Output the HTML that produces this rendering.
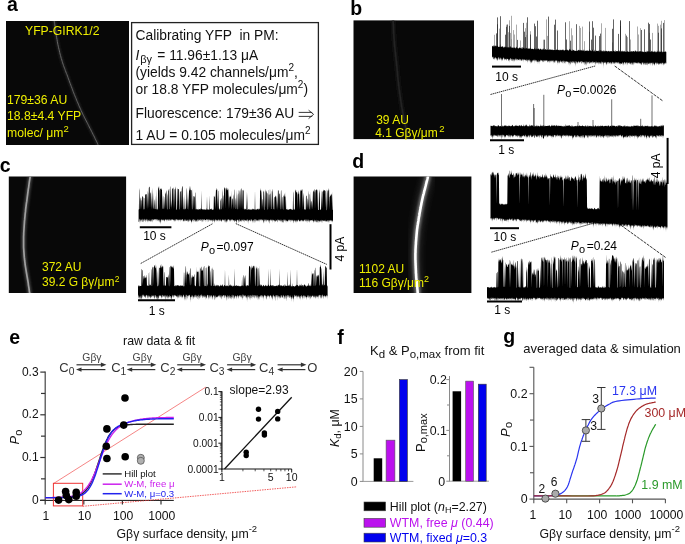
<!DOCTYPE html>
<html><head><meta charset="utf-8"><style>
html,body{margin:0;padding:0;background:#fff;}
svg{display:block;}
text{font-family:"Liberation Sans",sans-serif;}
</style></head><body>
<svg width="685" height="544" viewBox="0 0 685 544">
<rect width="685" height="544" fill="#fff"/>
<g opacity="0.999">
<text x="7.0" y="10.6" font-size="19.5" fill="#000" text-anchor="start" font-weight="bold">a</text>
<text x="350.3" y="14.8" font-size="19.5" fill="#000" text-anchor="start" font-weight="bold">b</text>
<text x="-0.2" y="171.9" font-size="19.5" fill="#000" text-anchor="start" font-weight="bold">c</text>
<text x="352.2" y="167.7" font-size="19.5" fill="#000" text-anchor="start" font-weight="bold">d</text>
<text x="9.3" y="343.6" font-size="19.5" fill="#000" text-anchor="start" font-weight="bold">e</text>
<text x="337.2" y="343.7" font-size="19.5" fill="#000" text-anchor="start" font-weight="bold">f</text>
<text x="503.3" y="343.4" font-size="19.5" fill="#000" text-anchor="start" font-weight="bold">g</text>
<defs><filter id="blur1" x="-50%" y="-50%" width="200%" height="200%"><feGaussianBlur stdDeviation="1.2"/></filter><filter id="blur3" x="-50%" y="-50%" width="200%" height="200%"><feGaussianBlur stdDeviation="3"/></filter></defs>
<rect x="6" y="21" width="123" height="124" fill="#080808" />
<g clip-path="url(#clip6_21)">
<clipPath id="clip6_21"><rect x="6" y="21" width="123" height="124"/></clipPath>
<path d="M53.8,19.0 L53.8,19.1 L53.8,19.2 L53.8,19.2 L53.9,19.2 L53.9,19.3 L53.9,19.4 L53.9,19.5 L54.0,19.8 L54.1,20.2 L54.1,20.7 L54.3,21.4 L54.4,22.3 L54.6,23.4 L54.8,24.8 L55.0,26.3 L55.2,28.0 L55.5,29.8 L55.8,31.7 L56.0,33.7 L56.3,35.6 L56.6,37.6 L57.0,39.5 L57.3,41.3 L57.6,43.0 L57.9,44.6 L58.3,46.2 L58.6,47.8 L59.0,49.4 L59.4,50.9 L59.7,52.5 L60.1,54.0 L60.5,55.5 L60.9,57.0 L61.3,58.5 L61.8,60.0 L62.2,61.4 L62.6,62.8 L63.1,64.2 L63.5,65.5 L64.0,66.9 L64.5,68.2 L65.0,69.5 L65.4,70.7 L65.9,72.0 L66.4,73.4 L67.0,74.7 L67.5,76.1 L68.0,77.5 L68.5,79.0 L69.1,80.5 L69.6,82.0 L70.2,83.5 L70.8,85.1 L71.4,86.7 L72.0,88.3 L72.6,89.9 L73.1,91.4 L73.7,92.9 L74.3,94.4 L74.9,95.9 L75.5,97.3 L76.1,98.7 L76.6,100.1 L77.2,101.5 L77.8,102.9 L78.4,104.2 L78.9,105.6 L79.5,106.9 L80.1,108.2 L80.7,109.5 L81.2,110.7 L81.8,112.0 L82.4,113.2 L82.9,114.4 L83.5,115.5 L84.1,116.7 L84.6,117.8 L85.2,118.9 L85.7,119.9 L86.3,121.0 L86.9,122.2 L87.5,123.3 L88.1,124.5 L88.7,125.7 L89.3,127.0 L90.0,128.4 L90.8,129.8 L91.5,131.3 L92.3,132.8 L93.0,134.3 L93.8,135.8 L94.5,137.2 L95.1,138.6 L95.7,139.8 L96.3,140.9 L96.7,141.8 L97.1,142.6 L97.4,143.2 L97.6,143.8 L97.8,144.2 L97.9,144.6 L98.0,144.9 L98.1,145.2 L98.2,145.4 L98.2,145.5 L98.3,145.7 L98.3,145.8 L98.4,146.0" fill="none" stroke="#444" stroke-width="3" stroke-opacity="0.45" filter="url(#blur1)"/>
<path d="M53.8,19.0 L53.8,19.1 L53.8,19.2 L53.8,19.2 L53.9,19.2 L53.9,19.3 L53.9,19.4 L53.9,19.5 L54.0,19.8 L54.1,20.2 L54.1,20.7 L54.3,21.4 L54.4,22.3 L54.6,23.4 L54.8,24.8 L55.0,26.3 L55.2,28.0 L55.5,29.8 L55.8,31.7 L56.0,33.7 L56.3,35.6 L56.6,37.6 L57.0,39.5 L57.3,41.3 L57.6,43.0 L57.9,44.6 L58.3,46.2 L58.6,47.8 L59.0,49.4 L59.4,50.9 L59.7,52.5 L60.1,54.0 L60.5,55.5 L60.9,57.0 L61.3,58.5 L61.8,60.0 L62.2,61.4 L62.6,62.8 L63.1,64.2 L63.5,65.5 L64.0,66.9 L64.5,68.2 L65.0,69.5 L65.4,70.7 L65.9,72.0 L66.4,73.4 L67.0,74.7 L67.5,76.1 L68.0,77.5 L68.5,79.0 L69.1,80.5 L69.6,82.0 L70.2,83.5 L70.8,85.1 L71.4,86.7 L72.0,88.3 L72.6,89.9 L73.1,91.4 L73.7,92.9 L74.3,94.4 L74.9,95.9 L75.5,97.3 L76.1,98.7 L76.6,100.1 L77.2,101.5 L77.8,102.9 L78.4,104.2 L78.9,105.6 L79.5,106.9 L80.1,108.2 L80.7,109.5 L81.2,110.7 L81.8,112.0 L82.4,113.2 L82.9,114.4 L83.5,115.5 L84.1,116.7 L84.6,117.8 L85.2,118.9 L85.7,119.9 L86.3,121.0 L86.9,122.2 L87.5,123.3 L88.1,124.5 L88.7,125.7 L89.3,127.0 L90.0,128.4 L90.8,129.8 L91.5,131.3 L92.3,132.8 L93.0,134.3 L93.8,135.8 L94.5,137.2 L95.1,138.6 L95.7,139.8 L96.3,140.9 L96.7,141.8 L97.1,142.6 L97.4,143.2 L97.6,143.8 L97.8,144.2 L97.9,144.6 L98.0,144.9 L98.1,145.2 L98.2,145.4 L98.2,145.5 L98.3,145.7 L98.3,145.8 L98.4,146.0" fill="none" stroke="#6a6a6a" stroke-width="0.9"/>
</g>
<text x="25" y="35.2" font-size="12.2" fill="#eeee00" text-anchor="start" >YFP-GIRK1/2</text>
<text x="7" y="103.7" font-size="12.2" fill="#eeee00" text-anchor="start" >179±36 AU</text>
<text x="7" y="120.4" font-size="12.2" fill="#eeee00" text-anchor="start" >18.8±4.4 YFP</text>
<text x="7" y="136.5" font-size="12.2" fill="#eeee00" text-anchor="start" >molec/ μm<tspan font-size="9.5" dy="-4.5">2</tspan></text>
<rect x="131.6" y="22.6" width="186.8" height="121.8" fill="#fff" stroke="#222" stroke-width="1.3"/>
<text x="135.5" y="40.1" font-size="13.8" fill="#111" text-anchor="start" >Calibrating YFP&#160; in PM:</text>
<text x="135.5" y="60.3" font-size="13.8" fill="#111" text-anchor="start" ><tspan font-style="italic">I</tspan><tspan font-size="11" dy="3" dx="0.8">βγ</tspan><tspan dy="-3" dx="1.5"> = 11.96±1.13 μA</tspan></text>
<text x="135.5" y="77.3" font-size="13.8" fill="#111" text-anchor="start" >(yields 9.42 channels/μm<tspan font-size="10" dy="-6">2</tspan><tspan dy="6">,</tspan></text>
<text x="135.5" y="94.2" font-size="13.8" fill="#111" text-anchor="start" >or 18.8 YFP molecules/μm<tspan font-size="10" dy="-6">2</tspan><tspan dy="6">)</tspan></text>
<text x="135.5" y="117.7" font-size="13.8" fill="#111" text-anchor="start" >Fluorescence: 179±36 AU</text>
<path d="M298.7,112.4H312.2M298.7,116.4H312.2M308.6,110.2L313.6,114.4L308.6,118.6" fill="none" stroke="#222" stroke-width="0.9"/>
<text x="135.5" y="139.9" font-size="13.8" fill="#111" text-anchor="start" >1 AU = 0.105 molecules/μm<tspan font-size="10" dy="-6">2</tspan></text>
<rect x="353.5" y="20.4" width="120.5" height="118.7" fill="#080808" />
<g clip-path="url(#clip353_20)">
<clipPath id="clip353_20"><rect x="353.5" y="20.4" width="120.5" height="118.7"/></clipPath>
<path d="M393.0,19.0 L393.0,19.1 L393.0,19.2 L393.0,19.2 L393.0,19.2 L393.0,19.3 L393.0,19.4 L393.0,19.5 L393.1,19.8 L393.1,20.2 L393.1,20.7 L393.2,21.3 L393.2,22.2 L393.3,23.3 L393.3,24.5 L393.4,25.9 L393.5,27.5 L393.5,29.2 L393.6,30.9 L393.7,32.7 L393.8,34.6 L393.9,36.5 L394.0,38.4 L394.2,40.2 L394.3,42.0 L394.4,43.8 L394.6,45.6 L394.8,47.4 L395.0,49.2 L395.2,51.1 L395.4,53.0 L395.6,54.8 L395.8,56.7 L396.0,58.6 L396.2,60.5 L396.4,62.3 L396.6,64.2 L396.8,66.0 L397.0,67.9 L397.1,69.7 L397.3,71.5 L397.5,73.4 L397.6,75.2 L397.8,77.0 L398.0,78.9 L398.2,80.7 L398.4,82.5 L398.6,84.4 L398.8,86.2 L399.0,88.1 L399.3,89.9 L399.5,91.8 L399.8,93.7 L400.1,95.6 L400.3,97.5 L400.6,99.4 L400.9,101.3 L401.2,103.1 L401.4,104.9 L401.7,106.6 L402.0,108.3 L402.3,109.9 L402.6,111.6 L402.9,113.1 L403.2,114.7 L403.5,116.2 L403.8,117.7 L404.1,119.2 L404.3,120.6 L404.6,122.0 L404.9,123.4 L405.2,124.7 L405.4,126.0 L405.6,127.3 L405.9,128.6 L406.1,129.9 L406.3,131.2 L406.5,132.4 L406.7,133.6 L406.9,134.7 L407.1,135.8 L407.2,136.8 L407.4,137.7 L407.5,138.5 L407.6,139.2 L407.7,139.8 L407.8,140.2 L407.8,140.5 L407.9,140.7 L407.9,140.8 L407.9,140.9 L407.9,141.0 L407.9,141.0 L407.9,140.9 L407.9,140.9 L407.9,140.9 L407.9,141.0" fill="none" stroke="#1c1c1c" stroke-width="4" stroke-opacity="0.7" filter="url(#blur1)"/>
<path d="M393.0,19.0 L393.0,19.1 L393.0,19.2 L393.0,19.2 L393.0,19.2 L393.0,19.3 L393.0,19.4 L393.0,19.5 L393.1,19.8 L393.1,20.2 L393.1,20.7 L393.2,21.3 L393.2,22.2 L393.3,23.3 L393.3,24.5 L393.4,25.9 L393.5,27.5 L393.5,29.2 L393.6,30.9 L393.7,32.7 L393.8,34.6 L393.9,36.5 L394.0,38.4 L394.2,40.2 L394.3,42.0 L394.4,43.8 L394.6,45.6 L394.8,47.4 L395.0,49.2 L395.2,51.1 L395.4,53.0 L395.6,54.8 L395.8,56.7 L396.0,58.6 L396.2,60.5 L396.4,62.3 L396.6,64.2 L396.8,66.0 L397.0,67.9 L397.1,69.7 L397.3,71.5 L397.5,73.4 L397.6,75.2 L397.8,77.0 L398.0,78.9 L398.2,80.7 L398.4,82.5 L398.6,84.4 L398.8,86.2 L399.0,88.1 L399.3,89.9 L399.5,91.8 L399.8,93.7 L400.1,95.6 L400.3,97.5 L400.6,99.4 L400.9,101.3 L401.2,103.1 L401.4,104.9 L401.7,106.6 L402.0,108.3 L402.3,109.9 L402.6,111.6 L402.9,113.1 L403.2,114.7 L403.5,116.2 L403.8,117.7 L404.1,119.2 L404.3,120.6 L404.6,122.0 L404.9,123.4 L405.2,124.7 L405.4,126.0 L405.6,127.3 L405.9,128.6 L406.1,129.9 L406.3,131.2 L406.5,132.4 L406.7,133.6 L406.9,134.7 L407.1,135.8 L407.2,136.8 L407.4,137.7 L407.5,138.5 L407.6,139.2 L407.7,139.8 L407.8,140.2 L407.8,140.5 L407.9,140.7 L407.9,140.8 L407.9,140.9 L407.9,141.0 L407.9,141.0 L407.9,140.9 L407.9,140.9 L407.9,140.9 L407.9,141.0" fill="none" stroke="#242424" stroke-width="1.4"/>
</g>
<text x="376.2" y="123.5" font-size="12" fill="#eeee00" text-anchor="start" >39 AU</text>
<text x="375.2" y="137" font-size="12" fill="#eeee00" text-anchor="start" >4.1 Gβγ/μm<tspan font-size="9.5" dy="-5.5" dx="1.5">2</tspan></text>
<rect x="8.8" y="176.5" width="117.3" height="116.5" fill="#080808" />
<g clip-path="url(#clip8_176)">
<clipPath id="clip8_176"><rect x="8.8" y="176.5" width="117.3" height="116.5"/></clipPath>
<path d="M30.5,175.0 L30.5,175.1 L30.5,175.1 L30.5,175.1 L30.5,175.0 L30.5,175.0 L30.4,175.1 L30.4,175.1 L30.4,175.3 L30.4,175.6 L30.3,176.0 L30.2,176.5 L30.1,177.2 L30.0,178.1 L29.8,179.1 L29.6,180.3 L29.4,181.6 L29.2,183.0 L29.0,184.5 L28.8,186.0 L28.6,187.6 L28.3,189.2 L28.1,190.8 L27.9,192.4 L27.7,193.9 L27.5,195.4 L27.3,196.9 L27.1,198.5 L26.9,200.1 L26.7,201.7 L26.4,203.3 L26.2,204.9 L26.0,206.6 L25.8,208.2 L25.6,209.8 L25.5,211.4 L25.3,213.0 L25.1,214.6 L25.0,216.2 L24.8,217.8 L24.7,219.4 L24.5,221.0 L24.4,222.6 L24.3,224.2 L24.2,225.8 L24.1,227.4 L24.0,229.0 L23.9,230.5 L23.8,232.0 L23.7,233.5 L23.7,234.9 L23.6,236.4 L23.6,237.8 L23.6,239.2 L23.6,240.6 L23.6,242.0 L23.6,243.4 L23.6,244.7 L23.6,246.1 L23.6,247.5 L23.7,248.9 L23.8,250.3 L23.9,251.7 L24.0,253.1 L24.1,254.6 L24.2,256.0 L24.3,257.4 L24.5,258.8 L24.6,260.2 L24.8,261.6 L25.0,263.0 L25.1,264.3 L25.3,265.6 L25.5,266.9 L25.7,268.1 L25.9,269.4 L26.1,270.6 L26.3,271.8 L26.5,273.0 L26.7,274.2 L26.9,275.4 L27.1,276.6 L27.3,277.7 L27.5,278.9 L27.7,280.0 L27.9,281.2 L28.1,282.4 L28.3,283.6 L28.4,284.8 L28.6,286.1 L28.8,287.3 L29.0,288.4 L29.1,289.5 L29.3,290.6 L29.4,291.5 L29.5,292.3 L29.6,293.0 L29.7,293.6 L29.7,294.0 L29.8,294.3 L29.8,294.6 L29.8,294.7 L29.8,294.8 L29.8,294.9 L29.8,294.9 L29.8,294.9 L29.8,294.9 L29.8,294.9 L29.8,295.0" fill="none" stroke="#777" stroke-width="4.5" stroke-opacity="0.5" filter="url(#blur1)"/>
<path d="M30.5,175.0 L30.5,175.1 L30.5,175.1 L30.5,175.1 L30.5,175.0 L30.5,175.0 L30.4,175.1 L30.4,175.1 L30.4,175.3 L30.4,175.6 L30.3,176.0 L30.2,176.5 L30.1,177.2 L30.0,178.1 L29.8,179.1 L29.6,180.3 L29.4,181.6 L29.2,183.0 L29.0,184.5 L28.8,186.0 L28.6,187.6 L28.3,189.2 L28.1,190.8 L27.9,192.4 L27.7,193.9 L27.5,195.4 L27.3,196.9 L27.1,198.5 L26.9,200.1 L26.7,201.7 L26.4,203.3 L26.2,204.9 L26.0,206.6 L25.8,208.2 L25.6,209.8 L25.5,211.4 L25.3,213.0 L25.1,214.6 L25.0,216.2 L24.8,217.8 L24.7,219.4 L24.5,221.0 L24.4,222.6 L24.3,224.2 L24.2,225.8 L24.1,227.4 L24.0,229.0 L23.9,230.5 L23.8,232.0 L23.7,233.5 L23.7,234.9 L23.6,236.4 L23.6,237.8 L23.6,239.2 L23.6,240.6 L23.6,242.0 L23.6,243.4 L23.6,244.7 L23.6,246.1 L23.6,247.5 L23.7,248.9 L23.8,250.3 L23.9,251.7 L24.0,253.1 L24.1,254.6 L24.2,256.0 L24.3,257.4 L24.5,258.8 L24.6,260.2 L24.8,261.6 L25.0,263.0 L25.1,264.3 L25.3,265.6 L25.5,266.9 L25.7,268.1 L25.9,269.4 L26.1,270.6 L26.3,271.8 L26.5,273.0 L26.7,274.2 L26.9,275.4 L27.1,276.6 L27.3,277.7 L27.5,278.9 L27.7,280.0 L27.9,281.2 L28.1,282.4 L28.3,283.6 L28.4,284.8 L28.6,286.1 L28.8,287.3 L29.0,288.4 L29.1,289.5 L29.3,290.6 L29.4,291.5 L29.5,292.3 L29.6,293.0 L29.7,293.6 L29.7,294.0 L29.8,294.3 L29.8,294.6 L29.8,294.7 L29.8,294.8 L29.8,294.9 L29.8,294.9 L29.8,294.9 L29.8,294.9 L29.8,294.9 L29.8,295.0" fill="none" stroke="#a0a0a0" stroke-width="1.7"/>
</g>
<text x="42" y="270.9" font-size="12" fill="#eeee00" text-anchor="start" >372 AU</text>
<text x="42" y="285.6" font-size="12" fill="#eeee00" text-anchor="start" >39.2 G βγ/μm<tspan font-size="8.5" dy="-3.6" dx="0.3">2</tspan></text>
<rect x="353.6" y="176.5" width="117.8" height="116.5" fill="#080808" />
<g clip-path="url(#clip353_176)">
<clipPath id="clip353_176"><rect x="353.6" y="176.5" width="117.8" height="116.5"/></clipPath>
<path d="M428.3,174.0 L428.3,174.2 L428.2,174.4 L428.2,174.6 L428.2,174.9 L428.1,175.2 L428.1,175.6 L428.0,175.9 L428.0,176.3 L427.9,176.7 L427.8,177.2 L427.7,177.7 L427.6,178.2 L427.5,178.8 L427.3,179.4 L427.2,180.0 L427.0,180.7 L426.8,181.4 L426.6,182.2 L426.4,182.9 L426.2,183.7 L426.0,184.5 L425.8,185.4 L425.6,186.2 L425.4,187.0 L425.2,187.8 L425.0,188.7 L424.7,189.6 L424.5,190.5 L424.2,191.4 L424.0,192.4 L423.8,193.3 L423.5,194.3 L423.3,195.2 L423.0,196.1 L422.8,197.1 L422.6,198.0 L422.4,198.9 L422.2,199.8 L422.0,200.7 L421.8,201.7 L421.6,202.6 L421.4,203.5 L421.3,204.4 L421.1,205.3 L420.9,206.2 L420.7,207.2 L420.6,208.1 L420.4,209.0 L420.2,209.9 L420.1,210.8 L419.9,211.8 L419.7,212.7 L419.6,213.6 L419.4,214.6 L419.3,215.5 L419.1,216.4 L418.9,217.3 L418.8,218.3 L418.6,219.2 L418.5,220.1 L418.4,221.0 L418.2,221.9 L418.1,222.8 L417.9,223.7 L417.8,224.5 L417.6,225.4 L417.5,226.3 L417.4,227.2 L417.3,228.1 L417.1,229.1 L417.0,230.1 L416.9,231.1 L416.8,232.2 L416.7,233.3 L416.6,234.4 L416.5,235.6 L416.4,236.8 L416.3,238.0 L416.2,239.3 L416.1,240.5 L416.0,241.7 L415.9,242.8 L415.9,243.9 L415.8,245.0 L415.7,246.0 L415.7,247.0 L415.6,248.0 L415.6,248.9 L415.5,249.8 L415.5,250.7 L415.5,251.6 L415.5,252.4 L415.4,253.3 L415.4,254.2 L415.4,255.1 L415.4,256.0 L415.4,256.9 L415.4,257.8 L415.4,258.7 L415.4,259.7 L415.5,260.6 L415.5,261.5 L415.5,262.4 L415.6,263.3 L415.6,264.2 L415.6,265.2 L415.7,266.1 L415.7,267.0 L415.7,267.9 L415.8,268.8 L415.8,269.8 L415.9,270.7 L415.9,271.6 L415.9,272.6 L416.0,273.5 L416.1,274.4 L416.1,275.3 L416.2,276.3 L416.2,277.2 L416.3,278.1 L416.4,279.0 L416.5,280.0 L416.6,281.0 L416.7,282.0 L416.8,282.9 L416.9,283.9 L417.0,284.9 L417.1,285.8 L417.2,286.7 L417.3,287.6 L417.3,288.4 L417.4,289.1 L417.5,289.8 L417.5,290.4 L417.6,291.1 L417.6,291.7 L417.6,292.2 L417.7,292.7 L417.7,293.2 L417.7,293.7 L417.7,294.1 L417.8,294.4 L417.8,294.7 L417.8,295.0" fill="none" stroke="#666" stroke-width="10" stroke-opacity="0.35" filter="url(#blur3)"/>
<path d="M428.3,174.0 L428.3,174.2 L428.2,174.4 L428.2,174.6 L428.2,174.9 L428.1,175.2 L428.1,175.6 L428.0,175.9 L428.0,176.3 L427.9,176.7 L427.8,177.2 L427.7,177.7 L427.6,178.2 L427.5,178.8 L427.3,179.4 L427.2,180.0 L427.0,180.7 L426.8,181.4 L426.6,182.2 L426.4,182.9 L426.2,183.7 L426.0,184.5 L425.8,185.4 L425.6,186.2 L425.4,187.0 L425.2,187.8 L425.0,188.7 L424.7,189.6 L424.5,190.5 L424.2,191.4 L424.0,192.4 L423.8,193.3 L423.5,194.3 L423.3,195.2 L423.0,196.1 L422.8,197.1 L422.6,198.0 L422.4,198.9 L422.2,199.8 L422.0,200.7 L421.8,201.7 L421.6,202.6 L421.4,203.5 L421.3,204.4 L421.1,205.3 L420.9,206.2 L420.7,207.2 L420.6,208.1 L420.4,209.0 L420.2,209.9 L420.1,210.8 L419.9,211.8 L419.7,212.7 L419.6,213.6 L419.4,214.6 L419.3,215.5 L419.1,216.4 L418.9,217.3 L418.8,218.3 L418.6,219.2 L418.5,220.1 L418.4,221.0 L418.2,221.9 L418.1,222.8 L417.9,223.7 L417.8,224.5 L417.6,225.4 L417.5,226.3 L417.4,227.2 L417.3,228.1 L417.1,229.1 L417.0,230.1 L416.9,231.1 L416.8,232.2 L416.7,233.3 L416.6,234.4 L416.5,235.6 L416.4,236.8 L416.3,238.0 L416.2,239.3 L416.1,240.5 L416.0,241.7 L415.9,242.8 L415.9,243.9 L415.8,245.0 L415.7,246.0 L415.7,247.0 L415.6,248.0 L415.6,248.9 L415.5,249.8 L415.5,250.7 L415.5,251.6 L415.5,252.4 L415.4,253.3 L415.4,254.2 L415.4,255.1 L415.4,256.0 L415.4,256.9 L415.4,257.8 L415.4,258.7 L415.4,259.7 L415.5,260.6 L415.5,261.5 L415.5,262.4 L415.6,263.3 L415.6,264.2 L415.6,265.2 L415.7,266.1 L415.7,267.0 L415.7,267.9 L415.8,268.8 L415.8,269.8 L415.9,270.7 L415.9,271.6 L415.9,272.6 L416.0,273.5 L416.1,274.4 L416.1,275.3 L416.2,276.3 L416.2,277.2 L416.3,278.1 L416.4,279.0 L416.5,280.0 L416.6,281.0 L416.7,282.0 L416.8,282.9 L416.9,283.9 L417.0,284.9 L417.1,285.8 L417.2,286.7 L417.3,287.6 L417.3,288.4 L417.4,289.1 L417.5,289.8 L417.5,290.4 L417.6,291.1 L417.6,291.7 L417.6,292.2 L417.7,292.7 L417.7,293.2 L417.7,293.7 L417.7,294.1 L417.8,294.4 L417.8,294.7 L417.8,295.0" fill="none" stroke="#aaa" stroke-width="6" stroke-opacity="0.55" filter="url(#blur1)"/>
<path d="M428.3,174.0 L428.3,174.2 L428.2,174.4 L428.2,174.6 L428.2,174.9 L428.1,175.2 L428.1,175.6 L428.0,175.9 L428.0,176.3 L427.9,176.7 L427.8,177.2 L427.7,177.7 L427.6,178.2 L427.5,178.8 L427.3,179.4 L427.2,180.0 L427.0,180.7 L426.8,181.4 L426.6,182.2 L426.4,182.9 L426.2,183.7 L426.0,184.5 L425.8,185.4 L425.6,186.2 L425.4,187.0 L425.2,187.8 L425.0,188.7 L424.7,189.6 L424.5,190.5 L424.2,191.4 L424.0,192.4 L423.8,193.3 L423.5,194.3 L423.3,195.2 L423.0,196.1 L422.8,197.1 L422.6,198.0 L422.4,198.9 L422.2,199.8 L422.0,200.7 L421.8,201.7 L421.6,202.6 L421.4,203.5 L421.3,204.4 L421.1,205.3 L420.9,206.2 L420.7,207.2 L420.6,208.1 L420.4,209.0 L420.2,209.9 L420.1,210.8 L419.9,211.8 L419.7,212.7 L419.6,213.6 L419.4,214.6 L419.3,215.5 L419.1,216.4 L418.9,217.3 L418.8,218.3 L418.6,219.2 L418.5,220.1 L418.4,221.0 L418.2,221.9 L418.1,222.8 L417.9,223.7 L417.8,224.5 L417.6,225.4 L417.5,226.3 L417.4,227.2 L417.3,228.1 L417.1,229.1 L417.0,230.1 L416.9,231.1 L416.8,232.2 L416.7,233.3 L416.6,234.4 L416.5,235.6 L416.4,236.8 L416.3,238.0 L416.2,239.3 L416.1,240.5 L416.0,241.7 L415.9,242.8 L415.9,243.9 L415.8,245.0 L415.7,246.0 L415.7,247.0 L415.6,248.0 L415.6,248.9 L415.5,249.8 L415.5,250.7 L415.5,251.6 L415.5,252.4 L415.4,253.3 L415.4,254.2 L415.4,255.1 L415.4,256.0 L415.4,256.9 L415.4,257.8 L415.4,258.7 L415.4,259.7 L415.5,260.6 L415.5,261.5 L415.5,262.4 L415.6,263.3 L415.6,264.2 L415.6,265.2 L415.7,266.1 L415.7,267.0 L415.7,267.9 L415.8,268.8 L415.8,269.8 L415.9,270.7 L415.9,271.6 L415.9,272.6 L416.0,273.5 L416.1,274.4 L416.1,275.3 L416.2,276.3 L416.2,277.2 L416.3,278.1 L416.4,279.0 L416.5,280.0 L416.6,281.0 L416.7,282.0 L416.8,282.9 L416.9,283.9 L417.0,284.9 L417.1,285.8 L417.2,286.7 L417.3,287.6 L417.3,288.4 L417.4,289.1 L417.5,289.8 L417.5,290.4 L417.6,291.1 L417.6,291.7 L417.6,292.2 L417.7,292.7 L417.7,293.2 L417.7,293.7 L417.7,294.1 L417.8,294.4 L417.8,294.7 L417.8,295.0" fill="none" stroke="#ffffff" stroke-width="2.6"/>
</g>
<text x="359" y="272.7" font-size="12" fill="#eeee00" text-anchor="start" >1102 AU</text>
<text x="359" y="287.1" font-size="12" fill="#eeee00" text-anchor="start" >116 Gβγ/μm<tspan font-size="9" dy="-5">2</tspan></text>
<path d="M571.5 28.3V50.3M652.5 32.9V52.6M580.5 27.9V50.5M525.5 28.2V49.0M601.5 23.3V51.1M510.5 32.9V48.5M509.5 20.3V48.5M612.5 42.4V51.5M661.5 20.8V52.9M605.5 27.9V51.3M520.5 40.5V48.8M584.5 41.2V50.6M526.5 34.9V49.0M499.5 28.6V48.2M569.5 21.2V50.2M582.5 26.6V50.6M579.5 25.9V50.5M572.5 35.3V50.3M664.5 20.1V52.9M637.5 26.5V52.2M547.5 35.9V49.6M543.5 39.7V49.5M625.5 33.8V51.8M638.5 34.5V52.2M657.5 23.6V52.8M494.5 34.8V48.1M649.5 32.8V52.5M661.5 34.9V52.9M506.5 24.7V48.4M627.5 37.1V51.9M508.5 32.2V48.5M658.5 25.8V52.8M514.5 34.5V48.6M511.5 39.1V48.6M630.5 39.5V52.0M589.5 31.6V50.8M526.5 22.7V49.0M516.5 24.6V48.7M513.5 30.1V48.6M530.5 34.4V49.1M660.5 24.7V52.8M546.5 19.4V49.5M530.5 31.2V49.1M640.5 28.2V52.2M511.5 15.8V48.5" stroke="#888" stroke-width="0.7" fill="none"/>
<path d="M530.5 34.6V49.1M626.5 35.6V51.8M544.5 39.7V49.5M509.5 25.9V48.5M535.5 26.2V49.2M557.5 30.5V49.9M658.5 32.7V52.8M592.5 21.2V50.9M525.5 37.1V49.0M649.5 24.1V52.5M536.5 36.5V49.3M620.5 20.2V51.7M527.5 17.3V49.0M644.5 29.3V52.4M566.5 39.5V50.1M500.5 16.2V48.2M534.5 23.6V49.2M537.5 20.7V49.3M595.5 35.6V51.0M523.5 22.9V48.9M505.5 34.7V48.4M589.5 21.5V50.8M599.5 36.1V51.1M650.5 39.5V52.6M496.5 33.4V48.1M570.5 40.7V50.2M524.5 31.7V48.9M591.5 39.6V50.9M555.5 19.6V49.8M661.5 28.4V52.9M612.5 28.8V51.4M517.5 39.9V48.7M497.5 17.4V48.1M613.5 19.4V51.5M497.5 24.3V48.2M576.5 24.2V50.4M548.5 16.6V49.6M506.5 26.8V48.4M620.5 21.2V51.7M620.5 26.1V51.7M629.5 21.1V51.9M554.5 24.7V49.8M648.5 22.7V52.5M565.5 22.3V50.1M641.5 30.0V52.3M600.5 33.6V51.1M593.5 27.7V50.9M507.5 24.5V48.5M663.5 22.9V52.9M618.5 33.9V51.6" stroke="#222" stroke-width="0.7" fill="none"/>
<path d="M492.0,55.8 L492.3,55.8 L492.6,56.4 L492.9,55.5 L493.2,55.8 L493.5,57.8 L493.8,57.8 L494.1,57.6 L494.4,56.2 L494.7,58.7 L495.0,56.4 L495.3,56.9 L495.6,56.2 L495.9,56.1 L496.2,57.5 L496.5,57.4 L496.8,57.1 L497.1,59.5 L497.4,58.4 L497.7,57.0 L498.0,58.7 L498.3,56.5 L498.6,56.0 L498.9,56.5 L499.2,59.0 L499.5,56.3 L499.8,58.8 L500.1,56.3 L500.4,57.1 L500.7,57.6 L501.0,56.5 L501.3,59.7 L501.6,57.4 L501.9,57.8 L502.2,58.7 L502.5,57.3 L502.8,60.2 L503.1,56.4 L503.4,56.5 L503.7,56.8 L504.0,56.9 L504.3,58.8 L504.6,57.3 L504.9,58.1 L505.2,57.8 L505.5,58.0 L505.8,58.3 L506.1,57.6 L506.4,59.2 L506.7,58.1 L507.0,57.4 L507.3,58.0 L507.6,57.9 L507.9,57.8 L508.2,58.0 L508.5,59.4 L508.8,59.4 L509.1,58.1 L509.4,59.4 L509.7,58.1 L510.0,58.7 L510.3,57.0 L510.6,57.0 L510.9,57.4 L511.2,58.8 L511.5,58.3 L511.8,57.8 L512.1,57.4 L512.4,60.2 L512.7,58.2 L513.0,58.0 L513.3,58.6 L513.6,57.9 L513.9,60.1 L514.2,58.5 L514.5,57.7 L514.8,60.4 L515.1,57.3 L515.4,57.6 L515.7,59.0 L516.0,57.7 L516.3,57.5 L516.6,59.0 L516.9,58.2 L517.2,58.6 L517.5,58.1 L517.8,58.0 L518.1,58.8 L518.4,58.7 L518.7,58.8 L519.0,58.5 L519.3,57.5 L519.6,59.0 L519.9,58.0 L520.2,58.2 L520.5,58.1 L520.8,58.7 L521.1,59.5 L521.4,59.3 L521.7,59.5 L522.0,57.7 L522.3,58.1 L522.6,59.4 L522.9,58.1 L523.2,59.5 L523.5,58.3 L523.8,58.3 L524.1,58.4 L524.4,58.0 L524.7,58.9 L525.0,58.8 L525.3,59.3 L525.6,58.7 L525.9,58.7 L526.2,59.1 L526.5,60.2 L526.8,58.1 L527.1,58.4 L527.4,61.3 L527.7,58.8 L528.0,58.9 L528.3,59.0 L528.6,58.3 L528.9,59.5 L529.2,59.1 L529.5,58.2 L529.8,59.1 L530.1,61.7 L530.4,59.1 L530.7,59.8 L531.0,61.0 L531.3,61.9 L531.6,59.2 L531.9,61.5 L532.2,59.1 L532.5,60.3 L532.8,58.9 L533.1,59.7 L533.4,58.6 L533.7,59.6 L534.0,58.4 L534.3,58.9 L534.6,60.2 L534.9,58.5 L535.2,58.9 L535.5,58.7 L535.8,60.2 L536.1,60.5 L536.4,59.5 L536.7,58.9 L537.0,59.5 L537.3,60.6 L537.6,60.4 L537.9,61.3 L538.2,60.9 L538.5,60.6 L538.8,59.2 L539.1,59.4 L539.4,61.0 L539.7,59.9 L540.0,60.6 L540.3,58.6 L540.6,59.6 L540.9,59.2 L541.2,59.2 L541.5,59.0 L541.8,59.6 L542.1,59.9 L542.4,60.7 L542.7,59.2 L543.0,59.1 L543.3,59.0 L543.6,61.0 L543.9,59.4 L544.2,59.1 L544.5,60.1 L544.8,58.9 L545.1,60.2 L545.4,59.0 L545.7,59.2 L546.0,59.5 L546.3,59.3 L546.6,59.2 L546.9,59.4 L547.2,59.4 L547.5,59.6 L547.8,60.9 L548.1,60.3 L548.4,60.1 L548.7,60.6 L549.0,59.1 L549.3,60.4 L549.6,59.3 L549.9,60.5 L550.2,59.5 L550.5,60.4 L550.8,59.4 L551.1,59.0 L551.4,60.3 L551.7,59.9 L552.0,59.3 L552.3,60.6 L552.6,59.3 L552.9,59.5 L553.2,59.3 L553.5,59.8 L553.8,60.9 L554.1,59.5 L554.4,61.7 L554.7,59.7 L555.0,61.9 L555.3,59.7 L555.6,59.6 L555.9,59.3 L556.2,59.3 L556.5,59.8 L556.8,59.6 L557.1,59.4 L557.4,61.5 L557.7,62.1 L558.0,60.1 L558.3,59.7 L558.6,62.1 L558.9,59.9 L559.2,61.9 L559.5,60.2 L559.8,60.8 L560.1,59.4 L560.4,59.6 L560.7,60.0 L561.0,61.2 L561.3,60.6 L561.6,60.7 L561.9,60.1 L562.2,60.6 L562.5,60.5 L562.8,59.7 L563.1,59.6 L563.4,59.7 L563.7,60.7 L564.0,61.3 L564.3,60.0 L564.6,59.7 L564.9,62.5 L565.2,59.7 L565.5,60.9 L565.8,60.5 L566.1,59.8 L566.4,61.1 L566.7,60.0 L567.0,60.2 L567.3,60.4 L567.6,60.6 L567.9,60.9 L568.2,61.0 L568.5,60.5 L568.8,62.6 L569.1,61.9 L569.4,61.4 L569.7,60.2 L570.0,62.5 L570.3,63.0 L570.6,61.0 L570.9,59.9 L571.2,60.9 L571.5,61.7 L571.8,60.4 L572.1,60.0 L572.4,62.0 L572.7,60.1 L573.0,60.8 L573.3,60.0 L573.6,60.7 L573.9,61.5 L574.2,62.5 L574.5,61.1 L574.8,60.2 L575.1,61.5 L575.4,63.9 L575.7,60.0 L576.0,60.2 L576.3,60.5 L576.6,61.3 L576.9,60.3 L577.2,62.8 L577.5,60.7 L577.8,61.6 L578.1,60.3 L578.4,60.1 L578.7,60.8 L579.0,61.1 L579.3,60.8 L579.6,62.0 L579.9,60.4 L580.2,60.7 L580.5,60.2 L580.8,60.2 L581.1,63.0 L581.4,60.3 L581.7,60.1 L582.0,60.3 L582.3,61.3 L582.6,60.5 L582.9,60.5 L583.2,61.2 L583.5,61.1 L583.8,60.8 L584.1,64.2 L584.4,61.0 L584.7,60.4 L585.0,62.1 L585.3,63.8 L585.6,61.8 L585.9,60.2 L586.2,60.3 L586.5,64.3 L586.8,60.8 L587.1,61.0 L587.4,62.8 L587.7,60.6 L588.0,61.0 L588.3,60.9 L588.6,61.1 L588.9,60.6 L589.2,60.2 L589.5,63.1 L589.8,61.4 L590.1,62.2 L590.4,60.9 L590.7,60.8 L591.0,62.1 L591.3,61.0 L591.6,61.0 L591.9,60.7 L592.2,61.9 L592.5,60.5 L592.8,60.3 L593.1,60.9 L593.4,60.5 L593.7,61.8 L594.0,61.5 L594.3,60.7 L594.6,61.3 L594.9,61.0 L595.2,61.6 L595.5,64.1 L595.8,60.5 L596.1,60.4 L596.4,60.7 L596.7,62.4 L597.0,61.5 L597.3,61.1 L597.6,61.4 L597.9,61.7 L598.2,60.4 L598.5,62.8 L598.8,61.2 L599.1,60.9 L599.4,61.5 L599.7,61.2 L600.0,63.2 L600.3,61.2 L600.6,62.5 L600.9,60.9 L601.2,63.0 L601.5,60.6 L601.8,60.5 L602.1,61.9 L602.4,61.3 L602.7,60.7 L603.0,61.0 L603.3,65.1 L603.6,60.5 L603.9,62.2 L604.2,61.4 L604.5,61.9 L604.8,60.7 L605.1,60.8 L605.4,62.1 L605.7,60.8 L606.0,62.0 L606.3,63.6 L606.6,60.9 L606.9,63.8 L607.2,61.5 L607.5,61.0 L607.8,61.3 L608.1,60.8 L608.4,61.1 L608.7,60.9 L609.0,62.8 L609.3,61.4 L609.6,61.7 L609.9,61.2 L610.2,61.2 L610.5,61.6 L610.8,61.2 L611.1,61.7 L611.4,61.7 L611.7,63.5 L612.0,61.1 L612.3,61.6 L612.6,60.7 L612.9,60.7 L613.2,62.7 L613.5,61.8 L613.8,60.9 L614.1,61.2 L614.4,61.5 L614.7,62.5 L615.0,62.6 L615.3,60.8 L615.6,60.9 L615.9,62.0 L616.2,61.1 L616.5,61.2 L616.8,61.1 L617.1,62.0 L617.4,61.7 L617.7,61.3 L618.0,60.7 L618.3,61.5 L618.6,60.8 L618.9,62.0 L619.2,63.1 L619.5,61.2 L619.8,62.5 L620.1,61.7 L620.4,63.1 L620.7,62.1 L621.0,62.4 L621.3,63.0 L621.6,61.8 L621.9,62.9 L622.2,60.8 L622.5,61.8 L622.8,61.5 L623.1,62.6 L623.4,62.5 L623.7,62.7 L624.0,61.3 L624.3,61.2 L624.6,61.1 L624.9,61.6 L625.2,62.6 L625.5,62.4 L625.8,60.9 L626.1,62.2 L626.4,60.9 L626.7,60.9 L627.0,61.7 L627.3,61.0 L627.6,62.4 L627.9,62.3 L628.2,61.8 L628.5,62.1 L628.8,61.2 L629.1,61.7 L629.4,61.2 L629.7,61.7 L630.0,63.4 L630.3,62.9 L630.6,61.4 L630.9,62.6 L631.2,61.7 L631.5,61.2 L631.8,62.1 L632.1,62.1 L632.4,64.3 L632.7,61.0 L633.0,63.8 L633.3,61.6 L633.6,61.1 L633.9,62.4 L634.2,61.0 L634.5,61.5 L634.8,61.4 L635.1,61.4 L635.4,61.2 L635.7,61.8 L636.0,62.0 L636.3,62.0 L636.6,61.2 L636.9,62.6 L637.2,62.6 L637.5,61.4 L637.8,61.4 L638.1,62.0 L638.4,61.6 L638.7,61.0 L639.0,61.5 L639.3,61.6 L639.6,62.8 L639.9,62.0 L640.2,62.3 L640.5,62.5 L640.8,62.2 L641.1,62.4 L641.4,64.2 L641.7,62.7 L642.0,61.1 L642.3,61.4 L642.6,61.4 L642.9,61.9 L643.2,63.8 L643.5,62.5 L643.8,61.3 L644.1,62.4 L644.4,61.6 L644.7,62.1 L645.0,64.2 L645.3,62.0 L645.6,61.6 L645.9,63.8 L646.2,63.8 L646.5,62.0 L646.8,61.7 L647.1,61.3 L647.4,62.2 L647.7,64.6 L648.0,61.6 L648.3,63.0 L648.6,62.9 L648.9,61.8 L649.2,61.5 L649.5,62.2 L649.8,62.8 L650.1,62.1 L650.4,62.6 L650.7,61.2 L651.0,62.5 L651.3,61.4 L651.6,62.2 L651.9,61.6 L652.2,61.6 L652.5,65.0 L652.8,61.8 L653.1,61.7 L653.4,63.5 L653.7,61.2 L654.0,62.7 L654.3,63.8 L654.6,63.8 L654.9,62.6 L655.2,62.6 L655.5,61.4 L655.8,61.5 L656.1,61.5 L656.4,63.2 L656.7,61.4 L657.0,62.0 L657.3,61.5 L657.6,61.7 L657.9,63.0 L658.2,62.1 L658.5,63.9 L658.8,62.3 L659.1,62.4 L659.4,62.4 L659.7,62.2 L660.0,63.3 L660.3,61.8 L660.6,62.0 L660.9,62.5 L661.2,62.4 L661.5,61.4 L661.8,63.6 L662.1,61.6 L662.4,62.0 L662.7,62.0 L663.0,61.2 L663.3,64.8 L663.6,61.7 L663.9,63.2 L664.2,61.8 L664.5,62.5 L664.8,62.6 L665.1,62.6 L665.4,61.9 L665.7,61.5 L666.0,61.4 L666.3,62.8 L666.3,64.7 L666.0,62.9 L665.7,63.2 L665.4,64.3 L665.1,63.8 L664.8,64.8 L664.5,64.5 L664.2,63.9 L663.9,65.0 L663.6,62.7 L663.3,66.3 L663.0,62.5 L662.7,64.3 L662.4,65.1 L662.1,63.0 L661.8,65.7 L661.5,62.8 L661.2,64.1 L660.9,64.5 L660.6,63.5 L660.3,63.0 L660.0,65.1 L659.7,65.0 L659.4,63.4 L659.1,64.2 L658.8,64.4 L658.5,65.3 L658.2,64.0 L657.9,64.1 L657.6,63.9 L657.3,63.5 L657.0,63.1 L656.7,64.6 L656.4,65.7 L656.1,63.5 L655.8,63.2 L655.5,62.6 L655.2,63.6 L654.9,63.9 L654.6,66.3 L654.3,65.5 L654.0,64.6 L653.7,63.9 L653.4,64.6 L653.1,63.3 L652.8,63.2 L652.5,66.0 L652.2,63.4 L651.9,63.5 L651.6,63.2 L651.3,62.7 L651.0,65.2 L650.7,63.1 L650.4,66.1 L650.1,63.9 L649.8,64.6 L649.5,63.7 L649.2,63.0 L648.9,63.2 L648.6,63.9 L648.3,64.6 L648.0,63.5 L647.7,66.2 L647.4,63.6 L647.1,62.3 L646.8,63.5 L646.5,64.1 L646.2,64.9 L645.9,65.1 L645.6,62.7 L645.3,64.5 L645.0,65.4 L644.7,64.0 L644.4,63.3 L644.1,64.5 L643.8,63.2 L643.5,64.2 L643.2,65.8 L642.9,63.0 L642.6,63.9 L642.3,62.8 L642.0,62.2 L641.7,64.5 L641.4,65.4 L641.1,64.2 L640.8,65.1 L640.5,63.7 L640.2,63.4 L639.9,63.0 L639.6,64.3 L639.3,62.9 L639.0,63.2 L638.7,63.0 L638.4,64.3 L638.1,63.2 L637.8,62.7 L637.5,63.2 L637.2,64.0 L636.9,63.8 L636.6,62.9 L636.3,63.1 L636.0,64.0 L635.7,63.3 L635.4,62.6 L635.1,63.4 L634.8,62.9 L634.5,64.6 L634.2,62.7 L633.9,65.7 L633.6,62.4 L633.3,64.3 L633.0,65.8 L632.7,62.5 L632.4,65.6 L632.1,63.2 L631.8,64.7 L631.5,63.9 L631.2,65.0 L630.9,64.1 L630.6,63.3 L630.3,64.6 L630.0,64.6 L629.7,62.8 L629.4,63.5 L629.1,63.9 L628.8,62.7 L628.5,63.8 L628.2,63.0 L627.9,65.0 L627.6,64.7 L627.3,63.3 L627.0,66.1 L626.7,63.6 L626.4,62.5 L626.1,63.8 L625.8,62.7 L625.5,63.7 L625.2,64.7 L624.9,65.0 L624.6,62.7 L624.3,62.3 L624.0,62.4 L623.7,64.7 L623.4,65.4 L623.1,65.3 L622.8,63.0 L622.5,65.4 L622.2,63.5 L621.9,64.0 L621.6,63.4 L621.3,64.2 L621.0,63.8 L620.7,64.5 L620.4,65.5 L620.1,63.3 L619.8,63.7 L619.5,64.5 L619.2,64.2 L618.9,63.8 L618.6,62.9 L618.3,64.3 L618.0,62.4 L617.7,62.3 L617.4,63.8 L617.1,63.9 L616.8,63.0 L616.5,63.2 L616.2,63.0 L615.9,65.1 L615.6,62.2 L615.3,62.4 L615.0,63.9 L614.7,64.3 L614.4,63.3 L614.1,62.6 L613.8,62.1 L613.5,63.7 L613.2,64.1 L612.9,63.7 L612.6,62.6 L612.3,64.3 L612.0,63.1 L611.7,65.1 L611.4,63.3 L611.1,63.7 L610.8,62.8 L610.5,63.9 L610.2,64.4 L609.9,62.6 L609.6,64.0 L609.3,63.3 L609.0,63.8 L608.7,63.3 L608.4,63.7 L608.1,62.0 L607.8,62.6 L607.5,63.5 L607.2,63.5 L606.9,65.6 L606.6,62.6 L606.3,65.6 L606.0,65.0 L605.7,62.5 L605.4,63.7 L605.1,61.9 L604.8,61.8 L604.5,63.1 L604.2,62.8 L603.9,64.1 L603.6,63.2 L603.3,69.1 L603.0,62.1 L602.7,61.7 L602.4,62.6 L602.1,64.5 L601.8,62.0 L601.5,61.7 L601.2,65.7 L600.9,63.0 L600.6,64.3 L600.3,63.6 L600.0,64.7 L599.7,63.2 L599.4,63.5 L599.1,62.5 L598.8,64.0 L598.5,65.1 L598.2,62.3 L597.9,63.8 L597.6,63.5 L597.3,62.7 L597.0,62.7 L596.7,63.8 L596.4,62.2 L596.1,61.7 L595.8,62.6 L595.5,65.2 L595.2,62.7 L594.9,62.8 L594.6,64.0 L594.3,62.3 L594.0,63.3 L593.7,63.0 L593.4,62.8 L593.1,62.2 L592.8,61.5 L592.5,62.1 L592.2,64.1 L591.9,63.5 L591.6,62.4 L591.3,63.3 L591.0,63.2 L590.7,62.7 L590.4,62.1 L590.1,64.1 L589.8,63.3 L589.5,64.5 L589.2,61.5 L588.9,63.6 L588.6,62.6 L588.3,63.9 L588.0,62.3 L587.7,61.7 L587.4,64.3 L587.1,62.5 L586.8,62.4 L586.5,66.6 L586.2,63.7 L585.9,63.4 L585.6,62.9 L585.3,66.2 L585.0,63.4 L584.7,62.3 L584.4,62.3 L584.1,65.3 L583.8,63.1 L583.5,62.6 L583.2,63.4 L582.9,62.0 L582.6,62.4 L582.3,63.5 L582.0,62.5 L581.7,63.6 L581.4,62.7 L581.1,64.0 L580.8,61.2 L580.5,62.6 L580.2,62.1 L579.9,61.9 L579.6,63.2 L579.3,62.8 L579.0,63.7 L578.7,62.2 L578.4,62.6 L578.1,61.4 L577.8,64.0 L577.5,62.3 L577.2,64.1 L576.9,61.6 L576.6,64.0 L576.3,63.2 L576.0,63.1 L575.7,62.8 L575.4,66.9 L575.1,64.9 L574.8,62.5 L574.5,62.8 L574.2,63.8 L573.9,63.2 L573.6,62.2 L573.3,61.5 L573.0,63.3 L572.7,62.4 L572.4,63.6 L572.1,62.7 L571.8,61.9 L571.5,63.8 L571.2,62.6 L570.9,61.5 L570.6,62.6 L570.3,65.5 L570.0,64.2 L569.7,62.7 L569.4,63.8 L569.1,65.9 L568.8,64.4 L568.5,61.6 L568.2,62.8 L567.9,62.3 L567.6,62.3 L567.3,61.7 L567.0,62.1 L566.7,61.2 L566.4,62.4 L566.1,62.1 L565.8,63.2 L565.5,63.9 L565.2,61.2 L564.9,63.8 L564.6,62.3 L564.3,63.4 L564.0,63.3 L563.7,63.7 L563.4,60.8 L563.1,61.1 L562.8,63.4 L562.5,62.7 L562.2,63.6 L561.9,61.9 L561.6,63.2 L561.3,62.1 L561.0,62.7 L560.7,61.7 L560.4,61.8 L560.1,61.6 L559.8,63.2 L559.5,62.6 L559.2,64.2 L558.9,61.2 L558.6,63.9 L558.3,62.8 L558.0,61.4 L557.7,65.3 L557.4,62.6 L557.1,60.6 L556.8,62.0 L556.5,60.9 L556.2,60.8 L555.9,60.7 L555.6,61.2 L555.3,60.8 L555.0,63.1 L554.7,61.9 L554.4,63.2 L554.1,61.2 L553.8,63.9 L553.5,62.3 L553.2,61.5 L552.9,62.6 L552.6,60.7 L552.3,61.6 L552.0,60.8 L551.7,62.2 L551.4,62.0 L551.1,60.3 L550.8,60.6 L550.5,62.7 L550.2,61.9 L549.9,62.3 L549.6,62.3 L549.3,63.6 L549.0,60.5 L548.7,63.1 L548.4,61.3 L548.1,61.3 L547.8,62.5 L547.5,62.4 L547.2,61.7 L546.9,60.6 L546.6,60.6 L546.3,60.9 L546.0,60.8 L545.7,60.5 L545.4,60.8 L545.1,61.7 L544.8,61.4 L544.5,61.4 L544.2,60.7 L543.9,62.1 L543.6,62.5 L543.3,61.2 L543.0,61.7 L542.7,60.4 L542.4,62.8 L542.1,61.5 L541.8,60.6 L541.5,60.6 L541.2,60.4 L540.9,62.1 L540.6,60.9 L540.3,59.6 L540.0,62.3 L539.7,61.1 L539.4,64.8 L539.1,61.3 L538.8,60.7 L538.5,62.3 L538.2,63.2 L537.9,64.2 L537.6,61.5 L537.3,62.1 L537.0,61.4 L536.7,60.5 L536.4,62.5 L536.1,62.0 L535.8,61.2 L535.5,60.0 L535.2,60.7 L534.9,60.8 L534.6,63.7 L534.3,60.6 L534.0,60.3 L533.7,61.5 L533.4,59.9 L533.1,61.3 L532.8,60.5 L532.5,62.4 L532.2,62.1 L531.9,62.6 L531.6,60.6 L531.3,63.0 L531.0,63.4 L530.7,61.8 L530.4,61.7 L530.1,64.4 L529.8,60.2 L529.5,61.0 L529.2,61.1 L528.9,61.4 L528.6,60.3 L528.3,60.3 L528.0,61.7 L527.7,60.6 L527.4,64.0 L527.1,59.5 L526.8,59.9 L526.5,61.6 L526.2,60.5 L525.9,60.2 L525.6,60.4 L525.3,61.7 L525.0,60.2 L524.7,60.1 L524.4,59.1 L524.1,60.6 L523.8,60.0 L523.5,60.4 L523.2,62.8 L522.9,59.1 L522.6,61.0 L522.3,60.5 L522.0,59.7 L521.7,61.1 L521.4,61.3 L521.1,60.6 L520.8,60.7 L520.5,60.7 L520.2,59.6 L519.9,60.4 L519.6,60.7 L519.3,60.1 L519.0,60.1 L518.7,60.7 L518.4,59.7 L518.1,60.1 L517.8,61.2 L517.5,59.2 L517.2,60.5 L516.9,59.8 L516.6,61.4 L516.3,59.5 L516.0,59.6 L515.7,60.9 L515.4,59.8 L515.1,59.0 L514.8,62.0 L514.5,59.6 L514.2,61.2 L513.9,62.8 L513.6,59.3 L513.3,61.1 L513.0,59.4 L512.7,60.2 L512.4,61.3 L512.1,61.2 L511.8,60.4 L511.5,61.0 L511.2,60.8 L510.9,59.9 L510.6,59.5 L510.3,58.9 L510.0,60.7 L509.7,59.5 L509.4,63.0 L509.1,60.3 L508.8,60.9 L508.5,61.4 L508.2,59.7 L507.9,58.8 L507.6,58.9 L507.3,59.5 L507.0,59.0 L506.7,59.8 L506.4,60.9 L506.1,60.5 L505.8,59.3 L505.5,60.0 L505.2,59.6 L504.9,59.8 L504.6,59.7 L504.3,61.0 L504.0,59.1 L503.7,58.4 L503.4,58.9 L503.1,58.4 L502.8,61.3 L502.5,58.5 L502.2,59.9 L501.9,60.4 L501.6,58.5 L501.3,62.0 L501.0,59.2 L500.7,59.6 L500.4,59.5 L500.1,59.0 L499.8,60.6 L499.5,57.8 L499.2,60.2 L498.9,57.6 L498.6,57.8 L498.3,58.9 L498.0,60.1 L497.7,60.0 L497.4,60.7 L497.1,61.3 L496.8,60.3 L496.5,59.1 L496.2,59.9 L495.9,57.4 L495.6,57.7 L495.3,59.4 L495.0,58.6 L494.7,60.4 L494.4,57.4 L494.1,58.6 L493.8,59.4 L493.5,59.6 L493.2,56.8 L492.9,56.8 L492.6,57.7 L492.3,58.5 L492.0,56.9Z" fill="#000" fill-opacity="0.35"/>
<path d="M492.0,45.8 L492.3,46.4 L492.6,46.3 L492.9,45.7 L493.2,45.4 L493.5,45.5 L493.8,46.7 L494.1,46.7 L494.4,45.0 L494.7,46.5 L495.0,46.1 L495.3,44.9 L495.6,46.5 L495.9,46.0 L496.2,46.6 L496.5,46.3 L496.8,45.9 L497.1,45.3 L497.4,46.1 L497.7,46.1 L498.0,46.7 L498.3,47.1 L498.6,46.8 L498.9,46.8 L499.2,47.0 L499.5,47.0 L499.8,46.4 L500.1,44.0 L500.4,46.2 L500.7,47.0 L501.0,47.2 L501.3,46.5 L501.6,46.7 L501.9,46.7 L502.2,45.9 L502.5,46.2 L502.8,46.7 L503.1,47.4 L503.4,47.4 L503.7,47.4 L504.0,46.3 L504.3,47.2 L504.6,46.4 L504.9,47.7 L505.2,47.3 L505.5,46.9 L505.8,46.6 L506.1,46.4 L506.4,47.5 L506.7,47.4 L507.0,47.2 L507.3,47.4 L507.6,47.5 L507.9,47.1 L508.2,47.1 L508.5,47.3 L508.8,47.7 L509.1,47.7 L509.4,47.6 L509.7,47.5 L510.0,46.3 L510.3,45.9 L510.6,47.1 L510.9,47.5 L511.2,47.4 L511.5,47.9 L511.8,47.1 L512.1,48.1 L512.4,47.5 L512.7,47.3 L513.0,48.2 L513.3,47.7 L513.6,47.1 L513.9,48.3 L514.2,48.1 L514.5,46.7 L514.8,47.8 L515.1,48.3 L515.4,48.2 L515.7,48.3 L516.0,46.9 L516.3,48.0 L516.6,46.3 L516.9,47.6 L517.2,48.2 L517.5,47.8 L517.8,48.3 L518.1,48.4 L518.4,48.2 L518.7,48.4 L519.0,47.9 L519.3,47.2 L519.6,48.3 L519.9,47.3 L520.2,47.9 L520.5,47.9 L520.8,48.6 L521.1,47.6 L521.4,47.6 L521.7,48.7 L522.0,48.7 L522.3,48.8 L522.6,47.3 L522.9,47.1 L523.2,48.1 L523.5,47.8 L523.8,47.4 L524.1,48.8 L524.4,48.6 L524.7,47.4 L525.0,48.7 L525.3,49.0 L525.6,48.3 L525.9,48.1 L526.2,47.8 L526.5,48.5 L526.8,48.0 L527.1,48.7 L527.4,49.1 L527.7,47.8 L528.0,49.1 L528.3,48.9 L528.6,48.5 L528.9,47.7 L529.2,49.1 L529.5,48.3 L529.8,48.7 L530.1,47.5 L530.4,48.4 L530.7,48.8 L531.0,49.0 L531.3,49.1 L531.6,49.2 L531.9,48.3 L532.2,49.3 L532.5,48.8 L532.8,48.8 L533.1,49.0 L533.4,49.1 L533.7,49.2 L534.0,49.4 L534.3,48.5 L534.6,47.6 L534.9,49.1 L535.2,49.3 L535.5,49.2 L535.8,48.5 L536.1,49.2 L536.4,49.3 L536.7,48.3 L537.0,48.8 L537.3,49.3 L537.6,49.1 L537.9,48.8 L538.2,48.2 L538.5,49.0 L538.8,48.5 L539.1,49.5 L539.4,49.4 L539.7,49.7 L540.0,48.4 L540.3,49.1 L540.6,49.3 L540.9,48.3 L541.2,49.5 L541.5,49.4 L541.8,49.7 L542.1,48.5 L542.4,49.8 L542.7,49.4 L543.0,49.3 L543.3,49.8 L543.6,48.2 L543.9,48.8 L544.2,48.6 L544.5,49.3 L544.8,49.9 L545.1,49.4 L545.4,49.4 L545.7,49.0 L546.0,48.9 L546.3,49.6 L546.6,49.8 L546.9,50.0 L547.2,49.3 L547.5,49.9 L547.8,48.4 L548.1,50.0 L548.4,48.5 L548.7,50.1 L549.0,49.8 L549.3,49.6 L549.6,49.2 L549.9,49.8 L550.2,49.7 L550.5,50.0 L550.8,49.0 L551.1,49.6 L551.4,49.6 L551.7,50.1 L552.0,50.1 L552.3,49.7 L552.6,49.3 L552.9,50.2 L553.2,50.1 L553.5,50.2 L553.8,49.7 L554.1,50.1 L554.4,50.1 L554.7,49.6 L555.0,50.2 L555.3,50.1 L555.6,49.2 L555.9,50.0 L556.2,50.1 L556.5,49.9 L556.8,48.8 L557.1,50.2 L557.4,48.7 L557.7,50.0 L558.0,49.8 L558.3,50.0 L558.6,50.3 L558.9,49.7 L559.2,50.3 L559.5,50.4 L559.8,49.4 L560.1,50.0 L560.4,49.5 L560.7,50.4 L561.0,49.8 L561.3,49.9 L561.6,50.5 L561.9,49.8 L562.2,49.7 L562.5,49.5 L562.8,50.1 L563.1,50.5 L563.4,50.0 L563.7,49.3 L564.0,50.4 L564.3,50.5 L564.6,50.5 L564.9,50.1 L565.2,50.1 L565.5,49.7 L565.8,50.1 L566.1,50.3 L566.4,49.4 L566.7,49.8 L567.0,50.0 L567.3,49.7 L567.6,49.6 L567.9,50.6 L568.2,50.3 L568.5,50.7 L568.8,50.5 L569.1,49.2 L569.4,48.9 L569.7,49.9 L570.0,48.3 L570.3,50.3 L570.6,49.7 L570.9,49.6 L571.2,50.9 L571.5,50.1 L571.8,50.8 L572.1,50.6 L572.4,50.8 L572.7,49.1 L573.0,50.5 L573.3,49.8 L573.6,50.5 L573.9,49.7 L574.2,50.9 L574.5,50.2 L574.8,50.8 L575.1,50.9 L575.4,50.4 L575.7,51.0 L576.0,50.9 L576.3,50.4 L576.6,50.7 L576.9,50.1 L577.2,50.2 L577.5,51.1 L577.8,50.8 L578.1,50.4 L578.4,49.8 L578.7,50.3 L579.0,49.6 L579.3,50.2 L579.6,50.6 L579.9,50.2 L580.2,49.6 L580.5,50.6 L580.8,50.2 L581.1,50.2 L581.4,50.0 L581.7,50.4 L582.0,50.8 L582.3,50.4 L582.6,49.9 L582.9,50.7 L583.2,50.8 L583.5,49.2 L583.8,50.6 L584.1,51.2 L584.4,51.2 L584.7,49.8 L585.0,50.1 L585.3,50.8 L585.6,51.1 L585.9,51.0 L586.2,50.8 L586.5,50.0 L586.8,51.0 L587.1,51.3 L587.4,50.5 L587.7,50.2 L588.0,50.6 L588.3,51.2 L588.6,50.7 L588.9,50.8 L589.2,48.8 L589.5,50.0 L589.8,51.1 L590.1,50.5 L590.4,50.5 L590.7,50.3 L591.0,51.0 L591.3,51.1 L591.6,51.1 L591.9,51.3 L592.2,49.9 L592.5,49.6 L592.8,50.1 L593.1,51.4 L593.4,51.0 L593.7,51.0 L594.0,51.1 L594.3,49.4 L594.6,51.1 L594.9,51.4 L595.2,51.4 L595.5,51.0 L595.8,50.4 L596.1,50.4 L596.4,51.2 L596.7,50.6 L597.0,51.0 L597.3,51.1 L597.6,50.8 L597.9,51.3 L598.2,50.6 L598.5,50.5 L598.8,51.2 L599.1,51.2 L599.4,51.2 L599.7,49.6 L600.0,51.4 L600.3,50.7 L600.6,50.2 L600.9,49.7 L601.2,51.0 L601.5,51.4 L601.8,49.9 L602.1,51.5 L602.4,50.5 L602.7,51.2 L603.0,51.5 L603.3,51.6 L603.6,50.6 L603.9,50.3 L604.2,50.6 L604.5,51.4 L604.8,51.5 L605.1,50.5 L605.4,51.6 L605.7,51.0 L606.0,51.1 L606.3,51.1 L606.6,50.5 L606.9,51.5 L607.2,51.7 L607.5,51.0 L607.8,51.3 L608.1,51.3 L608.4,51.2 L608.7,50.7 L609.0,50.7 L609.3,51.0 L609.6,51.7 L609.9,51.5 L610.2,50.7 L610.5,51.6 L610.8,51.3 L611.1,50.9 L611.4,51.1 L611.7,51.4 L612.0,51.2 L612.3,51.5 L612.6,51.0 L612.9,51.2 L613.2,51.0 L613.5,50.9 L613.8,50.7 L614.1,50.8 L614.4,51.6 L614.7,51.7 L615.0,50.4 L615.3,50.1 L615.6,51.8 L615.9,51.8 L616.2,51.2 L616.5,51.0 L616.8,51.1 L617.1,51.4 L617.4,50.9 L617.7,50.9 L618.0,51.3 L618.3,49.9 L618.6,51.0 L618.9,51.8 L619.2,50.3 L619.5,51.3 L619.8,51.4 L620.1,51.7 L620.4,51.5 L620.7,50.8 L621.0,51.8 L621.3,51.2 L621.6,51.6 L621.9,50.7 L622.2,50.6 L622.5,51.7 L622.8,51.2 L623.1,51.3 L623.4,51.9 L623.7,51.1 L624.0,50.9 L624.3,51.4 L624.6,50.5 L624.9,51.9 L625.2,51.4 L625.5,51.2 L625.8,51.9 L626.1,51.8 L626.4,50.8 L626.7,52.0 L627.0,51.8 L627.3,51.2 L627.6,50.7 L627.9,51.7 L628.2,51.7 L628.5,51.8 L628.8,51.7 L629.1,51.0 L629.4,52.0 L629.7,51.7 L630.0,51.9 L630.3,51.3 L630.6,51.4 L630.9,51.8 L631.2,51.0 L631.5,51.6 L631.8,51.6 L632.1,51.3 L632.4,52.0 L632.7,51.1 L633.0,51.6 L633.3,50.8 L633.6,51.3 L633.9,51.2 L634.2,51.8 L634.5,52.0 L634.8,50.6 L635.1,51.8 L635.4,49.8 L635.7,50.9 L636.0,50.9 L636.3,51.3 L636.6,51.4 L636.9,52.1 L637.2,51.3 L637.5,51.1 L637.8,52.0 L638.1,51.1 L638.4,52.0 L638.7,51.5 L639.0,51.4 L639.3,50.7 L639.6,51.2 L639.9,52.0 L640.2,51.1 L640.5,50.9 L640.8,51.4 L641.1,51.9 L641.4,51.7 L641.7,50.9 L642.0,51.7 L642.3,51.8 L642.6,51.5 L642.9,51.4 L643.2,51.8 L643.5,51.8 L643.8,52.2 L644.1,51.8 L644.4,52.1 L644.7,52.2 L645.0,52.0 L645.3,52.0 L645.6,51.4 L645.9,51.7 L646.2,52.2 L646.5,52.2 L646.8,50.3 L647.1,51.8 L647.4,50.4 L647.7,51.7 L648.0,51.6 L648.3,50.7 L648.6,51.5 L648.9,52.2 L649.2,50.5 L649.5,51.9 L649.8,51.8 L650.1,51.9 L650.4,52.1 L650.7,51.8 L651.0,51.7 L651.3,50.5 L651.6,51.7 L651.9,51.3 L652.2,51.3 L652.5,51.3 L652.8,51.9 L653.1,52.3 L653.4,51.4 L653.7,52.0 L654.0,51.1 L654.3,52.2 L654.6,51.5 L654.9,50.6 L655.2,50.9 L655.5,52.2 L655.8,52.3 L656.1,51.7 L656.4,52.3 L656.7,52.3 L657.0,50.0 L657.3,51.9 L657.6,51.3 L657.9,51.4 L658.2,51.9 L658.5,51.4 L658.8,51.5 L659.1,52.0 L659.4,52.2 L659.7,51.0 L660.0,50.5 L660.3,52.3 L660.6,51.7 L660.9,51.8 L661.2,51.4 L661.5,51.3 L661.8,51.8 L662.1,52.2 L662.4,51.0 L662.7,52.3 L663.0,52.3 L663.3,51.7 L663.6,51.7 L663.9,51.9 L664.2,51.4 L664.5,52.2 L664.8,51.5 L665.1,51.7 L665.4,51.3 L665.7,51.6 L666.0,51.9 L666.3,51.7 L666.3,63.8 L666.0,62.4 L665.7,62.5 L665.4,62.9 L665.1,63.6 L664.8,63.6 L664.5,63.5 L664.2,62.8 L663.9,64.2 L663.6,62.7 L663.3,65.8 L663.0,62.2 L662.7,63.0 L662.4,63.0 L662.1,62.6 L661.8,64.6 L661.5,62.4 L661.2,63.4 L660.9,63.5 L660.6,63.0 L660.3,62.8 L660.0,64.3 L659.7,63.2 L659.4,63.4 L659.1,63.4 L658.8,63.3 L658.5,64.9 L658.2,63.1 L657.9,64.0 L657.6,62.7 L657.3,62.5 L657.0,63.0 L656.7,62.4 L656.4,64.2 L656.1,62.5 L655.8,62.5 L655.5,62.4 L655.2,63.6 L654.9,63.6 L654.6,64.8 L654.3,64.8 L654.0,63.7 L653.7,62.2 L653.4,64.5 L653.1,62.7 L652.8,62.8 L652.5,66.0 L652.2,62.6 L651.9,62.6 L651.6,63.2 L651.3,62.4 L651.0,63.5 L650.7,62.2 L650.4,63.6 L650.1,63.1 L649.8,63.8 L649.5,63.2 L649.2,62.5 L648.9,62.8 L648.6,63.9 L648.3,64.0 L648.0,62.6 L647.7,65.6 L647.4,63.2 L647.1,62.3 L646.8,62.7 L646.5,63.0 L646.2,64.8 L645.9,64.8 L645.6,62.6 L645.3,63.0 L645.0,65.2 L644.7,63.1 L644.4,62.6 L644.1,63.4 L643.8,62.3 L643.5,63.5 L643.2,64.8 L642.9,62.9 L642.6,62.4 L642.3,62.4 L642.0,62.1 L641.7,63.7 L641.4,65.2 L641.1,63.4 L640.8,63.2 L640.5,63.5 L640.2,63.3 L639.9,63.0 L639.6,63.8 L639.3,62.6 L639.0,62.5 L638.7,62.0 L638.4,62.6 L638.1,63.0 L637.8,62.4 L637.5,62.4 L637.2,63.6 L636.9,63.6 L636.6,62.2 L636.3,63.0 L636.0,63.0 L635.7,62.8 L635.4,62.2 L635.1,62.4 L634.8,62.4 L634.5,62.5 L634.2,62.0 L633.9,63.4 L633.6,62.1 L633.3,62.6 L633.0,64.8 L632.7,62.0 L632.4,65.3 L632.1,63.1 L631.8,63.1 L631.5,62.2 L631.2,62.7 L630.9,63.6 L630.6,62.4 L630.3,63.9 L630.0,64.4 L629.7,62.7 L629.4,62.2 L629.1,62.7 L628.8,62.2 L628.5,63.1 L628.2,62.8 L627.9,63.3 L627.6,63.4 L627.3,62.0 L627.0,62.7 L626.7,61.9 L626.4,61.9 L626.1,63.2 L625.8,61.9 L625.5,63.4 L625.2,63.6 L624.9,62.6 L624.6,62.1 L624.3,62.2 L624.0,62.3 L623.7,63.7 L623.4,63.5 L623.1,63.6 L622.8,62.5 L622.5,62.8 L622.2,61.8 L621.9,63.9 L621.6,62.8 L621.3,64.0 L621.0,63.4 L620.7,63.1 L620.4,64.1 L620.1,62.7 L619.8,63.5 L619.5,62.2 L619.2,64.1 L618.9,63.0 L618.6,61.8 L618.3,62.5 L618.0,61.7 L617.7,62.3 L617.4,62.7 L617.1,63.0 L616.8,62.1 L616.5,62.2 L616.2,62.1 L615.9,63.0 L615.6,61.9 L615.3,61.8 L615.0,63.6 L614.7,63.5 L614.4,62.5 L614.1,62.2 L613.8,61.9 L613.5,62.8 L613.2,63.7 L612.9,61.7 L612.6,61.7 L612.3,62.6 L612.0,62.1 L611.7,64.5 L611.4,62.7 L611.1,62.7 L610.8,62.2 L610.5,62.6 L610.2,62.2 L609.9,62.2 L609.6,62.7 L609.3,62.4 L609.0,63.8 L608.7,61.9 L608.4,62.1 L608.1,61.8 L607.8,62.3 L607.5,62.0 L607.2,62.5 L606.9,64.8 L606.6,61.9 L606.3,64.6 L606.0,63.0 L605.7,61.8 L605.4,63.1 L605.1,61.8 L604.8,61.7 L604.5,62.9 L604.2,62.4 L603.9,63.2 L603.6,61.5 L603.3,66.1 L603.0,62.0 L602.7,61.7 L602.4,62.3 L602.1,62.9 L601.8,61.5 L601.5,61.6 L601.2,64.0 L600.9,61.9 L600.6,63.5 L600.3,62.2 L600.0,64.2 L599.7,62.2 L599.4,62.5 L599.1,61.9 L598.8,62.2 L598.5,63.8 L598.2,61.4 L597.9,62.7 L597.6,62.4 L597.3,62.1 L597.0,62.5 L596.7,63.4 L596.4,61.7 L596.1,61.4 L595.8,61.5 L595.5,65.1 L595.2,62.6 L594.9,62.0 L594.6,62.3 L594.3,61.7 L594.0,62.5 L593.7,62.8 L593.4,61.5 L593.1,61.9 L592.8,61.3 L592.5,61.5 L592.2,62.9 L591.9,61.7 L591.6,62.0 L591.3,62.0 L591.0,63.1 L590.7,61.8 L590.4,61.9 L590.1,63.2 L589.8,62.4 L589.5,64.1 L589.2,61.2 L588.9,61.6 L588.6,62.1 L588.3,61.9 L588.0,62.0 L587.7,61.6 L587.4,63.8 L587.1,62.0 L586.8,61.8 L586.5,65.3 L586.2,61.3 L585.9,61.2 L585.6,62.8 L585.3,64.8 L585.0,63.1 L584.7,61.4 L584.4,62.0 L584.1,65.2 L583.8,61.8 L583.5,62.1 L583.2,62.2 L582.9,61.5 L582.6,61.5 L582.3,62.3 L582.0,61.3 L581.7,61.1 L581.4,61.3 L581.1,64.0 L580.8,61.2 L580.5,61.2 L580.2,61.7 L579.9,61.4 L579.6,63.0 L579.3,61.8 L579.0,62.1 L578.7,61.8 L578.4,61.1 L578.1,61.3 L577.8,62.6 L577.5,61.7 L577.2,63.8 L576.9,61.3 L576.6,62.3 L576.3,61.5 L576.0,61.2 L575.7,61.0 L575.4,64.9 L575.1,62.5 L574.8,61.2 L574.5,62.1 L574.2,63.5 L573.9,62.5 L573.6,61.7 L573.3,61.0 L573.0,61.8 L572.7,61.1 L572.4,63.0 L572.1,61.0 L571.8,61.4 L571.5,62.7 L571.2,61.9 L570.9,60.9 L570.6,62.0 L570.3,64.0 L570.0,63.5 L569.7,61.2 L569.4,62.4 L569.1,62.9 L568.8,63.6 L568.5,61.5 L568.2,62.0 L567.9,61.9 L567.6,61.6 L567.3,61.4 L567.0,61.2 L566.7,61.0 L566.4,62.1 L566.1,60.8 L565.8,61.5 L565.5,61.9 L565.2,60.7 L564.9,63.5 L564.6,60.7 L564.3,61.0 L564.0,62.3 L563.7,61.7 L563.4,60.7 L563.1,60.6 L562.8,60.7 L562.5,61.5 L562.2,61.6 L561.9,61.1 L561.6,61.7 L561.3,61.6 L561.0,62.2 L560.7,61.0 L560.4,60.6 L560.1,60.4 L559.8,61.8 L559.5,61.2 L559.2,62.9 L558.9,60.9 L558.6,63.1 L558.3,60.7 L558.0,61.1 L557.7,63.1 L557.4,62.5 L557.1,60.4 L556.8,60.6 L556.5,60.8 L556.2,60.3 L555.9,60.3 L555.6,60.6 L555.3,60.7 L555.0,62.9 L554.7,60.7 L554.4,62.7 L554.1,60.5 L553.8,61.9 L553.5,60.8 L553.2,60.3 L552.9,60.5 L552.6,60.3 L552.3,61.6 L552.0,60.3 L551.7,60.9 L551.4,61.3 L551.1,60.0 L550.8,60.4 L550.5,61.4 L550.2,60.5 L549.9,61.5 L549.6,60.3 L549.3,61.4 L549.0,60.1 L548.7,61.6 L548.4,61.1 L548.1,61.3 L547.8,61.9 L547.5,60.6 L547.2,60.4 L546.9,60.4 L546.6,60.2 L546.3,60.3 L546.0,60.5 L545.7,60.2 L545.4,60.0 L545.1,61.2 L544.8,59.9 L544.5,61.1 L544.2,60.1 L543.9,60.4 L543.6,62.0 L543.3,60.0 L543.0,60.1 L542.7,60.2 L542.4,61.7 L542.1,60.9 L541.8,60.6 L541.5,60.0 L541.2,60.2 L540.9,60.2 L540.6,60.6 L540.3,59.6 L540.0,61.6 L539.7,60.9 L539.4,62.0 L539.1,60.4 L538.8,60.2 L538.5,61.6 L538.2,61.9 L537.9,62.3 L537.6,61.4 L537.3,61.6 L537.0,60.5 L536.7,59.9 L536.4,60.5 L536.1,61.5 L535.8,61.2 L535.5,59.7 L535.2,59.9 L534.9,59.5 L534.6,61.2 L534.3,59.9 L534.0,59.4 L533.7,60.6 L533.4,59.6 L533.1,60.7 L532.8,59.9 L532.5,61.3 L532.2,60.1 L531.9,62.5 L531.6,60.2 L531.3,62.9 L531.0,62.0 L530.7,60.8 L530.4,60.1 L530.1,62.7 L529.8,60.1 L529.5,59.2 L529.2,60.1 L528.9,60.5 L528.6,59.3 L528.3,60.0 L528.0,59.9 L527.7,59.8 L527.4,62.3 L527.1,59.4 L526.8,59.1 L526.5,61.2 L526.2,60.1 L525.9,59.7 L525.6,59.7 L525.3,60.3 L525.0,59.8 L524.7,59.9 L524.4,59.0 L524.1,59.4 L523.8,59.3 L523.5,59.3 L523.2,60.5 L522.9,59.1 L522.6,60.4 L522.3,59.1 L522.0,58.7 L521.7,60.5 L521.4,60.3 L521.1,60.5 L520.8,59.7 L520.5,59.1 L520.2,59.2 L519.9,59.0 L519.6,60.0 L519.3,58.5 L519.0,59.5 L518.7,59.8 L518.4,59.7 L518.1,59.8 L517.8,59.0 L517.5,59.1 L517.2,59.6 L516.9,59.2 L516.6,60.0 L516.3,58.5 L516.0,58.7 L515.7,60.0 L515.4,58.6 L515.1,58.3 L514.8,61.4 L514.5,58.7 L514.2,59.5 L513.9,61.1 L513.6,58.9 L513.3,59.6 L513.0,59.0 L512.7,59.2 L512.4,61.2 L512.1,58.4 L511.8,58.8 L511.5,59.3 L511.2,59.8 L510.9,58.4 L510.6,58.0 L510.3,58.0 L510.0,59.7 L509.7,59.1 L509.4,60.4 L509.1,59.1 L508.8,60.4 L508.5,60.4 L508.2,59.0 L507.9,58.8 L507.6,58.9 L507.3,59.0 L507.0,58.4 L506.7,59.1 L506.4,60.2 L506.1,58.6 L505.8,59.3 L505.5,59.0 L505.2,58.8 L504.9,59.1 L504.6,58.3 L504.3,59.8 L504.0,57.9 L503.7,57.8 L503.4,57.5 L503.1,57.4 L502.8,61.2 L502.5,58.3 L502.2,59.7 L501.9,58.8 L501.6,58.4 L501.3,60.7 L501.0,57.5 L500.7,58.6 L500.4,58.1 L500.1,57.3 L499.8,59.8 L499.5,57.3 L499.2,60.0 L498.9,57.5 L498.6,57.0 L498.3,57.5 L498.0,59.7 L497.7,58.0 L497.4,59.4 L497.1,60.5 L496.8,58.1 L496.5,58.4 L496.2,58.5 L495.9,57.1 L495.6,57.2 L495.3,57.9 L495.0,57.4 L494.7,59.7 L494.4,57.2 L494.1,58.6 L493.8,58.8 L493.5,58.8 L493.2,56.8 L492.9,56.5 L492.6,57.4 L492.3,56.8 L492.0,56.8Z" fill="#000"/>
<line x1="492" y1="66.6" x2="521" y2="66.6" stroke="#000" stroke-width="2" />
<text x="495.3" y="80.9" font-size="12" fill="#000" text-anchor="start" >10 s</text>
<line x1="490.5" y1="94.5" x2="595.2" y2="66" stroke="#111" stroke-width="0.85" stroke-dasharray="1.5,0.6"/>
<line x1="614.7" y1="66" x2="662.6" y2="100.8" stroke="#111" stroke-width="0.85" stroke-dasharray="3,1"/>
<text x="557" y="93.9" font-size="12" fill="#000" text-anchor="start" ><tspan font-style="italic">P</tspan><tspan font-size="11" dy="2.8" dx="0.3">o</tspan><tspan dy="-2.8" dx="1.4">=0.0026</tspan></text>
<path d="M490.5,134.4 L490.8,134.1 L491.1,135.9 L491.4,133.8 L491.7,134.1 L492.0,135.9 L492.3,134.7 L492.6,136.4 L492.9,134.6 L493.2,133.5 L493.5,135.4 L493.8,133.9 L494.1,134.9 L494.4,133.6 L494.7,133.9 L495.0,133.9 L495.3,134.4 L495.6,133.8 L495.9,135.0 L496.2,134.4 L496.5,134.8 L496.8,133.9 L497.1,136.0 L497.4,134.9 L497.7,133.6 L498.0,135.8 L498.3,133.6 L498.6,134.1 L498.9,134.2 L499.2,134.5 L499.5,134.6 L499.8,133.7 L500.1,135.8 L500.4,134.2 L500.7,134.0 L501.0,133.8 L501.3,133.9 L501.6,138.7 L501.9,134.0 L502.2,133.7 L502.5,133.7 L502.8,136.7 L503.1,133.5 L503.4,134.5 L503.7,134.1 L504.0,134.4 L504.3,135.4 L504.6,135.9 L504.9,134.1 L505.2,135.5 L505.5,135.8 L505.8,135.2 L506.1,134.6 L506.4,133.7 L506.7,134.1 L507.0,134.0 L507.3,134.0 L507.6,135.0 L507.9,134.0 L508.2,133.6 L508.5,135.4 L508.8,134.8 L509.1,135.7 L509.4,135.2 L509.7,133.6 L510.0,134.5 L510.3,134.0 L510.6,135.3 L510.9,135.9 L511.2,133.9 L511.5,134.6 L511.8,133.7 L512.1,135.7 L512.4,134.7 L512.7,134.8 L513.0,136.2 L513.3,134.4 L513.6,134.3 L513.9,135.1 L514.2,133.7 L514.5,134.0 L514.8,133.6 L515.1,134.7 L515.4,133.7 L515.7,134.4 L516.0,134.2 L516.3,135.5 L516.6,133.8 L516.9,135.2 L517.2,134.0 L517.5,136.5 L517.8,134.2 L518.1,134.4 L518.4,135.5 L518.7,133.9 L519.0,134.4 L519.3,137.0 L519.6,134.4 L519.9,134.5 L520.2,135.0 L520.5,135.6 L520.8,136.8 L521.1,135.4 L521.4,134.6 L521.7,137.2 L522.0,134.4 L522.3,135.1 L522.6,135.3 L522.9,134.5 L523.2,134.2 L523.5,134.3 L523.8,134.3 L524.1,134.6 L524.4,135.2 L524.7,134.8 L525.0,135.8 L525.3,134.7 L525.6,133.7 L525.9,133.8 L526.2,135.3 L526.5,135.0 L526.8,136.6 L527.1,135.4 L527.4,135.4 L527.7,135.9 L528.0,133.9 L528.3,135.1 L528.6,134.6 L528.9,133.7 L529.2,134.0 L529.5,136.0 L529.8,135.5 L530.1,134.5 L530.4,133.6 L530.7,134.1 L531.0,135.3 L531.3,135.8 L531.6,136.1 L531.9,134.1 L532.2,135.3 L532.5,134.9 L532.8,136.3 L533.1,135.0 L533.4,134.7 L533.7,134.1 L534.0,133.6 L534.3,134.6 L534.6,136.8 L534.9,136.4 L535.2,133.6 L535.5,135.0 L535.8,134.0 L536.1,134.7 L536.4,136.3 L536.7,134.9 L537.0,135.7 L537.3,134.5 L537.6,135.9 L537.9,133.8 L538.2,134.1 L538.5,134.7 L538.8,135.5 L539.1,133.6 L539.4,136.8 L539.7,134.2 L540.0,134.2 L540.3,134.5 L540.6,133.6 L540.9,134.8 L541.2,136.5 L541.5,133.8 L541.8,136.4 L542.1,134.4 L542.4,134.0 L542.7,134.0 L543.0,137.4 L543.3,137.0 L543.6,137.3 L543.9,137.4 L544.2,134.9 L544.5,134.2 L544.8,134.9 L545.1,134.0 L545.4,135.7 L545.7,134.5 L546.0,134.0 L546.3,134.8 L546.6,133.9 L546.9,133.7 L547.2,136.2 L547.5,134.3 L547.8,135.8 L548.1,134.7 L548.4,134.9 L548.7,134.1 L549.0,134.0 L549.3,134.7 L549.6,133.9 L549.9,134.9 L550.2,133.9 L550.5,134.4 L550.8,134.7 L551.1,135.6 L551.4,135.5 L551.7,134.5 L552.0,135.2 L552.3,135.8 L552.6,133.7 L552.9,136.1 L553.2,135.6 L553.5,136.4 L553.8,134.6 L554.1,133.9 L554.4,134.1 L554.7,133.8 L555.0,134.4 L555.3,133.7 L555.6,135.9 L555.9,133.9 L556.2,134.3 L556.5,134.4 L556.8,135.3 L557.1,133.6 L557.4,133.8 L557.7,135.3 L558.0,133.7 L558.3,134.3 L558.6,135.2 L558.9,134.6 L559.2,135.1 L559.5,133.9 L559.8,134.1 L560.1,135.6 L560.4,133.9 L560.7,135.1 L561.0,134.2 L561.3,137.2 L561.6,137.3 L561.9,134.7 L562.2,134.9 L562.5,133.7 L562.8,134.7 L563.1,134.9 L563.4,134.2 L563.7,133.7 L564.0,133.7 L564.3,134.7 L564.6,134.3 L564.9,134.9 L565.2,134.3 L565.5,133.8 L565.8,135.5 L566.1,134.8 L566.4,133.6 L566.7,134.4 L567.0,134.6 L567.3,134.4 L567.6,133.8 L567.9,134.3 L568.2,134.5 L568.5,134.6 L568.8,135.7 L569.1,134.0 L569.4,134.6 L569.7,134.6 L570.0,135.0 L570.3,135.1 L570.6,134.6 L570.9,134.6 L571.2,135.1 L571.5,133.8 L571.8,135.3 L572.1,134.5 L572.4,136.0 L572.7,137.1 L573.0,137.5 L573.3,135.0 L573.6,136.3 L573.9,135.9 L574.2,134.3 L574.5,133.9 L574.8,134.6 L575.1,136.0 L575.4,136.3 L575.7,134.2 L576.0,134.5 L576.3,136.3 L576.6,134.3 L576.9,136.2 L577.2,133.8 L577.5,134.5 L577.8,134.3 L578.1,134.4 L578.4,134.7 L578.7,134.7 L579.0,135.4 L579.3,134.9 L579.6,135.7 L579.9,135.7 L580.2,136.7 L580.5,134.4 L580.8,135.0 L581.1,135.1 L581.4,134.6 L581.7,134.8 L582.0,137.0 L582.3,135.8 L582.6,134.2 L582.9,134.3 L583.2,136.6 L583.5,134.2 L583.8,133.8 L584.1,136.4 L584.4,136.2 L584.7,136.9 L585.0,134.9 L585.3,133.8 L585.6,134.6 L585.9,133.9 L586.2,134.0 L586.5,135.3 L586.8,134.3 L587.1,133.9 L587.4,136.6 L587.7,136.4 L588.0,134.4 L588.3,136.9 L588.6,133.7 L588.9,134.4 L589.2,134.9 L589.5,133.7 L589.8,134.9 L590.1,134.2 L590.4,134.8 L590.7,134.6 L591.0,134.1 L591.3,136.3 L591.6,133.7 L591.9,134.4 L592.2,135.2 L592.5,134.8 L592.8,134.2 L593.1,133.9 L593.4,134.4 L593.7,134.4 L594.0,135.4 L594.3,134.2 L594.6,134.1 L594.9,136.1 L595.2,133.7 L595.5,134.1 L595.8,134.8 L596.1,135.5 L596.4,136.5 L596.7,136.1 L597.0,134.1 L597.3,134.7 L597.6,134.4 L597.9,134.4 L598.2,135.4 L598.5,134.1 L598.8,135.5 L599.1,134.3 L599.4,133.8 L599.7,135.8 L600.0,133.9 L600.3,134.9 L600.6,136.8 L600.9,134.2 L601.2,135.5 L601.5,134.8 L601.8,135.0 L602.1,134.2 L602.4,135.1 L602.7,135.4 L603.0,136.1 L603.3,137.3 L603.6,134.7 L603.9,135.7 L604.2,134.6 L604.5,134.5 L604.8,134.9 L605.1,135.2 L605.4,134.0 L605.7,133.8 L606.0,135.3 L606.3,134.1 L606.6,135.7 L606.9,134.1 L607.2,134.5 L607.5,133.9 L607.8,136.4 L608.1,136.5 L608.4,135.0 L608.7,134.1 L609.0,134.6 L609.3,134.6 L609.6,136.5 L609.9,134.3 L610.2,134.6 L610.5,135.7 L610.8,135.0 L611.1,134.8 L611.4,135.8 L611.7,133.8 L612.0,136.0 L612.3,135.5 L612.6,134.4 L612.9,134.6 L613.2,134.6 L613.5,135.1 L613.8,134.0 L614.1,134.5 L614.4,135.6 L614.7,133.8 L615.0,136.0 L615.3,134.8 L615.6,134.0 L615.9,135.9 L616.2,134.5 L616.5,134.2 L616.8,134.1 L617.1,134.7 L617.4,135.0 L617.7,134.8 L618.0,133.9 L618.3,134.1 L618.6,135.8 L618.9,134.4 L619.2,134.1 L619.5,134.5 L619.8,133.9 L620.1,133.8 L620.4,133.8 L620.7,133.9 L621.0,135.1 L621.3,134.7 L621.6,134.9 L621.9,136.1 L622.2,133.8 L622.5,134.5 L622.8,134.5 L623.1,137.0 L623.4,136.0 L623.7,136.4 L624.0,136.3 L624.3,135.8 L624.6,135.8 L624.9,135.2 L625.2,135.0 L625.5,136.2 L625.8,135.6 L626.1,135.8 L626.4,133.9 L626.7,136.0 L627.0,134.3 L627.3,136.5 L627.6,135.9 L627.9,135.8 L628.2,134.4 L628.5,135.1 L628.8,134.8 L629.1,136.0 L629.4,134.5 L629.7,134.7 L630.0,133.8 L630.3,134.3 L630.6,135.0 L630.9,135.1 L631.2,135.6 L631.5,134.5 L631.8,134.7 L632.1,135.7 L632.4,133.8 L632.7,135.8 L633.0,134.2 L633.3,134.8 L633.6,134.9 L633.9,134.9 L634.2,134.1 L634.5,135.0 L634.8,135.4 L635.1,134.5 L635.4,134.7 L635.7,134.0 L636.0,136.0 L636.3,134.2 L636.6,135.0 L636.9,134.2 L637.2,137.7 L637.5,135.5 L637.8,135.1 L638.1,135.3 L638.4,136.1 L638.7,135.9 L639.0,134.2 L639.3,135.1 L639.6,134.9 L639.9,135.0 L640.2,135.9 L640.5,133.8 L640.8,133.9 L641.1,133.9 L641.4,135.1 L641.7,135.8 L642.0,133.9 L642.3,135.1 L642.6,133.9 L642.9,133.8 L643.2,134.8 L643.5,134.3 L643.8,134.2 L644.1,133.8 L644.4,136.8 L644.7,135.1 L645.0,135.3 L645.3,133.9 L645.6,133.8 L645.9,135.4 L646.2,136.4 L646.5,136.4 L646.8,135.8 L647.1,135.1 L647.4,135.0 L647.7,133.9 L648.0,134.7 L648.3,134.6 L648.6,136.0 L648.9,135.3 L649.2,136.8 L649.5,136.4 L649.8,135.6 L650.1,134.0 L650.4,135.5 L650.7,135.0 L651.0,134.5 L651.3,134.6 L651.6,134.9 L651.9,134.2 L652.2,134.2 L652.5,136.8 L652.8,136.1 L653.1,134.6 L653.4,135.9 L653.7,135.0 L654.0,134.7 L654.3,134.8 L654.6,135.1 L654.9,134.9 L655.2,135.5 L655.5,135.6 L655.8,136.7 L656.1,133.9 L656.4,134.1 L656.7,137.9 L657.0,135.1 L657.3,134.1 L657.6,134.8 L657.9,134.5 L658.2,135.7 L658.5,134.3 L658.8,134.8 L659.1,135.5 L659.4,134.1 L659.7,133.9 L660.0,134.4 L660.3,135.4 L660.6,133.9 L660.9,135.2 L661.2,134.0 L661.5,134.6 L661.8,134.6 L662.1,134.3 L662.4,134.9 L662.7,133.9 L663.0,137.0 L663.3,134.3 L663.6,134.5 L663.9,135.1 L663.9,136.6 L663.6,136.1 L663.3,135.8 L663.0,139.0 L662.7,136.1 L662.4,136.3 L662.1,135.8 L661.8,137.0 L661.5,137.1 L661.2,136.6 L660.9,136.4 L660.6,136.2 L660.3,137.2 L660.0,135.7 L659.7,137.0 L659.4,136.0 L659.1,136.9 L658.8,136.6 L658.5,135.5 L658.2,137.1 L657.9,135.7 L657.6,136.6 L657.3,136.4 L657.0,136.1 L656.7,139.8 L656.4,136.1 L656.1,136.9 L655.8,138.0 L655.5,137.7 L655.2,137.3 L654.9,136.7 L654.6,136.7 L654.3,136.2 L654.0,136.1 L653.7,137.0 L653.4,137.8 L653.1,136.8 L652.8,137.8 L652.5,138.1 L652.2,136.9 L651.9,135.3 L651.6,137.3 L651.3,136.7 L651.0,136.3 L650.7,136.0 L650.4,136.7 L650.1,135.8 L649.8,138.7 L649.5,137.7 L649.2,138.0 L648.9,136.5 L648.6,138.7 L648.3,135.9 L648.0,136.2 L647.7,135.4 L647.4,137.7 L647.1,137.4 L646.8,137.7 L646.5,139.2 L646.2,139.1 L645.9,136.6 L645.6,135.2 L645.3,137.0 L645.0,137.5 L644.7,136.8 L644.4,138.5 L644.1,136.3 L643.8,136.0 L643.5,135.8 L643.2,137.2 L642.9,135.1 L642.6,135.6 L642.3,137.7 L642.0,135.0 L641.7,137.7 L641.4,136.2 L641.1,137.9 L640.8,136.7 L640.5,136.2 L640.2,138.3 L639.9,136.6 L639.6,137.0 L639.3,136.8 L639.0,136.3 L638.7,137.4 L638.4,138.2 L638.1,137.7 L637.8,136.3 L637.5,137.6 L637.2,139.8 L636.9,137.0 L636.6,136.8 L636.3,136.7 L636.0,137.6 L635.7,136.0 L635.4,135.8 L635.1,136.5 L634.8,137.1 L634.5,139.3 L634.2,136.3 L633.9,137.2 L633.6,136.0 L633.3,136.0 L633.0,135.5 L632.7,137.1 L632.4,135.4 L632.1,138.0 L631.8,135.9 L631.5,136.7 L631.2,136.7 L630.9,137.3 L630.6,138.5 L630.3,135.4 L630.0,135.0 L629.7,137.1 L629.4,137.5 L629.1,138.2 L628.8,136.6 L628.5,136.5 L628.2,136.2 L627.9,137.3 L627.6,137.1 L627.3,138.5 L627.0,135.5 L626.7,137.8 L626.4,137.2 L626.1,137.9 L625.8,137.4 L625.5,137.9 L625.2,136.0 L624.9,137.1 L624.6,137.3 L624.3,137.8 L624.0,137.6 L623.7,137.9 L623.4,138.5 L623.1,139.7 L622.8,136.5 L622.5,136.2 L622.2,135.8 L621.9,137.9 L621.6,137.1 L621.3,136.1 L621.0,136.8 L620.7,135.1 L620.4,135.7 L620.1,135.5 L619.8,135.9 L619.5,136.8 L619.2,135.5 L618.9,135.6 L618.6,137.3 L618.3,135.6 L618.0,135.3 L617.7,137.5 L617.4,136.2 L617.1,137.3 L616.8,136.0 L616.5,136.6 L616.2,136.2 L615.9,138.1 L615.6,135.4 L615.3,136.5 L615.0,137.5 L614.7,135.3 L614.4,136.7 L614.1,136.2 L613.8,136.5 L613.5,137.7 L613.2,137.5 L612.9,137.1 L612.6,136.1 L612.3,136.8 L612.0,137.2 L611.7,135.0 L611.4,137.6 L611.1,136.8 L610.8,136.2 L610.5,137.0 L610.2,135.8 L609.9,136.1 L609.6,138.0 L609.3,136.4 L609.0,135.7 L608.7,135.8 L608.4,136.1 L608.1,137.9 L607.8,138.5 L607.5,136.1 L607.2,135.7 L606.9,136.1 L606.6,137.7 L606.3,137.1 L606.0,137.1 L605.7,135.5 L605.4,136.6 L605.1,137.0 L604.8,136.8 L604.5,135.7 L604.2,137.6 L603.9,138.0 L603.6,136.4 L603.3,139.0 L603.0,137.3 L602.7,137.3 L602.4,136.2 L602.1,135.3 L601.8,136.4 L601.5,138.1 L601.2,137.3 L600.9,135.7 L600.6,138.3 L600.3,136.8 L600.0,135.0 L599.7,137.2 L599.4,135.5 L599.1,137.0 L598.8,136.9 L598.5,136.0 L598.2,139.0 L597.9,135.7 L597.6,135.9 L597.3,136.9 L597.0,136.9 L596.7,137.8 L596.4,137.8 L596.1,137.4 L595.8,137.8 L595.5,135.3 L595.2,136.4 L594.9,137.3 L594.6,135.6 L594.3,135.5 L594.0,138.0 L593.7,136.5 L593.4,136.6 L593.1,135.9 L592.8,135.8 L592.5,136.7 L592.2,137.3 L591.9,136.2 L591.6,135.9 L591.3,137.6 L591.0,135.9 L590.7,136.9 L590.4,137.4 L590.1,136.8 L589.8,136.8 L589.5,136.8 L589.2,135.9 L588.9,136.4 L588.6,135.4 L588.3,139.4 L588.0,135.6 L587.7,137.8 L587.4,138.6 L587.1,135.1 L586.8,135.7 L586.5,137.7 L586.2,136.0 L585.9,135.7 L585.6,137.1 L585.3,135.9 L585.0,136.7 L584.7,138.3 L584.4,137.8 L584.1,139.2 L583.8,136.5 L583.5,136.3 L583.2,139.1 L582.9,136.5 L582.6,136.1 L582.3,137.3 L582.0,139.2 L581.7,135.9 L581.4,136.6 L581.1,137.4 L580.8,137.5 L580.5,135.9 L580.2,138.3 L579.9,138.3 L579.6,137.4 L579.3,136.0 L579.0,136.8 L578.7,135.8 L578.4,137.7 L578.1,137.1 L577.8,137.4 L577.5,136.5 L577.2,136.5 L576.9,138.3 L576.6,136.2 L576.3,138.3 L576.0,135.7 L575.7,135.4 L575.4,138.6 L575.1,137.1 L574.8,135.6 L574.5,134.9 L574.2,136.3 L573.9,137.2 L573.6,138.1 L573.3,136.9 L573.0,139.5 L572.7,139.7 L572.4,137.8 L572.1,135.7 L571.8,136.7 L571.5,135.9 L571.2,136.6 L570.9,136.3 L570.6,135.8 L570.3,136.5 L570.0,137.5 L569.7,136.2 L569.4,135.8 L569.1,135.7 L568.8,137.5 L568.5,137.6 L568.2,135.6 L567.9,136.0 L567.6,135.9 L567.3,136.6 L567.0,136.5 L566.7,136.4 L566.4,135.9 L566.1,136.0 L565.8,137.4 L565.5,135.6 L565.2,136.6 L564.9,136.2 L564.6,136.1 L564.3,135.8 L564.0,134.9 L563.7,135.0 L563.4,136.7 L563.1,136.7 L562.8,136.1 L562.5,135.0 L562.2,136.9 L561.9,136.9 L561.6,138.7 L561.3,138.5 L561.0,136.1 L560.7,137.8 L560.4,135.7 L560.1,137.6 L559.8,136.9 L559.5,135.2 L559.2,136.4 L558.9,136.1 L558.6,137.1 L558.3,135.5 L558.0,136.2 L557.7,137.2 L557.4,135.2 L557.1,135.1 L556.8,137.3 L556.5,136.0 L556.2,136.1 L555.9,138.3 L555.6,137.1 L555.3,135.5 L555.0,137.1 L554.7,135.3 L554.4,135.3 L554.1,135.5 L553.8,136.3 L553.5,137.8 L553.2,136.7 L552.9,139.5 L552.6,134.9 L552.3,137.0 L552.0,136.4 L551.7,135.5 L551.4,137.7 L551.1,137.9 L550.8,136.0 L550.5,136.9 L550.2,136.0 L549.9,136.4 L549.6,135.2 L549.3,136.4 L549.0,135.0 L548.7,136.0 L548.4,136.7 L548.1,137.2 L547.8,137.4 L547.5,136.4 L547.2,137.4 L546.9,136.2 L546.6,135.3 L546.3,138.7 L546.0,135.5 L545.7,135.9 L545.4,137.6 L545.1,135.6 L544.8,136.7 L544.5,136.5 L544.2,137.0 L543.9,138.8 L543.6,138.8 L543.3,139.0 L543.0,139.2 L542.7,136.2 L542.4,137.7 L542.1,135.4 L541.8,139.8 L541.5,136.4 L541.2,137.6 L540.9,136.1 L540.6,135.1 L540.3,136.6 L540.0,135.8 L539.7,136.6 L539.4,138.8 L539.1,135.9 L538.8,137.7 L538.5,136.3 L538.2,135.6 L537.9,136.7 L537.6,137.5 L537.3,136.9 L537.0,137.0 L536.7,136.7 L536.4,137.5 L536.1,137.4 L535.8,135.5 L535.5,137.3 L535.2,134.9 L534.9,138.1 L534.6,138.1 L534.3,137.9 L534.0,135.6 L533.7,136.0 L533.4,136.3 L533.1,136.7 L532.8,137.6 L532.5,136.5 L532.2,137.3 L531.9,136.7 L531.6,137.1 L531.3,138.0 L531.0,136.3 L530.7,136.2 L530.4,135.0 L530.1,136.0 L529.8,137.4 L529.5,138.4 L529.2,135.6 L528.9,135.6 L528.6,137.7 L528.3,136.3 L528.0,135.5 L527.7,138.0 L527.4,137.7 L527.1,136.7 L526.8,138.9 L526.5,136.6 L526.2,136.8 L525.9,135.4 L525.6,135.0 L525.3,137.1 L525.0,137.5 L524.7,136.3 L524.4,136.6 L524.1,137.6 L523.8,136.0 L523.5,136.3 L523.2,135.9 L522.9,135.8 L522.6,136.9 L522.3,136.2 L522.0,136.8 L521.7,138.4 L521.4,137.5 L521.1,136.9 L520.8,138.7 L520.5,137.8 L520.2,136.6 L519.9,136.1 L519.6,136.3 L519.3,139.0 L519.0,135.8 L518.7,135.2 L518.4,136.8 L518.1,135.7 L517.8,136.2 L517.5,137.7 L517.2,136.2 L516.9,136.8 L516.6,135.5 L516.3,136.7 L516.0,135.7 L515.7,137.0 L515.4,135.4 L515.1,137.3 L514.8,135.1 L514.5,135.6 L514.2,134.8 L513.9,136.4 L513.6,135.5 L513.3,135.5 L513.0,138.7 L512.7,136.5 L512.4,136.8 L512.1,138.1 L511.8,135.0 L511.5,136.6 L511.2,135.2 L510.9,139.0 L510.6,137.3 L510.3,135.3 L510.0,135.9 L509.7,134.9 L509.4,136.4 L509.1,137.7 L508.8,137.6 L508.5,137.3 L508.2,135.0 L507.9,135.9 L507.6,136.8 L507.3,135.6 L507.0,135.1 L506.7,135.8 L506.4,134.9 L506.1,136.3 L505.8,136.8 L505.5,138.5 L505.2,136.9 L504.9,136.4 L504.6,139.1 L504.3,137.7 L504.0,136.2 L503.7,135.3 L503.4,137.5 L503.1,134.6 L502.8,138.4 L502.5,135.0 L502.2,135.2 L501.9,135.3 L501.6,140.4 L501.3,136.0 L501.0,136.7 L500.7,135.4 L500.4,135.3 L500.1,137.8 L499.8,135.4 L499.5,137.6 L499.2,136.2 L498.9,136.8 L498.6,135.6 L498.3,136.4 L498.0,137.4 L497.7,135.0 L497.4,135.9 L497.1,137.5 L496.8,136.1 L496.5,136.5 L496.2,135.6 L495.9,136.3 L495.6,135.4 L495.3,135.8 L495.0,135.9 L494.7,136.4 L494.4,135.1 L494.1,136.2 L493.8,135.9 L493.5,136.4 L493.2,136.7 L492.9,138.9 L492.6,139.1 L492.3,138.1 L492.0,137.6 L491.7,135.2 L491.4,135.3 L491.1,137.3 L490.8,135.4 L490.5,135.7Z" fill="#000" fill-opacity="0.35"/>
<path d="M490.5,125.8 L490.8,125.7 L491.1,126.0 L491.4,125.8 L491.7,126.0 L492.0,125.7 L492.3,126.2 L492.6,126.3 L492.9,125.5 L493.2,125.9 L493.5,124.7 L493.8,125.8 L494.1,124.8 L494.4,125.6 L494.7,126.0 L495.0,126.4 L495.3,126.0 L495.6,125.7 L495.9,126.2 L496.2,126.0 L496.5,126.5 L496.8,126.2 L497.1,126.3 L497.4,126.4 L497.7,126.3 L498.0,124.7 L498.3,126.3 L498.6,125.0 L498.9,125.3 L499.2,126.4 L499.5,125.9 L499.8,126.5 L500.1,125.8 L500.4,126.4 L500.7,126.0 L501.0,126.0 L501.3,126.4 L501.6,126.5 L501.9,125.0 L502.2,125.5 L502.5,126.3 L502.8,126.5 L503.1,126.3 L503.4,126.5 L503.7,126.2 L504.0,125.5 L504.3,124.9 L504.6,126.1 L504.9,126.0 L505.2,124.9 L505.5,125.6 L505.8,126.1 L506.1,126.2 L506.4,126.2 L506.7,125.2 L507.0,126.1 L507.3,126.4 L507.6,125.8 L507.9,126.0 L508.2,126.4 L508.5,125.3 L508.8,125.7 L509.1,126.1 L509.4,125.3 L509.7,126.3 L510.0,125.7 L510.3,126.2 L510.6,126.4 L510.9,125.7 L511.2,125.7 L511.5,126.3 L511.8,126.1 L512.1,125.2 L512.4,124.9 L512.7,124.8 L513.0,126.0 L513.3,126.4 L513.6,126.3 L513.9,125.9 L514.2,126.5 L514.5,125.5 L514.8,126.2 L515.1,126.1 L515.4,125.3 L515.7,125.9 L516.0,124.6 L516.3,125.5 L516.6,126.1 L516.9,125.7 L517.2,126.1 L517.5,125.7 L517.8,125.8 L518.1,125.8 L518.4,126.0 L518.7,126.5 L519.0,124.9 L519.3,125.8 L519.6,125.6 L519.9,125.1 L520.2,125.6 L520.5,126.5 L520.8,125.9 L521.1,125.0 L521.4,126.3 L521.7,124.4 L522.0,125.8 L522.3,126.4 L522.6,126.1 L522.9,125.9 L523.2,126.2 L523.5,123.9 L523.8,125.9 L524.1,126.5 L524.4,125.3 L524.7,126.5 L525.0,125.7 L525.3,124.4 L525.6,126.0 L525.9,125.8 L526.2,124.0 L526.5,125.5 L526.8,125.3 L527.1,126.3 L527.4,126.4 L527.7,125.6 L528.0,126.1 L528.3,126.5 L528.6,126.0 L528.9,126.4 L529.2,124.3 L529.5,125.6 L529.8,126.4 L530.1,126.5 L530.4,125.2 L530.7,125.8 L531.0,126.0 L531.3,125.1 L531.6,125.4 L531.9,125.3 L532.2,125.7 L532.5,125.6 L532.8,125.6 L533.1,125.6 L533.4,125.7 L533.7,126.4 L534.0,125.4 L534.3,126.6 L534.6,126.2 L534.9,124.7 L535.2,126.5 L535.5,125.7 L535.8,126.6 L536.1,126.1 L536.4,126.6 L536.7,125.6 L537.0,124.5 L537.3,126.1 L537.6,126.2 L537.9,126.5 L538.2,125.9 L538.5,125.5 L538.8,126.0 L539.1,126.4 L539.4,126.1 L539.7,126.6 L540.0,126.4 L540.3,125.4 L540.6,126.1 L540.9,124.0 L541.2,126.5 L541.5,125.8 L541.8,125.5 L542.1,126.3 L542.4,125.1 L542.7,126.5 L543.0,125.4 L543.3,124.8 L543.6,126.1 L543.9,125.6 L544.2,125.4 L544.5,126.4 L544.8,125.9 L545.1,125.8 L545.4,125.8 L545.7,126.2 L546.0,126.1 L546.3,126.1 L546.6,126.0 L546.9,126.0 L547.2,126.0 L547.5,125.6 L547.8,126.1 L548.1,126.0 L548.4,126.0 L548.7,125.1 L549.0,126.2 L549.3,124.8 L549.6,125.5 L549.9,125.7 L550.2,126.6 L550.5,126.5 L550.8,126.3 L551.1,126.1 L551.4,125.8 L551.7,124.6 L552.0,126.0 L552.3,125.4 L552.6,126.2 L552.9,124.4 L553.2,126.3 L553.5,125.8 L553.8,125.1 L554.1,125.9 L554.4,124.8 L554.7,125.9 L555.0,124.8 L555.3,126.6 L555.6,125.6 L555.9,126.3 L556.2,126.0 L556.5,125.0 L556.8,124.8 L557.1,126.5 L557.4,125.7 L557.7,125.8 L558.0,125.5 L558.3,125.7 L558.6,125.4 L558.9,126.2 L559.2,125.7 L559.5,126.1 L559.8,125.7 L560.1,125.7 L560.4,126.0 L560.7,126.1 L561.0,125.5 L561.3,125.8 L561.6,126.3 L561.9,126.2 L562.2,126.4 L562.5,125.9 L562.8,126.2 L563.1,126.4 L563.4,126.4 L563.7,126.5 L564.0,125.3 L564.3,126.5 L564.6,126.1 L564.9,126.5 L565.2,126.5 L565.5,123.8 L565.8,126.5 L566.1,126.2 L566.4,125.8 L566.7,125.7 L567.0,125.3 L567.3,125.9 L567.6,125.9 L567.9,125.2 L568.2,126.0 L568.5,125.9 L568.8,125.0 L569.1,125.0 L569.4,125.3 L569.7,125.5 L570.0,126.5 L570.3,125.7 L570.6,126.6 L570.9,126.0 L571.2,125.1 L571.5,126.5 L571.8,126.6 L572.1,126.5 L572.4,126.5 L572.7,125.3 L573.0,126.0 L573.3,126.6 L573.6,126.6 L573.9,126.6 L574.2,126.2 L574.5,126.6 L574.8,126.1 L575.1,126.0 L575.4,125.9 L575.7,126.6 L576.0,125.3 L576.3,126.4 L576.6,126.2 L576.9,126.1 L577.2,125.6 L577.5,125.6 L577.8,125.9 L578.1,126.1 L578.4,126.1 L578.7,126.0 L579.0,126.6 L579.3,125.1 L579.6,125.4 L579.9,126.0 L580.2,125.8 L580.5,126.3 L580.8,125.9 L581.1,125.9 L581.4,126.2 L581.7,125.7 L582.0,126.2 L582.3,125.8 L582.6,125.3 L582.9,125.4 L583.2,126.0 L583.5,126.0 L583.8,126.3 L584.1,126.4 L584.4,126.0 L584.7,126.4 L585.0,125.7 L585.3,124.8 L585.6,126.5 L585.9,126.1 L586.2,126.6 L586.5,126.5 L586.8,126.3 L587.1,125.0 L587.4,125.7 L587.7,126.6 L588.0,126.6 L588.3,126.7 L588.6,125.6 L588.9,125.9 L589.2,125.7 L589.5,126.1 L589.8,126.3 L590.1,126.2 L590.4,126.3 L590.7,125.4 L591.0,126.5 L591.3,126.1 L591.6,126.0 L591.9,126.6 L592.2,126.6 L592.5,126.2 L592.8,126.3 L593.1,125.1 L593.4,125.8 L593.7,126.6 L594.0,125.9 L594.3,126.6 L594.6,126.6 L594.9,126.4 L595.2,125.8 L595.5,124.7 L595.8,126.1 L596.1,126.4 L596.4,125.9 L596.7,126.6 L597.0,126.2 L597.3,126.3 L597.6,125.5 L597.9,126.6 L598.2,125.2 L598.5,126.3 L598.8,126.5 L599.1,126.3 L599.4,126.0 L599.7,126.5 L600.0,125.4 L600.3,126.4 L600.6,126.0 L600.9,125.2 L601.2,126.1 L601.5,126.2 L601.8,125.8 L602.1,125.8 L602.4,126.1 L602.7,125.2 L603.0,126.3 L603.3,126.6 L603.6,125.8 L603.9,126.6 L604.2,126.0 L604.5,125.8 L604.8,126.3 L605.1,126.0 L605.4,125.8 L605.7,126.2 L606.0,125.2 L606.3,126.0 L606.6,126.2 L606.9,126.1 L607.2,125.5 L607.5,126.2 L607.8,126.6 L608.1,125.7 L608.4,125.2 L608.7,125.7 L609.0,125.4 L609.3,126.5 L609.6,126.6 L609.9,126.4 L610.2,125.6 L610.5,126.1 L610.8,126.1 L611.1,125.9 L611.4,124.8 L611.7,126.6 L612.0,125.9 L612.3,125.8 L612.6,125.7 L612.9,125.2 L613.2,125.8 L613.5,126.1 L613.8,125.4 L614.1,126.1 L614.4,125.8 L614.7,126.1 L615.0,125.5 L615.3,126.7 L615.6,126.2 L615.9,126.5 L616.2,125.8 L616.5,126.1 L616.8,126.2 L617.1,126.4 L617.4,126.7 L617.7,125.2 L618.0,126.3 L618.3,126.0 L618.6,125.1 L618.9,125.5 L619.2,124.8 L619.5,126.4 L619.8,125.3 L620.1,125.8 L620.4,125.1 L620.7,126.6 L621.0,126.0 L621.3,126.1 L621.6,125.8 L621.9,126.2 L622.2,126.4 L622.5,126.4 L622.8,126.6 L623.1,125.4 L623.4,126.4 L623.7,126.5 L624.0,125.7 L624.3,125.6 L624.6,125.4 L624.9,126.7 L625.2,126.5 L625.5,126.7 L625.8,125.2 L626.1,126.5 L626.4,126.1 L626.7,126.6 L627.0,126.0 L627.3,126.6 L627.6,126.4 L627.9,125.6 L628.2,126.5 L628.5,126.6 L628.8,126.6 L629.1,125.8 L629.4,126.7 L629.7,126.7 L630.0,126.3 L630.3,126.7 L630.6,126.5 L630.9,126.4 L631.2,126.3 L631.5,125.6 L631.8,126.6 L632.1,126.3 L632.4,126.1 L632.7,126.6 L633.0,126.6 L633.3,126.6 L633.6,125.4 L633.9,125.4 L634.2,125.5 L634.5,126.0 L634.8,125.8 L635.1,125.4 L635.4,126.1 L635.7,126.0 L636.0,125.5 L636.3,126.0 L636.6,125.8 L636.9,125.3 L637.2,125.8 L637.5,126.6 L637.8,124.7 L638.1,126.3 L638.4,125.0 L638.7,126.4 L639.0,126.0 L639.3,126.4 L639.6,125.9 L639.9,126.1 L640.2,126.3 L640.5,125.7 L640.8,125.2 L641.1,126.3 L641.4,125.6 L641.7,126.3 L642.0,126.0 L642.3,124.6 L642.6,126.2 L642.9,126.3 L643.2,126.3 L643.5,126.7 L643.8,126.2 L644.1,125.4 L644.4,126.5 L644.7,126.7 L645.0,125.8 L645.3,125.8 L645.6,125.9 L645.9,126.3 L646.2,125.7 L646.5,126.6 L646.8,125.8 L647.1,126.6 L647.4,125.8 L647.7,125.8 L648.0,125.4 L648.3,126.2 L648.6,126.5 L648.9,126.6 L649.2,126.5 L649.5,126.1 L649.8,126.4 L650.1,126.8 L650.4,126.6 L650.7,126.0 L651.0,126.6 L651.3,125.8 L651.6,126.0 L651.9,126.2 L652.2,126.6 L652.5,126.4 L652.8,125.6 L653.1,126.6 L653.4,126.4 L653.7,126.8 L654.0,125.9 L654.3,125.4 L654.6,125.3 L654.9,126.5 L655.2,125.4 L655.5,125.4 L655.8,126.6 L656.1,126.0 L656.4,125.6 L656.7,126.6 L657.0,126.6 L657.3,126.6 L657.6,126.4 L657.9,126.2 L658.2,126.7 L658.5,126.5 L658.8,126.1 L659.1,126.3 L659.4,125.7 L659.7,126.1 L660.0,126.7 L660.3,126.3 L660.6,126.3 L660.9,124.9 L661.2,126.6 L661.5,125.6 L661.8,125.5 L662.1,124.6 L662.4,125.9 L662.7,126.5 L663.0,125.1 L663.3,125.6 L663.6,125.2 L663.9,126.3 L663.9,136.1 L663.6,135.5 L663.3,135.3 L663.0,138.0 L662.7,134.9 L662.4,135.9 L662.1,135.3 L661.8,135.6 L661.5,135.6 L661.2,135.0 L660.9,136.2 L660.6,134.9 L660.3,136.4 L660.0,135.4 L659.7,134.9 L659.4,135.1 L659.1,136.5 L658.8,135.8 L658.5,135.3 L658.2,136.7 L657.9,135.5 L657.6,135.8 L657.3,135.1 L657.0,136.1 L656.7,138.9 L656.4,135.1 L656.1,134.9 L655.8,137.7 L655.5,136.6 L655.2,136.5 L654.9,135.9 L654.6,136.1 L654.3,135.8 L654.0,135.7 L653.7,136.0 L653.4,136.9 L653.1,135.6 L652.8,137.1 L652.5,137.8 L652.2,135.2 L651.9,135.2 L651.6,135.9 L651.3,135.6 L651.0,135.5 L650.7,136.0 L650.4,136.5 L650.1,135.0 L649.8,136.6 L649.5,137.4 L649.2,137.8 L648.9,136.3 L648.6,137.0 L648.3,135.6 L648.0,135.7 L647.7,134.9 L647.4,136.0 L647.1,136.1 L646.8,136.8 L646.5,137.4 L646.2,137.4 L645.9,136.4 L645.6,134.8 L645.3,134.9 L645.0,136.3 L644.7,136.1 L644.4,137.8 L644.1,134.8 L643.8,135.2 L643.5,135.3 L643.2,135.8 L642.9,134.8 L642.6,134.9 L642.3,136.1 L642.0,134.9 L641.7,136.8 L641.4,136.1 L641.1,134.9 L640.8,134.9 L640.5,134.8 L640.2,136.9 L639.9,136.0 L639.6,135.9 L639.3,136.1 L639.0,135.2 L638.7,136.9 L638.4,137.1 L638.1,136.3 L637.8,136.1 L637.5,136.5 L637.2,138.7 L636.9,135.2 L636.6,136.0 L636.3,135.2 L636.0,137.0 L635.7,135.0 L635.4,135.7 L635.1,135.5 L634.8,136.4 L634.5,136.0 L634.2,135.1 L633.9,135.9 L633.6,135.9 L633.3,135.8 L633.0,135.2 L632.7,136.8 L632.4,134.8 L632.1,136.7 L631.8,135.7 L631.5,135.5 L631.2,136.6 L630.9,136.1 L630.6,136.0 L630.3,135.3 L630.0,134.8 L629.7,135.7 L629.4,135.5 L629.1,137.0 L628.8,135.8 L628.5,136.1 L628.2,135.4 L627.9,136.8 L627.6,136.9 L627.3,137.5 L627.0,135.3 L626.7,137.0 L626.4,134.9 L626.1,136.8 L625.8,136.6 L625.5,137.2 L625.2,136.0 L624.9,136.2 L624.6,136.8 L624.3,136.8 L624.0,137.3 L623.7,137.4 L623.4,137.0 L623.1,138.0 L622.8,135.5 L622.5,135.5 L622.2,134.8 L621.9,137.1 L621.6,135.9 L621.3,135.7 L621.0,136.1 L620.7,134.9 L620.4,134.8 L620.1,134.8 L619.8,134.9 L619.5,135.5 L619.2,135.1 L618.9,135.4 L618.6,136.8 L618.3,135.1 L618.0,134.9 L617.7,135.8 L617.4,136.0 L617.1,135.7 L616.8,135.1 L616.5,135.2 L616.2,135.5 L615.9,136.9 L615.6,135.0 L615.3,135.8 L615.0,137.0 L614.7,134.8 L614.4,136.6 L614.1,135.5 L613.8,135.0 L613.5,136.1 L613.2,135.6 L612.9,135.6 L612.6,135.4 L612.3,136.5 L612.0,137.0 L611.7,134.8 L611.4,136.8 L611.1,135.8 L610.8,136.0 L610.5,136.7 L610.2,135.6 L609.9,135.3 L609.6,137.5 L609.3,135.6 L609.0,135.6 L608.7,135.1 L608.4,136.0 L608.1,137.5 L607.8,137.4 L607.5,134.9 L607.2,135.5 L606.9,135.1 L606.6,136.7 L606.3,135.1 L606.0,136.3 L605.7,134.8 L605.4,135.0 L605.1,136.2 L604.8,135.9 L604.5,135.5 L604.2,135.6 L603.9,136.7 L603.6,135.7 L603.3,138.3 L603.0,137.1 L602.7,136.4 L602.4,136.1 L602.1,135.2 L601.8,136.0 L601.5,135.8 L601.2,136.5 L600.9,135.2 L600.6,137.8 L600.3,135.9 L600.0,134.9 L599.7,136.8 L599.4,134.8 L599.1,135.3 L598.8,136.5 L598.5,135.1 L598.2,136.4 L597.9,135.4 L597.6,135.4 L597.3,135.7 L597.0,135.1 L596.7,137.1 L596.4,137.5 L596.1,136.5 L595.8,135.8 L595.5,135.1 L595.2,134.7 L594.9,137.1 L594.6,135.1 L594.3,135.2 L594.0,136.4 L593.7,135.4 L593.4,135.4 L593.1,134.9 L592.8,135.2 L592.5,135.8 L592.2,136.2 L591.9,135.4 L591.6,134.7 L591.3,137.3 L591.0,135.1 L590.7,135.6 L590.4,135.8 L590.1,135.2 L589.8,135.9 L589.5,134.7 L589.2,135.9 L588.9,135.4 L588.6,134.7 L588.3,137.9 L588.0,135.4 L587.7,137.4 L587.4,137.6 L587.1,134.9 L586.8,135.3 L586.5,136.3 L586.2,135.0 L585.9,134.9 L585.6,135.6 L585.3,134.8 L585.0,135.9 L584.7,137.9 L584.4,137.2 L584.1,137.4 L583.8,134.8 L583.5,135.2 L583.2,137.6 L582.9,135.3 L582.6,135.2 L582.3,136.8 L582.0,138.0 L581.7,135.8 L581.4,135.6 L581.1,136.1 L580.8,136.0 L580.5,135.4 L580.2,137.7 L579.9,136.7 L579.6,136.7 L579.3,135.9 L579.0,136.4 L578.7,135.7 L578.4,135.7 L578.1,135.4 L577.8,135.3 L577.5,135.5 L577.2,134.8 L576.9,137.2 L576.6,135.3 L576.3,137.3 L576.0,135.5 L575.7,135.2 L575.4,137.3 L575.1,137.0 L574.8,135.6 L574.5,134.9 L574.2,135.3 L573.9,136.9 L573.6,137.3 L573.3,136.0 L573.0,138.5 L572.7,138.1 L572.4,137.0 L572.1,135.5 L571.8,136.3 L571.5,134.8 L571.2,136.1 L570.9,135.6 L570.6,135.6 L570.3,136.1 L570.0,136.0 L569.7,135.6 L569.4,135.6 L569.1,135.0 L568.8,136.7 L568.5,135.6 L568.2,135.5 L567.9,135.3 L567.6,134.8 L567.3,135.4 L567.0,135.6 L566.7,135.4 L566.4,134.6 L566.1,135.8 L565.8,136.5 L565.5,134.8 L565.2,135.3 L564.9,135.9 L564.6,135.3 L564.3,135.7 L564.0,134.7 L563.7,134.7 L563.4,135.2 L563.1,135.9 L562.8,135.7 L562.5,134.7 L562.2,135.9 L561.9,135.7 L561.6,138.3 L561.3,138.2 L561.0,135.2 L560.7,136.1 L560.4,134.9 L560.1,136.6 L559.8,135.1 L559.5,134.9 L559.2,136.1 L558.9,135.6 L558.6,136.2 L558.3,135.3 L558.0,134.7 L557.7,136.3 L557.4,134.8 L557.1,134.6 L556.8,136.3 L556.5,135.4 L556.2,135.3 L555.9,134.9 L555.6,136.9 L555.3,134.7 L555.0,135.4 L554.7,134.8 L554.4,135.1 L554.1,134.9 L553.8,135.6 L553.5,137.4 L553.2,136.6 L552.9,137.1 L552.6,134.7 L552.3,136.8 L552.0,136.2 L551.7,135.5 L551.4,136.5 L551.1,136.6 L550.8,135.7 L550.5,135.4 L550.2,134.9 L549.9,135.9 L549.6,134.9 L549.3,135.7 L549.0,135.0 L548.7,135.1 L548.4,135.9 L548.1,135.7 L547.8,136.8 L547.5,135.3 L547.2,137.2 L546.9,134.7 L546.6,134.9 L546.3,135.8 L546.0,135.0 L545.7,135.5 L545.4,136.7 L545.1,135.0 L544.8,135.9 L544.5,135.2 L544.2,135.9 L543.9,138.4 L543.6,138.3 L543.3,138.0 L543.0,138.4 L542.7,135.0 L542.4,135.0 L542.1,135.4 L541.8,137.4 L541.5,134.8 L541.2,137.5 L540.9,135.8 L540.6,134.6 L540.3,135.5 L540.0,135.2 L539.7,135.2 L539.4,137.8 L539.1,134.6 L538.8,136.5 L538.5,135.7 L538.2,135.1 L537.9,134.8 L537.6,136.9 L537.3,135.5 L537.0,136.7 L536.7,135.9 L536.4,137.3 L536.1,135.7 L535.8,135.0 L535.5,136.0 L535.2,134.6 L534.9,137.4 L534.6,137.8 L534.3,135.6 L534.0,134.6 L533.7,135.1 L533.4,135.7 L533.1,136.0 L532.8,137.3 L532.5,135.9 L532.2,136.3 L531.9,135.1 L531.6,137.1 L531.3,136.8 L531.0,136.3 L530.7,135.1 L530.4,134.6 L530.1,135.5 L529.8,136.5 L529.5,137.0 L529.2,135.0 L528.9,134.7 L528.6,135.6 L528.3,136.1 L528.0,134.9 L527.7,136.9 L527.4,136.4 L527.1,136.4 L526.8,137.6 L526.5,136.0 L526.2,136.3 L525.9,134.8 L525.6,134.7 L525.3,135.7 L525.0,136.8 L524.7,135.8 L524.4,136.2 L524.1,135.6 L523.8,135.3 L523.5,135.3 L523.2,135.2 L522.9,135.5 L522.6,136.3 L522.3,136.1 L522.0,135.4 L521.7,138.2 L521.4,135.6 L521.1,136.4 L520.8,137.8 L520.5,136.6 L520.2,136.0 L519.9,135.5 L519.6,135.4 L519.3,138.0 L519.0,135.4 L518.7,134.9 L518.4,136.5 L518.1,135.4 L517.8,135.2 L517.5,137.5 L517.2,135.0 L516.9,136.2 L516.6,134.8 L516.3,136.5 L516.0,135.2 L515.7,135.4 L515.4,134.7 L515.1,135.7 L514.8,134.6 L514.5,135.0 L514.2,134.7 L513.9,136.1 L513.6,135.3 L513.3,135.4 L513.0,137.2 L512.7,135.8 L512.4,135.7 L512.1,136.7 L511.8,134.7 L511.5,135.6 L511.2,134.9 L510.9,136.9 L510.6,136.3 L510.3,135.0 L510.0,135.5 L509.7,134.6 L509.4,136.2 L509.1,136.7 L508.8,135.8 L508.5,136.4 L508.2,134.6 L507.9,135.0 L507.6,136.0 L507.3,135.0 L507.0,135.0 L506.7,135.1 L506.4,134.7 L506.1,135.6 L505.8,136.2 L505.5,136.8 L505.2,136.5 L504.9,135.1 L504.6,136.9 L504.3,136.4 L504.0,135.4 L503.7,135.1 L503.4,135.5 L503.1,134.5 L502.8,137.7 L502.5,134.7 L502.2,134.7 L501.9,135.0 L501.6,139.7 L501.3,134.9 L501.0,134.8 L500.7,135.0 L500.4,135.2 L500.1,136.8 L499.8,134.7 L499.5,135.6 L499.2,135.5 L498.9,135.2 L498.6,135.1 L498.3,134.6 L498.0,136.8 L497.7,134.6 L497.4,135.9 L497.1,137.0 L496.8,134.9 L496.5,135.8 L496.2,135.4 L495.9,136.0 L495.6,134.8 L495.3,135.4 L495.0,134.9 L494.7,134.9 L494.4,134.6 L494.1,135.9 L493.8,134.9 L493.5,136.4 L493.2,134.5 L492.9,135.6 L492.6,137.4 L492.3,135.7 L492.0,136.9 L491.7,135.1 L491.4,134.8 L491.1,136.9 L490.8,135.1 L490.5,135.4Z" fill="#000"/>
<path d="M501.5 94.0V127.0M533.6 104.0V127.0M534.2 108.0V127.0M543.8 94.8V127.0M611.7 99.3V127.0M652.0 95.4V127.0M640.7 118.8V127.0M593.0 120.0V127.0M578.0 122.0V127.0" stroke="#333" stroke-width="0.7" fill="none"/>
<line x1="490" y1="140.3" x2="524" y2="140.3" stroke="#000" stroke-width="2" />
<text x="498.3" y="154.4" font-size="12" fill="#000" text-anchor="start" >1 s</text>
<line x1="667.6" y1="137.9" x2="667.6" y2="184" stroke="#000" stroke-width="2" />
<text transform="translate(660.3,178.3) rotate(-90)" font-size="12">4 pA</text>
<path d="M138.6,220.4 L138.9,221.1 L139.2,218.1 L139.5,217.8 L139.8,221.0 L140.1,220.0 L140.4,218.7 L140.7,218.2 L141.0,221.3 L141.3,218.4 L141.6,219.6 L141.9,217.9 L142.2,217.8 L142.5,219.1 L142.8,221.1 L143.1,221.2 L143.4,218.9 L143.7,218.0 L144.0,219.9 L144.3,218.9 L144.6,218.1 L144.9,217.7 L145.2,219.3 L145.5,217.9 L145.8,221.4 L146.1,218.1 L146.4,217.7 L146.7,219.4 L147.0,218.2 L147.3,218.3 L147.6,220.7 L147.9,219.2 L148.2,220.0 L148.5,218.5 L148.8,219.2 L149.1,219.5 L149.4,220.3 L149.7,217.9 L150.0,220.8 L150.3,219.7 L150.6,219.8 L150.9,218.5 L151.2,219.7 L151.5,218.7 L151.8,218.1 L152.1,221.0 L152.4,218.4 L152.7,218.2 L153.0,218.1 L153.3,218.9 L153.6,218.8 L153.9,218.2 L154.2,218.3 L154.5,218.2 L154.8,218.0 L155.1,218.8 L155.4,217.9 L155.7,217.9 L156.0,218.2 L156.3,218.0 L156.6,218.9 L156.9,217.8 L157.2,218.1 L157.5,218.5 L157.8,219.5 L158.1,219.7 L158.4,218.7 L158.7,219.3 L159.0,218.1 L159.3,219.0 L159.6,219.3 L159.9,221.0 L160.2,218.5 L160.5,220.5 L160.8,221.9 L161.1,218.7 L161.4,218.7 L161.7,218.2 L162.0,218.2 L162.3,218.9 L162.6,219.0 L162.9,218.6 L163.2,219.1 L163.5,218.5 L163.8,218.6 L164.1,219.9 L164.4,218.4 L164.7,220.2 L165.0,218.3 L165.3,218.2 L165.6,218.7 L165.9,218.3 L166.2,219.0 L166.5,219.3 L166.8,218.0 L167.1,218.4 L167.4,218.3 L167.7,218.8 L168.0,218.7 L168.3,217.8 L168.6,219.9 L168.9,218.9 L169.2,218.1 L169.5,218.5 L169.8,218.8 L170.1,218.7 L170.4,219.5 L170.7,218.8 L171.0,218.0 L171.3,219.2 L171.6,218.1 L171.9,218.5 L172.2,217.9 L172.5,219.0 L172.8,218.1 L173.1,219.3 L173.4,218.7 L173.7,218.7 L174.0,218.4 L174.3,218.7 L174.6,219.0 L174.9,220.1 L175.2,219.8 L175.5,218.5 L175.8,218.3 L176.1,218.8 L176.4,218.3 L176.7,217.9 L177.0,218.5 L177.3,218.4 L177.6,218.5 L177.9,219.0 L178.2,218.7 L178.5,218.5 L178.8,219.3 L179.1,217.9 L179.4,219.0 L179.7,218.4 L180.0,219.2 L180.3,218.3 L180.6,218.4 L180.9,219.1 L181.2,219.2 L181.5,218.0 L181.8,219.2 L182.1,218.1 L182.4,218.4 L182.7,218.0 L183.0,218.6 L183.3,220.2 L183.6,220.1 L183.9,219.2 L184.2,219.9 L184.5,218.3 L184.8,218.4 L185.1,219.8 L185.4,218.3 L185.7,218.6 L186.0,220.1 L186.3,219.7 L186.6,219.5 L186.9,218.6 L187.2,220.3 L187.5,218.4 L187.8,219.1 L188.1,218.4 L188.4,220.6 L188.7,220.6 L189.0,218.3 L189.3,220.6 L189.6,218.4 L189.9,218.3 L190.2,218.5 L190.5,219.2 L190.8,218.7 L191.1,220.3 L191.4,221.2 L191.7,220.4 L192.0,219.3 L192.3,218.4 L192.6,218.4 L192.9,220.2 L193.2,220.0 L193.5,218.3 L193.8,218.1 L194.1,218.5 L194.4,219.4 L194.7,218.2 L195.0,219.4 L195.3,220.8 L195.6,219.4 L195.9,218.4 L196.2,220.0 L196.5,219.3 L196.8,220.1 L197.1,218.2 L197.4,218.4 L197.7,221.2 L198.0,218.1 L198.3,220.4 L198.6,218.7 L198.9,218.3 L199.2,219.3 L199.5,219.1 L199.8,218.1 L200.1,219.8 L200.4,219.2 L200.7,218.0 L201.0,217.9 L201.3,218.5 L201.6,219.5 L201.9,218.6 L202.2,221.3 L202.5,218.0 L202.8,218.1 L203.1,219.7 L203.4,218.5 L203.7,218.6 L204.0,218.0 L204.3,218.1 L204.6,218.6 L204.9,219.1 L205.2,219.1 L205.5,219.0 L205.8,219.1 L206.1,219.1 L206.4,218.3 L206.7,218.0 L207.0,218.3 L207.3,219.2 L207.6,218.1 L207.9,218.5 L208.2,218.5 L208.5,218.5 L208.8,218.5 L209.1,219.2 L209.4,218.8 L209.7,218.3 L210.0,218.4 L210.3,219.4 L210.6,219.3 L210.9,218.6 L211.2,218.9 L211.5,218.6 L211.8,219.3 L212.1,219.0 L212.4,219.3 L212.7,220.0 L213.0,218.1 L213.3,218.5 L213.6,219.6 L213.9,219.5 L214.2,219.4 L214.5,221.2 L214.8,218.9 L215.1,218.3 L215.4,218.5 L215.7,218.7 L216.0,218.4 L216.3,219.7 L216.6,218.6 L216.9,219.1 L217.2,218.7 L217.5,219.1 L217.8,220.2 L218.1,218.0 L218.4,218.6 L218.7,219.4 L219.0,218.7 L219.3,219.7 L219.6,218.2 L219.9,219.3 L220.2,219.1 L220.5,218.0 L220.8,219.3 L221.1,219.7 L221.4,219.4 L221.7,220.4 L222.0,218.5 L222.3,218.8 L222.6,218.8 L222.9,218.1 L223.2,219.4 L223.5,218.5 L223.8,218.7 L224.1,218.4 L224.4,218.4 L224.7,219.5 L225.0,221.0 L225.3,218.5 L225.6,218.0 L225.9,221.2 L226.2,218.9 L226.5,220.3 L226.8,220.4 L227.1,220.6 L227.4,219.0 L227.7,218.6 L228.0,218.6 L228.3,218.0 L228.6,218.7 L228.9,218.1 L229.2,219.5 L229.5,218.2 L229.8,219.2 L230.1,220.2 L230.4,218.7 L230.7,218.7 L231.0,219.1 L231.3,218.1 L231.6,219.0 L231.9,218.6 L232.2,218.2 L232.5,218.2 L232.8,218.9 L233.1,219.2 L233.4,219.6 L233.7,218.9 L234.0,219.1 L234.3,219.4 L234.6,221.3 L234.9,219.0 L235.2,220.0 L235.5,220.0 L235.8,218.2 L236.1,220.0 L236.4,222.0 L236.7,220.4 L237.0,218.6 L237.3,219.1 L237.6,218.4 L237.9,218.9 L238.2,219.8 L238.5,218.2 L238.8,222.5 L239.1,218.2 L239.4,218.1 L239.7,221.4 L240.0,219.1 L240.3,220.1 L240.6,220.0 L240.9,219.3 L241.2,218.3 L241.5,220.8 L241.8,218.7 L242.1,220.1 L242.4,218.2 L242.7,219.0 L243.0,219.0 L243.3,220.4 L243.6,218.6 L243.9,218.4 L244.2,219.4 L244.5,218.4 L244.8,218.8 L245.1,219.2 L245.4,219.3 L245.7,218.7 L246.0,220.1 L246.3,218.9 L246.6,218.4 L246.9,220.0 L247.2,218.4 L247.5,218.1 L247.8,219.7 L248.1,221.8 L248.4,218.5 L248.7,220.0 L249.0,219.4 L249.3,219.1 L249.6,219.1 L249.9,218.4 L250.2,219.8 L250.5,220.6 L250.8,218.6 L251.1,218.1 L251.4,218.2 L251.7,219.6 L252.0,218.7 L252.3,219.6 L252.6,220.7 L252.9,219.5 L253.2,219.4 L253.5,218.5 L253.8,219.8 L254.1,218.1 L254.4,218.2 L254.7,219.7 L255.0,220.7 L255.3,219.7 L255.6,218.3 L255.9,218.1 L256.2,219.1 L256.5,218.6 L256.8,220.1 L257.1,219.3 L257.4,220.1 L257.7,219.0 L258.0,219.0 L258.3,218.9 L258.6,218.1 L258.9,220.5 L259.2,218.1 L259.5,219.8 L259.8,218.2 L260.1,218.4 L260.4,219.2 L260.7,218.1 L261.0,218.3 L261.3,218.2 L261.6,219.4 L261.9,218.1 L262.2,219.3 L262.5,218.5 L262.8,219.1 L263.1,218.2 L263.4,220.8 L263.7,222.1 L264.0,219.1 L264.3,220.2 L264.6,218.5 L264.9,218.2 L265.2,220.0 L265.5,218.6 L265.8,218.5 L266.1,218.4 L266.4,218.7 L266.7,220.4 L267.0,218.4 L267.3,219.1 L267.6,218.7 L267.9,219.5 L268.2,218.5 L268.5,219.3 L268.8,219.4 L269.1,222.5 L269.4,219.2 L269.7,219.2 L270.0,219.4 L270.3,218.9 L270.6,218.4 L270.9,218.3 L271.2,220.1 L271.5,218.6 L271.8,218.7 L272.1,218.8 L272.4,218.6 L272.7,219.2 L273.0,219.5 L273.3,218.7 L273.6,218.7 L273.9,219.2 L274.2,219.2 L274.5,219.9 L274.8,219.4 L275.1,218.3 L275.4,220.7 L275.7,220.0 L276.0,219.7 L276.3,218.8 L276.6,219.6 L276.9,219.6 L277.2,221.4 L277.5,218.6 L277.8,218.5 L278.1,219.0 L278.4,218.6 L278.7,218.7 L279.0,220.3 L279.3,218.7 L279.6,219.6 L279.9,218.5 L280.2,220.4 L280.5,218.7 L280.8,218.6 L281.1,220.8 L281.4,218.3 L281.7,219.6 L282.0,219.5 L282.3,218.7 L282.6,220.7 L282.9,221.0 L283.2,221.6 L283.5,219.6 L283.8,218.4 L284.1,218.2 L284.4,220.0 L284.7,218.2 L285.0,219.6 L285.3,218.3 L285.6,220.5 L285.9,218.8 L286.2,219.0 L286.5,220.2 L286.8,219.8 L287.1,219.7 L287.4,220.2 L287.7,220.2 L288.0,220.1 L288.3,219.3 L288.6,218.6 L288.9,218.9 L289.2,218.2 L289.5,219.0 L289.8,219.4 L290.1,218.9 L290.4,218.6 L290.7,219.2 L291.0,219.1 L291.3,218.6 L291.6,219.3 L291.9,219.5 L292.2,219.1 L292.5,218.6 L292.8,219.9 L293.1,218.4 L293.4,222.4 L293.7,219.6 L294.0,220.0 L294.3,219.4 L294.6,218.7 L294.9,219.2 L295.2,219.0 L295.5,221.1 L295.8,219.6 L296.1,220.8 L296.4,219.2 L296.7,219.0 L297.0,220.5 L297.3,219.2 L297.6,220.9 L297.9,218.7 L298.2,218.3 L298.5,219.0 L298.8,219.1 L299.1,220.0 L299.4,219.4 L299.7,220.2 L300.0,219.9 L300.3,219.8 L300.6,219.3 L300.9,219.3 L301.2,218.9 L301.5,219.5 L301.8,218.4 L302.1,219.6 L302.4,218.9 L302.7,220.7 L303.0,219.0 L303.3,219.8 L303.6,219.8 L303.9,219.7 L304.2,219.1 L304.5,218.3 L304.8,219.0 L305.1,219.6 L305.4,220.3 L305.7,218.4 L306.0,218.3 L306.3,219.4 L306.6,220.6 L306.9,218.3 L307.2,218.4 L307.5,220.1 L307.8,220.1 L308.1,218.5 L308.4,218.8 L308.7,220.7 L309.0,219.3 L309.3,218.9 L309.6,220.4 L309.9,220.5 L310.2,218.9 L310.5,219.4 L310.8,219.2 L311.1,219.0 L311.4,219.0 L311.7,219.0 L312.0,219.0 L312.3,218.4 L312.6,219.9 L312.9,219.3 L313.2,221.2 L313.5,219.9 L313.8,219.7 L314.1,219.9 L314.4,218.9 L314.7,218.4 L315.0,220.3 L315.3,219.3 L315.6,219.1 L315.9,220.9 L316.2,218.6 L316.5,220.5 L316.8,221.2 L317.1,219.7 L317.4,219.1 L317.7,221.5 L318.0,218.8 L318.3,220.2 L318.6,219.6 L318.9,219.8 L319.2,220.6 L319.5,220.3 L319.8,219.4 L320.1,220.3 L320.4,219.2 L320.7,219.8 L321.0,219.0 L321.3,220.8 L321.6,219.4 L321.9,218.8 L322.2,219.0 L322.5,219.1 L322.8,220.0 L323.1,219.9 L323.4,219.8 L323.7,219.3 L324.0,219.4 L324.3,220.0 L324.6,218.8 L324.9,220.0 L325.2,220.4 L325.5,218.6 L325.8,220.2 L326.1,220.1 L326.4,219.5 L326.7,220.7 L327.0,219.8 L327.3,218.9 L327.6,219.4 L327.9,220.1 L328.2,219.8 L328.5,218.7 L328.8,221.1 L329.1,220.2 L329.4,219.0 L329.7,219.8 L330.0,218.7 L330.3,218.9 L330.6,219.9 L330.9,219.0 L331.2,219.4 L331.5,219.1 L331.8,219.8 L332.1,220.6 L332.4,220.2 L332.7,219.8 L333.0,218.5 L333.0,220.2 L332.7,221.4 L332.4,221.3 L332.1,222.9 L331.8,220.8 L331.5,221.3 L331.2,222.1 L330.9,221.5 L330.6,221.0 L330.3,220.4 L330.0,220.0 L329.7,221.6 L329.4,220.9 L329.1,223.2 L328.8,223.1 L328.5,219.8 L328.2,221.9 L327.9,221.6 L327.6,222.5 L327.3,221.6 L327.0,221.8 L326.7,222.0 L326.4,220.9 L326.1,221.8 L325.8,221.4 L325.5,220.6 L325.2,221.5 L324.9,222.0 L324.6,220.9 L324.3,221.0 L324.0,221.1 L323.7,220.4 L323.4,221.2 L323.1,221.6 L322.8,223.5 L322.5,221.2 L322.2,221.2 L321.9,220.9 L321.6,221.5 L321.3,223.0 L321.0,222.0 L320.7,222.0 L320.4,220.5 L320.1,222.2 L319.8,221.6 L319.5,221.6 L319.2,222.9 L318.9,221.3 L318.6,221.7 L318.3,222.7 L318.0,223.0 L317.7,222.8 L317.4,221.6 L317.1,222.1 L316.8,223.1 L316.5,222.1 L316.2,220.4 L315.9,222.4 L315.6,220.4 L315.3,220.8 L315.0,222.6 L314.7,221.6 L314.4,221.0 L314.1,221.9 L313.8,220.9 L313.5,223.3 L313.2,222.8 L312.9,220.5 L312.6,221.6 L312.3,219.5 L312.0,220.2 L311.7,221.5 L311.4,221.1 L311.1,221.1 L310.8,220.3 L310.5,220.5 L310.2,220.5 L309.9,222.7 L309.6,222.6 L309.3,220.3 L309.0,220.4 L308.7,222.2 L308.4,220.3 L308.1,220.2 L307.8,222.1 L307.5,223.2 L307.2,219.6 L306.9,220.6 L306.6,222.7 L306.3,221.2 L306.0,220.3 L305.7,220.0 L305.4,221.5 L305.1,222.1 L304.8,220.8 L304.5,219.3 L304.2,220.7 L303.9,221.9 L303.6,221.5 L303.3,221.5 L303.0,220.6 L302.7,221.7 L302.4,220.2 L302.1,221.3 L301.8,219.5 L301.5,221.8 L301.2,220.7 L300.9,221.5 L300.6,220.3 L300.3,221.8 L300.0,221.9 L299.7,221.2 L299.4,221.5 L299.1,221.7 L298.8,220.3 L298.5,220.8 L298.2,219.5 L297.9,219.9 L297.6,222.7 L297.3,220.4 L297.0,222.2 L296.7,221.3 L296.4,220.5 L296.1,223.7 L295.8,220.7 L295.5,223.3 L295.2,221.5 L294.9,220.8 L294.6,221.8 L294.3,220.8 L294.0,221.8 L293.7,221.1 L293.4,223.9 L293.1,220.0 L292.8,221.7 L292.5,220.0 L292.2,220.5 L291.9,221.2 L291.6,220.6 L291.3,220.2 L291.0,222.7 L290.7,220.7 L290.4,221.3 L290.1,222.3 L289.8,221.1 L289.5,220.2 L289.2,220.2 L288.9,220.1 L288.6,220.7 L288.3,220.7 L288.0,222.7 L287.7,221.2 L287.4,221.3 L287.1,221.8 L286.8,220.9 L286.5,223.3 L286.2,220.4 L285.9,219.8 L285.6,222.9 L285.3,220.0 L285.0,221.9 L284.7,219.7 L284.4,221.3 L284.1,219.8 L283.8,219.6 L283.5,220.7 L283.2,223.1 L282.9,222.9 L282.6,222.6 L282.3,220.0 L282.0,223.3 L281.7,221.6 L281.4,220.3 L281.1,222.0 L280.8,220.0 L280.5,221.2 L280.2,222.3 L279.9,220.1 L279.6,221.3 L279.3,220.4 L279.0,221.9 L278.7,219.9 L278.4,219.7 L278.1,220.2 L277.8,220.5 L277.5,220.8 L277.2,222.9 L276.9,220.8 L276.6,220.7 L276.3,219.8 L276.0,221.7 L275.7,221.4 L275.4,222.1 L275.1,220.3 L274.8,221.6 L274.5,223.0 L274.2,220.8 L273.9,220.8 L273.6,219.8 L273.3,221.2 L273.0,221.0 L272.7,222.7 L272.4,221.4 L272.1,220.4 L271.8,220.8 L271.5,219.8 L271.2,221.6 L270.9,219.8 L270.6,219.9 L270.3,221.0 L270.0,220.5 L269.7,220.9 L269.4,222.2 L269.1,224.4 L268.8,221.5 L268.5,220.8 L268.2,221.7 L267.9,220.7 L267.6,219.8 L267.3,220.7 L267.0,220.6 L266.7,222.6 L266.4,220.9 L266.1,219.5 L265.8,220.2 L265.5,220.3 L265.2,222.4 L264.9,219.4 L264.6,221.0 L264.3,223.3 L264.0,220.2 L263.7,224.0 L263.4,222.2 L263.1,220.2 L262.8,220.4 L262.5,220.4 L262.2,220.9 L261.9,219.7 L261.6,221.7 L261.3,219.3 L261.0,219.9 L260.7,220.1 L260.4,220.8 L260.1,220.7 L259.8,219.6 L259.5,222.4 L259.2,220.6 L258.9,221.8 L258.6,219.7 L258.3,221.4 L258.0,220.9 L257.7,220.0 L257.4,221.9 L257.1,220.7 L256.8,221.8 L256.5,220.2 L256.2,220.8 L255.9,219.7 L255.6,219.9 L255.3,222.0 L255.0,222.9 L254.7,222.8 L254.4,220.3 L254.1,219.8 L253.8,223.4 L253.5,220.2 L253.2,221.7 L252.9,223.4 L252.6,221.8 L252.3,221.1 L252.0,220.2 L251.7,221.5 L251.4,219.5 L251.1,219.3 L250.8,220.1 L250.5,221.7 L250.2,221.0 L249.9,220.0 L249.6,220.6 L249.3,221.3 L249.0,221.1 L248.7,221.0 L248.4,220.4 L248.1,224.7 L247.8,221.6 L247.5,219.7 L247.2,220.1 L246.9,222.1 L246.6,220.7 L246.3,220.6 L246.0,221.3 L245.7,220.7 L245.4,221.1 L245.1,220.5 L244.8,222.3 L244.5,220.3 L244.2,222.9 L243.9,220.1 L243.6,220.8 L243.3,221.5 L243.0,221.6 L242.7,220.4 L242.4,219.5 L242.1,221.6 L241.8,221.5 L241.5,222.0 L241.2,220.0 L240.9,220.4 L240.6,221.8 L240.3,222.2 L240.0,220.1 L239.7,222.5 L239.4,220.1 L239.1,219.4 L238.8,223.6 L238.5,219.7 L238.2,221.0 L237.9,220.2 L237.6,219.5 L237.3,221.4 L237.0,220.3 L236.7,221.8 L236.4,224.9 L236.1,222.5 L235.8,219.3 L235.5,221.4 L235.2,221.1 L234.9,221.4 L234.6,222.8 L234.3,220.6 L234.0,220.2 L233.7,220.3 L233.4,220.7 L233.1,221.3 L232.8,221.4 L232.5,220.3 L232.2,219.6 L231.9,220.2 L231.6,221.2 L231.3,220.1 L231.0,220.4 L230.7,221.0 L230.4,222.1 L230.1,221.3 L229.8,222.1 L229.5,219.6 L229.2,221.3 L228.9,219.7 L228.6,220.2 L228.3,219.4 L228.0,220.1 L227.7,220.4 L227.4,221.1 L227.1,222.1 L226.8,222.8 L226.5,222.7 L226.2,221.5 L225.9,222.5 L225.6,219.4 L225.3,221.7 L225.0,223.4 L224.7,220.7 L224.4,220.2 L224.1,220.1 L223.8,220.6 L223.5,220.5 L223.2,220.6 L222.9,220.9 L222.6,219.9 L222.3,220.2 L222.0,220.0 L221.7,221.7 L221.4,221.8 L221.1,222.2 L220.8,220.4 L220.5,220.9 L220.2,220.8 L219.9,221.4 L219.6,220.4 L219.3,221.3 L219.0,221.6 L218.7,221.4 L218.4,220.1 L218.1,219.1 L217.8,221.9 L217.5,220.5 L217.2,220.9 L216.9,221.6 L216.6,219.8 L216.3,221.4 L216.0,221.4 L215.7,220.7 L215.4,220.6 L215.1,220.2 L214.8,221.6 L214.5,223.6 L214.2,221.4 L213.9,220.8 L213.6,221.6 L213.3,219.8 L213.0,221.3 L212.7,222.5 L212.4,222.4 L212.1,221.3 L211.8,221.0 L211.5,220.7 L211.2,221.3 L210.9,219.6 L210.6,221.0 L210.3,221.4 L210.0,220.2 L209.7,220.3 L209.4,220.4 L209.1,220.6 L208.8,221.5 L208.5,222.2 L208.2,221.1 L207.9,219.8 L207.6,219.5 L207.3,222.8 L207.0,220.8 L206.7,219.2 L206.4,220.2 L206.1,221.8 L205.8,222.3 L205.5,220.3 L205.2,220.2 L204.9,220.7 L204.6,220.5 L204.3,219.7 L204.0,219.7 L203.7,220.3 L203.4,220.1 L203.1,222.5 L202.8,219.8 L202.5,220.4 L202.2,222.4 L201.9,220.2 L201.6,222.5 L201.3,221.1 L201.0,219.3 L200.7,219.6 L200.4,221.0 L200.1,220.9 L199.8,219.2 L199.5,221.0 L199.2,220.7 L198.9,219.9 L198.6,221.0 L198.3,221.5 L198.0,219.5 L197.7,222.3 L197.4,219.7 L197.1,219.7 L196.8,222.1 L196.5,221.8 L196.2,222.4 L195.9,219.6 L195.6,221.6 L195.3,222.1 L195.0,221.8 L194.7,219.6 L194.4,222.3 L194.1,220.7 L193.8,219.2 L193.5,220.2 L193.2,222.8 L192.9,221.5 L192.6,219.4 L192.3,219.6 L192.0,221.4 L191.7,223.7 L191.4,222.9 L191.1,221.7 L190.8,221.0 L190.5,221.0 L190.2,220.5 L189.9,219.8 L189.6,220.0 L189.3,222.0 L189.0,220.2 L188.7,221.7 L188.4,222.6 L188.1,219.7 L187.8,221.7 L187.5,220.5 L187.2,222.6 L186.9,220.2 L186.6,221.1 L186.3,221.3 L186.0,221.1 L185.7,221.1 L185.4,220.1 L185.1,221.8 L184.8,220.6 L184.5,221.3 L184.2,221.5 L183.9,221.4 L183.6,221.8 L183.3,221.3 L183.0,219.9 L182.7,219.2 L182.4,222.1 L182.1,219.6 L181.8,220.4 L181.5,219.6 L181.2,220.7 L180.9,220.9 L180.6,222.1 L180.3,219.8 L180.0,220.7 L179.7,220.6 L179.4,220.1 L179.1,220.0 L178.8,220.7 L178.5,220.2 L178.2,221.7 L177.9,220.8 L177.6,220.7 L177.3,219.9 L177.0,219.6 L176.7,219.1 L176.4,220.1 L176.1,221.1 L175.8,219.6 L175.5,220.7 L175.2,221.4 L174.9,222.3 L174.6,221.3 L174.3,220.3 L174.0,220.8 L173.7,221.5 L173.4,220.0 L173.1,220.3 L172.8,219.5 L172.5,220.0 L172.2,219.0 L171.9,221.0 L171.6,219.2 L171.3,220.9 L171.0,219.6 L170.7,220.9 L170.4,220.8 L170.1,220.2 L169.8,220.8 L169.5,221.0 L169.2,220.6 L168.9,220.0 L168.6,221.1 L168.3,220.2 L168.0,220.3 L167.7,221.7 L167.4,219.9 L167.1,219.6 L166.8,220.2 L166.5,221.7 L166.2,221.0 L165.9,219.6 L165.6,220.5 L165.3,219.4 L165.0,220.1 L164.7,222.7 L164.4,220.6 L164.1,221.4 L163.8,220.7 L163.5,220.2 L163.2,220.7 L162.9,220.6 L162.6,220.9 L162.3,220.8 L162.0,220.0 L161.7,219.3 L161.4,221.9 L161.1,219.7 L160.8,224.8 L160.5,223.3 L160.2,221.8 L159.9,223.2 L159.6,220.6 L159.3,222.3 L159.0,219.4 L158.7,220.9 L158.4,220.0 L158.1,222.3 L157.8,221.1 L157.5,220.5 L157.2,219.6 L156.9,219.9 L156.6,221.8 L156.3,219.4 L156.0,219.9 L155.7,219.2 L155.4,219.8 L155.1,221.6 L154.8,219.2 L154.5,219.8 L154.2,220.2 L153.9,220.0 L153.6,220.2 L153.3,220.8 L153.0,220.2 L152.7,219.5 L152.4,221.1 L152.1,222.7 L151.8,221.4 L151.5,221.3 L151.2,221.3 L150.9,221.5 L150.6,221.4 L150.3,221.3 L150.0,222.2 L149.7,219.6 L149.4,221.4 L149.1,220.9 L148.8,221.2 L148.5,220.2 L148.2,222.5 L147.9,221.2 L147.6,223.1 L147.3,219.8 L147.0,220.3 L146.7,221.5 L146.4,220.9 L146.1,219.2 L145.8,222.7 L145.5,219.2 L145.2,220.9 L144.9,219.7 L144.6,219.4 L144.3,220.9 L144.0,221.3 L143.7,219.7 L143.4,220.5 L143.1,222.5 L142.8,222.1 L142.5,220.4 L142.2,219.9 L141.9,218.9 L141.6,221.2 L141.3,219.6 L141.0,222.4 L140.7,220.8 L140.4,219.8 L140.1,223.0 L139.8,223.4 L139.5,219.0 L139.2,219.3 L138.9,222.2 L138.6,221.6Z" fill="#000" fill-opacity="0.35"/>
<path d="M138.6,209.6 L138.9,209.6 L139.2,188.1 L139.5,190.5 L139.8,209.3 L140.1,208.8 L140.4,199.0 L140.7,197.0 L141.0,200.8 L141.3,199.9 L141.6,209.3 L141.9,198.1 L142.2,196.4 L142.5,196.6 L142.8,195.8 L143.1,209.6 L143.4,209.2 L143.7,197.1 L144.0,197.9 L144.3,198.3 L144.6,209.3 L144.9,209.2 L145.2,193.7 L145.5,195.0 L145.8,194.2 L146.1,193.9 L146.4,194.0 L146.7,195.3 L147.0,209.3 L147.3,189.5 L147.6,209.4 L147.9,190.9 L148.2,193.8 L148.5,208.5 L148.8,188.4 L149.1,186.6 L149.4,187.0 L149.7,187.4 L150.0,208.6 L150.3,192.2 L150.6,193.8 L150.9,191.7 L151.2,209.2 L151.5,189.1 L151.8,209.7 L152.1,188.1 L152.4,209.1 L152.7,186.8 L153.0,209.0 L153.3,192.6 L153.6,208.8 L153.9,208.5 L154.2,201.1 L154.5,199.1 L154.8,208.9 L155.1,208.7 L155.4,194.7 L155.7,209.3 L156.0,209.1 L156.3,209.7 L156.6,188.6 L156.9,209.0 L157.2,208.5 L157.5,209.7 L157.8,209.4 L158.1,187.9 L158.4,187.1 L158.7,189.2 L159.0,185.2 L159.3,190.6 L159.6,190.0 L159.9,209.4 L160.2,188.7 L160.5,188.8 L160.8,188.7 L161.1,188.7 L161.4,188.3 L161.7,190.2 L162.0,189.3 L162.3,208.5 L162.6,209.1 L162.9,193.5 L163.2,209.1 L163.5,208.6 L163.8,196.1 L164.1,196.9 L164.4,209.6 L164.7,196.4 L165.0,209.7 L165.3,192.6 L165.6,194.6 L165.9,192.6 L166.2,189.9 L166.5,192.9 L166.8,209.2 L167.1,193.3 L167.4,195.9 L167.7,209.2 L168.0,209.4 L168.3,190.1 L168.6,191.0 L168.9,188.9 L169.2,188.8 L169.5,209.0 L169.8,209.3 L170.1,187.3 L170.4,186.0 L170.7,208.3 L171.0,187.4 L171.3,208.1 L171.6,200.2 L171.9,209.2 L172.2,188.3 L172.5,189.0 L172.8,188.2 L173.1,188.6 L173.4,187.0 L173.7,209.2 L174.0,192.3 L174.3,208.7 L174.6,189.0 L174.9,189.6 L175.2,188.5 L175.5,186.2 L175.8,191.4 L176.1,209.5 L176.4,209.7 L176.7,209.6 L177.0,190.0 L177.3,209.0 L177.6,188.5 L177.9,188.7 L178.2,189.3 L178.5,189.1 L178.8,188.9 L179.1,209.6 L179.4,188.7 L179.7,209.0 L180.0,209.8 L180.3,190.5 L180.6,192.1 L180.9,191.6 L181.2,190.7 L181.5,208.6 L181.8,189.6 L182.1,186.4 L182.4,186.0 L182.7,187.8 L183.0,209.1 L183.3,196.0 L183.6,209.8 L183.9,208.7 L184.2,209.8 L184.5,193.9 L184.8,209.4 L185.1,208.2 L185.4,209.5 L185.7,208.5 L186.0,197.8 L186.3,208.8 L186.6,187.5 L186.9,189.7 L187.2,208.0 L187.5,190.3 L187.8,208.8 L188.1,209.8 L188.4,191.7 L188.7,209.3 L189.0,190.0 L189.3,190.9 L189.6,185.6 L189.9,189.5 L190.2,190.3 L190.5,188.4 L190.8,185.8 L191.1,209.8 L191.4,189.8 L191.7,190.6 L192.0,190.1 L192.3,209.3 L192.6,209.2 L192.9,187.7 L193.2,208.9 L193.5,196.3 L193.8,196.3 L194.1,196.0 L194.4,197.5 L194.7,196.1 L195.0,209.8 L195.3,209.0 L195.6,192.7 L195.9,192.5 L196.2,209.6 L196.5,209.4 L196.8,208.5 L197.1,209.8 L197.4,208.7 L197.7,209.7 L198.0,209.3 L198.3,209.7 L198.6,209.8 L198.9,208.5 L199.2,208.9 L199.5,209.2 L199.8,209.2 L200.1,209.8 L200.4,209.2 L200.7,208.3 L201.0,208.7 L201.3,208.9 L201.6,189.9 L201.9,209.1 L202.2,209.4 L202.5,209.1 L202.8,209.6 L203.1,209.8 L203.4,209.2 L203.7,209.7 L204.0,208.7 L204.3,209.6 L204.6,209.6 L204.9,209.8 L205.2,209.9 L205.5,209.3 L205.8,209.9 L206.1,208.1 L206.4,209.7 L206.7,209.8 L207.0,195.4 L207.3,209.0 L207.6,209.5 L207.9,209.8 L208.2,208.7 L208.5,209.9 L208.8,209.7 L209.1,209.9 L209.4,194.7 L209.7,209.3 L210.0,209.7 L210.3,209.0 L210.6,209.2 L210.9,208.8 L211.2,209.5 L211.5,208.0 L211.8,209.4 L212.1,209.5 L212.4,209.9 L212.7,209.8 L213.0,209.5 L213.3,209.7 L213.6,209.3 L213.9,195.7 L214.2,197.3 L214.5,196.4 L214.8,195.4 L215.1,208.8 L215.4,188.8 L215.7,209.9 L216.0,189.2 L216.3,189.7 L216.6,190.5 L216.9,187.4 L217.2,189.9 L217.5,209.9 L217.8,195.1 L218.1,209.5 L218.4,190.4 L218.7,191.2 L219.0,209.9 L219.3,209.3 L219.6,208.1 L219.9,209.8 L220.2,209.3 L220.5,198.2 L220.8,201.4 L221.1,198.7 L221.4,197.7 L221.7,209.6 L222.0,208.9 L222.3,192.9 L222.6,188.8 L222.9,208.6 L223.2,196.5 L223.5,194.7 L223.8,209.7 L224.1,188.5 L224.4,188.4 L224.7,187.3 L225.0,187.5 L225.3,209.2 L225.6,189.5 L225.9,187.7 L226.2,188.5 L226.5,190.4 L226.8,186.7 L227.1,189.9 L227.4,190.2 L227.7,187.4 L228.0,190.9 L228.3,209.5 L228.6,188.3 L228.9,190.1 L229.2,208.8 L229.5,195.2 L229.8,197.5 L230.1,197.1 L230.4,197.0 L230.7,195.5 L231.0,196.2 L231.3,209.0 L231.6,190.1 L231.9,209.9 L232.2,198.5 L232.5,199.6 L232.8,197.6 L233.1,209.9 L233.4,196.6 L233.7,193.9 L234.0,208.3 L234.3,188.9 L234.6,190.5 L234.9,208.9 L235.2,200.2 L235.5,197.4 L235.8,209.2 L236.1,208.6 L236.4,189.1 L236.7,210.0 L237.0,190.5 L237.3,209.3 L237.6,209.3 L237.9,195.0 L238.2,192.9 L238.5,209.8 L238.8,189.9 L239.1,191.2 L239.4,209.2 L239.7,192.9 L240.0,189.2 L240.3,209.4 L240.6,191.6 L240.9,188.6 L241.2,209.3 L241.5,189.0 L241.8,188.0 L242.1,190.8 L242.4,209.9 L242.7,190.5 L243.0,190.0 L243.3,191.1 L243.6,189.2 L243.9,208.9 L244.2,210.0 L244.5,208.3 L244.8,208.9 L245.1,209.8 L245.4,209.0 L245.7,208.9 L246.0,208.4 L246.3,190.8 L246.6,209.7 L246.9,209.6 L247.2,192.3 L247.5,209.5 L247.8,209.9 L248.1,209.7 L248.4,209.0 L248.7,209.4 L249.0,209.1 L249.3,208.8 L249.6,209.9 L249.9,209.8 L250.2,209.9 L250.5,209.8 L250.8,209.1 L251.1,209.3 L251.4,209.7 L251.7,209.4 L252.0,209.7 L252.3,209.0 L252.6,209.5 L252.9,208.3 L253.2,210.0 L253.5,208.7 L253.8,209.1 L254.1,209.0 L254.4,209.8 L254.7,209.6 L255.0,189.7 L255.3,209.5 L255.6,209.3 L255.9,210.1 L256.2,209.6 L256.5,209.3 L256.8,209.7 L257.1,209.3 L257.4,209.1 L257.7,208.6 L258.0,209.5 L258.3,208.2 L258.6,209.4 L258.9,209.8 L259.2,209.3 L259.5,208.4 L259.8,208.9 L260.1,190.5 L260.4,190.8 L260.7,189.7 L261.0,188.1 L261.3,209.6 L261.6,189.8 L261.9,192.7 L262.2,209.2 L262.5,199.0 L262.8,199.4 L263.1,209.5 L263.4,190.9 L263.7,192.1 L264.0,190.0 L264.3,209.8 L264.6,210.0 L264.9,190.5 L265.2,208.2 L265.5,192.3 L265.8,189.0 L266.1,193.1 L266.4,191.3 L266.7,190.5 L267.0,209.5 L267.3,209.6 L267.6,193.9 L267.9,192.8 L268.2,195.3 L268.5,209.8 L268.8,190.4 L269.1,189.2 L269.4,209.0 L269.7,194.5 L270.0,194.5 L270.3,192.9 L270.6,209.7 L270.9,189.1 L271.2,192.2 L271.5,209.1 L271.8,209.0 L272.1,192.0 L272.4,188.5 L272.7,192.4 L273.0,208.8 L273.3,197.2 L273.6,208.9 L273.9,209.3 L274.2,209.5 L274.5,196.8 L274.8,197.5 L275.1,196.5 L275.4,195.2 L275.7,196.5 L276.0,197.6 L276.3,209.8 L276.6,195.6 L276.9,197.9 L277.2,209.9 L277.5,188.6 L277.8,209.9 L278.1,191.1 L278.4,190.4 L278.7,189.7 L279.0,209.0 L279.3,193.9 L279.6,194.3 L279.9,192.6 L280.2,209.7 L280.5,189.5 L280.8,209.2 L281.1,208.9 L281.4,190.6 L281.7,190.3 L282.0,210.1 L282.3,197.1 L282.6,197.2 L282.9,208.8 L283.2,209.9 L283.5,196.9 L283.8,195.0 L284.1,197.0 L284.4,196.0 L284.7,193.1 L285.0,195.9 L285.3,196.9 L285.6,209.3 L285.9,191.2 L286.2,210.0 L286.5,209.0 L286.8,209.1 L287.1,210.1 L287.4,208.6 L287.7,209.8 L288.0,209.9 L288.3,210.1 L288.6,209.3 L288.9,209.6 L289.2,209.6 L289.5,209.0 L289.8,209.2 L290.1,209.1 L290.4,209.1 L290.7,208.6 L291.0,209.9 L291.3,209.5 L291.6,209.1 L291.9,209.4 L292.2,209.8 L292.5,209.7 L292.8,210.1 L293.1,193.3 L293.4,191.3 L293.7,209.9 L294.0,208.6 L294.3,209.5 L294.6,210.0 L294.9,209.0 L295.2,188.9 L295.5,190.5 L295.8,190.6 L296.1,192.4 L296.4,191.9 L296.7,192.8 L297.0,189.2 L297.3,209.6 L297.6,191.7 L297.9,194.8 L298.2,192.6 L298.5,190.3 L298.8,194.6 L299.1,193.4 L299.4,209.8 L299.7,191.1 L300.0,209.8 L300.3,190.7 L300.6,189.4 L300.9,191.8 L301.2,189.1 L301.5,191.1 L301.8,190.7 L302.1,189.2 L302.4,189.7 L302.7,209.7 L303.0,196.2 L303.3,192.3 L303.6,207.6 L303.9,193.0 L304.2,209.2 L304.5,209.2 L304.8,209.8 L305.1,208.9 L305.4,210.0 L305.7,209.6 L306.0,195.5 L306.3,196.2 L306.6,195.2 L306.9,209.5 L307.2,197.3 L307.5,209.4 L307.8,198.2 L308.1,199.9 L308.4,208.9 L308.7,190.2 L309.0,194.8 L309.3,194.1 L309.6,208.4 L309.9,209.8 L310.2,197.6 L310.5,209.9 L310.8,190.5 L311.1,209.3 L311.4,203.1 L311.7,200.7 L312.0,201.7 L312.3,209.4 L312.6,190.8 L312.9,209.9 L313.2,189.6 L313.5,192.1 L313.8,190.6 L314.1,192.5 L314.4,189.6 L314.7,189.0 L315.0,209.2 L315.3,193.3 L315.6,190.0 L315.9,190.3 L316.2,190.2 L316.5,189.1 L316.8,189.4 L317.1,190.8 L317.4,189.2 L317.7,209.6 L318.0,190.7 L318.3,210.1 L318.6,210.0 L318.9,210.1 L319.2,189.0 L319.5,191.3 L319.8,193.2 L320.1,209.8 L320.4,209.4 L320.7,209.5 L321.0,210.0 L321.3,189.4 L321.6,210.0 L321.9,191.3 L322.2,191.2 L322.5,192.6 L322.8,209.3 L323.1,190.1 L323.4,191.5 L323.7,189.2 L324.0,191.0 L324.3,190.1 L324.6,190.5 L324.9,189.7 L325.2,208.1 L325.5,191.2 L325.8,190.9 L326.1,189.5 L326.4,210.2 L326.7,210.0 L327.0,190.9 L327.3,190.1 L327.6,193.5 L327.9,209.9 L328.2,190.8 L328.5,188.1 L328.8,191.0 L329.1,189.6 L329.4,209.3 L329.7,197.3 L330.0,196.4 L330.3,195.8 L330.6,194.2 L330.9,196.5 L331.2,194.1 L331.5,194.9 L331.8,193.1 L332.1,209.7 L332.4,210.1 L332.7,190.8 L333.0,209.8 L333.0,219.5 L332.7,220.8 L332.4,221.2 L332.1,221.6 L331.8,220.8 L331.5,220.1 L331.2,220.4 L330.9,220.0 L330.6,220.9 L330.3,219.9 L330.0,219.7 L329.7,220.8 L329.4,220.0 L329.1,221.2 L328.8,222.1 L328.5,219.7 L328.2,220.8 L327.9,221.1 L327.6,220.4 L327.3,219.9 L327.0,220.8 L326.7,221.7 L326.4,220.5 L326.1,221.1 L325.8,221.2 L325.5,219.6 L325.2,221.4 L324.9,221.0 L324.6,219.8 L324.3,221.0 L324.0,220.4 L323.7,220.3 L323.4,220.8 L323.1,220.9 L322.8,221.0 L322.5,220.1 L322.2,220.0 L321.9,219.8 L321.6,220.4 L321.3,221.8 L321.0,220.0 L320.7,220.8 L320.4,220.2 L320.1,221.3 L319.8,220.4 L319.5,221.3 L319.2,221.6 L318.9,220.8 L318.6,220.6 L318.3,221.2 L318.0,219.8 L317.7,222.5 L317.4,220.1 L317.1,220.7 L316.8,222.2 L316.5,221.5 L316.2,219.6 L315.9,221.9 L315.6,220.1 L315.3,220.3 L315.0,221.3 L314.7,219.4 L314.4,219.9 L314.1,220.9 L313.8,220.7 L313.5,220.9 L313.2,222.2 L312.9,220.3 L312.6,220.9 L312.3,219.4 L312.0,220.0 L311.7,220.0 L311.4,220.0 L311.1,220.0 L310.8,220.2 L310.5,220.4 L310.2,219.9 L309.9,221.5 L309.6,221.4 L309.3,219.9 L309.0,220.3 L308.7,221.7 L308.4,219.8 L308.1,219.5 L307.8,221.1 L307.5,221.1 L307.2,219.4 L306.9,219.3 L306.6,221.6 L306.3,220.4 L306.0,219.3 L305.7,219.4 L305.4,221.3 L305.1,220.6 L304.8,220.0 L304.5,219.3 L304.2,220.1 L303.9,220.7 L303.6,220.8 L303.3,220.8 L303.0,220.0 L302.7,221.7 L302.4,219.9 L302.1,220.6 L301.8,219.4 L301.5,220.5 L301.2,219.9 L300.9,220.3 L300.6,220.3 L300.3,220.8 L300.0,220.9 L299.7,221.2 L299.4,220.4 L299.1,221.0 L298.8,220.1 L298.5,220.0 L298.2,219.3 L297.9,219.7 L297.6,221.9 L297.3,220.2 L297.0,221.5 L296.7,220.0 L296.4,220.2 L296.1,221.8 L295.8,220.6 L295.5,222.1 L295.2,220.0 L294.9,220.2 L294.6,219.7 L294.3,220.4 L294.0,221.0 L293.7,220.6 L293.4,223.4 L293.1,219.4 L292.8,220.9 L292.5,219.6 L292.2,220.1 L291.9,220.5 L291.6,220.3 L291.3,219.6 L291.0,220.1 L290.7,220.2 L290.4,219.6 L290.1,219.9 L289.8,220.4 L289.5,220.0 L289.2,219.2 L288.9,219.9 L288.6,219.6 L288.3,220.3 L288.0,221.1 L287.7,221.2 L287.4,221.2 L287.1,220.7 L286.8,220.8 L286.5,221.2 L286.2,220.0 L285.9,219.8 L285.6,221.5 L285.3,219.3 L285.0,220.6 L284.7,219.2 L284.4,221.0 L284.1,219.2 L283.8,219.4 L283.5,220.6 L283.2,222.6 L282.9,222.0 L282.6,221.7 L282.3,219.7 L282.0,220.5 L281.7,220.6 L281.4,219.3 L281.1,221.8 L280.8,219.6 L280.5,219.7 L280.2,221.4 L279.9,219.5 L279.6,220.6 L279.3,219.7 L279.0,221.3 L278.7,219.7 L278.4,219.6 L278.1,220.0 L277.8,219.5 L277.5,219.6 L277.2,222.4 L276.9,220.6 L276.6,220.6 L276.3,219.8 L276.0,220.7 L275.7,221.0 L275.4,221.7 L275.1,219.3 L274.8,220.4 L274.5,220.9 L274.2,220.2 L273.9,220.2 L273.6,219.7 L273.3,219.7 L273.0,220.5 L272.7,220.2 L272.4,219.6 L272.1,219.8 L271.8,219.7 L271.5,219.6 L271.2,221.1 L270.9,219.3 L270.6,219.4 L270.3,219.9 L270.0,220.4 L269.7,220.2 L269.4,220.2 L269.1,223.5 L268.8,220.4 L268.5,220.3 L268.2,219.5 L267.9,220.5 L267.6,219.7 L267.3,220.1 L267.0,219.4 L266.7,221.4 L266.4,219.7 L266.1,219.4 L265.8,219.5 L265.5,219.6 L265.2,221.0 L264.9,219.2 L264.6,219.5 L264.3,221.2 L264.0,220.1 L263.7,223.1 L263.4,221.8 L263.1,219.2 L262.8,220.1 L262.5,219.5 L262.2,220.3 L261.9,219.1 L261.6,220.4 L261.3,219.2 L261.0,219.3 L260.7,219.1 L260.4,220.2 L260.1,219.4 L259.8,219.2 L259.5,220.8 L259.2,219.1 L258.9,221.5 L258.6,219.1 L258.3,219.9 L258.0,220.0 L257.7,220.0 L257.4,221.1 L257.1,220.3 L256.8,221.1 L256.5,219.6 L256.2,220.1 L255.9,219.1 L255.6,219.3 L255.3,220.7 L255.0,221.7 L254.7,220.7 L254.4,219.2 L254.1,219.1 L253.8,220.8 L253.5,219.5 L253.2,220.4 L252.9,220.5 L252.6,221.7 L252.3,220.6 L252.0,219.7 L251.7,220.6 L251.4,219.2 L251.1,219.1 L250.8,219.6 L250.5,221.6 L250.2,220.8 L249.9,219.4 L249.6,220.1 L249.3,220.1 L249.0,220.4 L248.7,221.0 L248.4,219.5 L248.1,222.8 L247.8,220.7 L247.5,219.1 L247.2,219.4 L246.9,221.0 L246.6,219.4 L246.3,219.9 L246.0,221.1 L245.7,219.7 L245.4,220.3 L245.1,220.2 L244.8,219.8 L244.5,219.4 L244.2,220.4 L243.9,219.4 L243.6,219.6 L243.3,221.4 L243.0,220.0 L242.7,220.0 L242.4,219.2 L242.1,221.1 L241.8,219.7 L241.5,221.8 L241.2,219.3 L240.9,220.3 L240.6,221.0 L240.3,221.1 L240.0,220.1 L239.7,222.4 L239.4,219.1 L239.1,219.2 L238.8,223.5 L238.5,219.2 L238.2,220.8 L237.9,219.9 L237.6,219.4 L237.3,220.1 L237.0,219.6 L236.7,221.4 L236.4,223.0 L236.1,221.0 L235.8,219.2 L235.5,221.0 L235.2,221.0 L234.9,220.0 L234.6,222.3 L234.3,220.4 L234.0,220.1 L233.7,219.9 L233.4,220.6 L233.1,220.2 L232.8,219.9 L232.5,219.2 L232.2,219.2 L231.9,219.6 L231.6,220.0 L231.3,219.1 L231.0,220.1 L230.7,219.7 L230.4,219.7 L230.1,221.2 L229.8,220.2 L229.5,219.2 L229.2,220.5 L228.9,219.1 L228.6,219.7 L228.3,219.0 L228.0,219.6 L227.7,219.6 L227.4,220.0 L227.1,221.6 L226.8,221.4 L226.5,221.3 L226.2,219.9 L225.9,222.2 L225.6,219.0 L225.3,219.5 L225.0,222.0 L224.7,220.5 L224.4,219.4 L224.1,219.4 L223.8,219.7 L223.5,219.5 L223.2,220.4 L222.9,219.1 L222.6,219.8 L222.3,219.8 L222.0,219.5 L221.7,221.4 L221.4,220.4 L221.1,220.7 L220.8,220.3 L220.5,219.0 L220.2,220.1 L219.9,220.3 L219.6,219.2 L219.3,220.7 L219.0,219.7 L218.7,220.4 L218.4,219.6 L218.1,219.0 L217.8,221.2 L217.5,220.1 L217.2,219.7 L216.9,220.1 L216.6,219.6 L216.3,220.7 L216.0,219.4 L215.7,219.7 L215.4,219.5 L215.1,219.3 L214.8,219.9 L214.5,222.2 L214.2,220.4 L213.9,220.5 L213.6,220.6 L213.3,219.5 L213.0,219.1 L212.7,221.0 L212.4,220.3 L212.1,220.0 L211.8,220.3 L211.5,219.6 L211.2,219.9 L210.9,219.6 L210.6,220.3 L210.3,220.4 L210.0,219.4 L209.7,219.3 L209.4,219.8 L209.1,220.2 L208.8,219.5 L208.5,219.5 L208.2,219.5 L207.9,219.5 L207.6,219.1 L207.3,220.2 L207.0,219.3 L206.7,219.0 L206.4,219.3 L206.1,220.1 L205.8,220.1 L205.5,220.0 L205.2,220.1 L204.9,220.1 L204.6,219.6 L204.3,219.1 L204.0,219.0 L203.7,219.6 L203.4,219.5 L203.1,220.7 L202.8,219.1 L202.5,219.0 L202.2,222.3 L201.9,219.6 L201.6,220.5 L201.3,219.5 L201.0,218.9 L200.7,219.0 L200.4,220.2 L200.1,220.8 L199.8,219.1 L199.5,220.1 L199.2,220.3 L198.9,219.3 L198.6,219.7 L198.3,221.4 L198.0,219.1 L197.7,222.2 L197.4,219.4 L197.1,219.2 L196.8,221.1 L196.5,220.3 L196.2,221.0 L195.9,219.4 L195.6,220.4 L195.3,221.8 L195.0,220.4 L194.7,219.2 L194.4,220.4 L194.1,219.5 L193.8,219.1 L193.5,219.3 L193.2,221.0 L192.9,221.2 L192.6,219.4 L192.3,219.4 L192.0,220.3 L191.7,221.4 L191.4,222.2 L191.1,221.3 L190.8,219.7 L190.5,220.2 L190.2,219.5 L189.9,219.3 L189.6,219.4 L189.3,221.6 L189.0,219.3 L188.7,221.6 L188.4,221.6 L188.1,219.4 L187.8,220.1 L187.5,219.4 L187.2,221.3 L186.9,219.6 L186.6,220.5 L186.3,220.7 L186.0,221.1 L185.7,219.6 L185.4,219.3 L185.1,220.8 L184.8,219.4 L184.5,219.3 L184.2,220.9 L183.9,220.2 L183.6,221.1 L183.3,221.2 L183.0,219.6 L182.7,219.0 L182.4,219.4 L182.1,219.1 L181.8,220.2 L181.5,219.0 L181.2,220.2 L180.9,220.1 L180.6,219.4 L180.3,219.3 L180.0,220.2 L179.7,219.4 L179.4,220.0 L179.1,218.9 L178.8,220.3 L178.5,219.5 L178.2,219.7 L177.9,220.0 L177.6,219.5 L177.3,219.4 L177.0,219.5 L176.7,218.9 L176.4,219.3 L176.1,219.8 L175.8,219.3 L175.5,219.5 L175.2,220.8 L174.9,221.1 L174.6,220.0 L174.3,219.7 L174.0,219.4 L173.7,219.7 L173.4,219.7 L173.1,220.3 L172.8,219.1 L172.5,220.0 L172.2,218.9 L171.9,219.5 L171.6,219.1 L171.3,220.2 L171.0,219.0 L170.7,219.8 L170.4,220.5 L170.1,219.7 L169.8,219.8 L169.5,219.5 L169.2,219.1 L168.9,219.9 L168.6,220.9 L168.3,218.8 L168.0,219.7 L167.7,219.8 L167.4,219.3 L167.1,219.4 L166.8,219.0 L166.5,220.3 L166.2,220.0 L165.9,219.3 L165.6,219.7 L165.3,219.2 L165.0,219.3 L164.7,221.2 L164.4,219.4 L164.1,220.9 L163.8,219.6 L163.5,219.5 L163.2,220.1 L162.9,219.6 L162.6,220.0 L162.3,219.9 L162.0,219.2 L161.7,219.2 L161.4,219.7 L161.1,219.7 L160.8,222.9 L160.5,221.5 L160.2,219.5 L159.9,222.0 L159.6,220.3 L159.3,220.0 L159.0,219.1 L158.7,220.3 L158.4,219.7 L158.1,220.7 L157.8,220.5 L157.5,219.5 L157.2,219.1 L156.9,218.8 L156.6,219.9 L156.3,219.0 L156.0,219.2 L155.7,218.9 L155.4,218.9 L155.1,219.8 L154.8,219.0 L154.5,219.2 L154.2,219.3 L153.9,219.2 L153.6,219.8 L153.3,219.9 L153.0,219.1 L152.7,219.2 L152.4,219.4 L152.1,222.0 L151.8,219.1 L151.5,219.7 L151.2,220.7 L150.9,219.5 L150.6,220.8 L150.3,220.7 L150.0,221.8 L149.7,218.9 L149.4,221.3 L149.1,220.5 L148.8,220.2 L148.5,219.5 L148.2,221.0 L147.9,220.2 L147.6,221.7 L147.3,219.3 L147.0,219.2 L146.7,220.4 L146.4,218.7 L146.1,219.1 L145.8,222.4 L145.5,218.9 L145.2,220.3 L144.9,218.7 L144.6,219.1 L144.3,219.9 L144.0,220.9 L143.7,219.0 L143.4,219.9 L143.1,222.2 L142.8,222.1 L142.5,220.1 L142.2,218.8 L141.9,218.9 L141.6,220.6 L141.3,219.4 L141.0,222.3 L140.7,219.2 L140.4,219.7 L140.1,221.0 L139.8,222.0 L139.5,218.8 L139.2,219.1 L138.9,222.1 L138.6,221.4Z" fill="#000"/>
<line x1="139.8" y1="227.2" x2="171.4" y2="227.2" stroke="#000" stroke-width="2" />
<text x="143.2" y="239.8" font-size="12" fill="#000" text-anchor="start" >10 s</text>
<line x1="140.7" y1="263.5" x2="212.8" y2="223.6" stroke="#111" stroke-width="0.85" stroke-dasharray="1.5,0.6"/>
<line x1="235.8" y1="223.6" x2="326.8" y2="264.4" stroke="#111" stroke-width="0.85" stroke-dasharray="1.5,0.6"/>
<text x="200.7" y="250.9" font-size="12" fill="#000" text-anchor="start" ><tspan font-style="italic">P</tspan><tspan font-size="11" dy="2.8" dx="0.3">o</tspan><tspan dy="-2.8" dx="1.4">=0.097</tspan></text>
<line x1="330.5" y1="224.2" x2="330.5" y2="269.5" stroke="#000" stroke-width="2" />
<text transform="translate(343.8,261.5) rotate(-90)" font-size="12">4 pA</text>
<path d="M138.0,295.7 L138.3,293.6 L138.6,295.5 L138.9,297.2 L139.2,294.9 L139.5,296.0 L139.8,297.2 L140.1,295.1 L140.4,297.0 L140.7,294.3 L141.0,298.4 L141.3,296.4 L141.6,297.0 L141.9,294.6 L142.2,293.8 L142.5,293.7 L142.8,295.9 L143.1,294.8 L143.4,293.6 L143.7,293.8 L144.0,295.0 L144.3,294.2 L144.6,295.9 L144.9,295.5 L145.2,294.3 L145.5,295.9 L145.8,297.0 L146.1,294.5 L146.4,293.9 L146.7,293.8 L147.0,294.6 L147.3,297.2 L147.6,294.1 L147.9,295.0 L148.2,295.7 L148.5,294.7 L148.8,294.1 L149.1,295.9 L149.4,294.3 L149.7,295.9 L150.0,294.5 L150.3,297.2 L150.6,294.9 L150.9,296.7 L151.2,295.6 L151.5,293.8 L151.8,296.2 L152.1,293.9 L152.4,294.6 L152.7,295.3 L153.0,294.7 L153.3,293.8 L153.6,295.0 L153.9,295.1 L154.2,294.1 L154.5,297.8 L154.8,296.5 L155.1,296.0 L155.4,294.6 L155.7,294.1 L156.0,294.4 L156.3,296.2 L156.6,297.3 L156.9,294.9 L157.2,297.1 L157.5,294.4 L157.8,300.1 L158.1,296.8 L158.4,296.9 L158.7,295.9 L159.0,294.2 L159.3,294.4 L159.6,294.2 L159.9,294.7 L160.2,294.4 L160.5,294.8 L160.8,294.3 L161.1,294.3 L161.4,296.5 L161.7,296.4 L162.0,295.0 L162.3,294.3 L162.6,294.3 L162.9,293.7 L163.2,294.3 L163.5,295.3 L163.8,295.6 L164.1,294.5 L164.4,294.2 L164.7,296.5 L165.0,293.9 L165.3,294.6 L165.6,298.9 L165.9,294.4 L166.2,294.2 L166.5,295.9 L166.8,295.6 L167.1,294.4 L167.4,294.2 L167.7,297.0 L168.0,296.1 L168.3,295.2 L168.6,296.0 L168.9,295.2 L169.2,294.1 L169.5,294.8 L169.8,296.3 L170.1,294.9 L170.4,295.3 L170.7,294.7 L171.0,297.7 L171.3,295.2 L171.6,298.2 L171.9,296.5 L172.2,294.1 L172.5,293.7 L172.8,295.8 L173.1,293.7 L173.4,294.4 L173.7,296.7 L174.0,294.4 L174.3,293.7 L174.6,294.6 L174.9,293.8 L175.2,295.1 L175.5,293.7 L175.8,294.8 L176.1,294.6 L176.4,295.7 L176.7,295.1 L177.0,295.3 L177.3,295.2 L177.6,297.0 L177.9,293.6 L178.2,294.9 L178.5,296.7 L178.8,294.5 L179.1,293.8 L179.4,295.8 L179.7,293.9 L180.0,293.6 L180.3,295.0 L180.6,296.5 L180.9,293.8 L181.2,294.8 L181.5,294.1 L181.8,295.8 L182.1,296.0 L182.4,295.1 L182.7,297.3 L183.0,294.2 L183.3,293.9 L183.6,293.6 L183.9,293.9 L184.2,299.0 L184.5,295.1 L184.8,296.4 L185.1,293.6 L185.4,296.1 L185.7,295.6 L186.0,299.3 L186.3,294.6 L186.6,293.7 L186.9,293.8 L187.2,295.0 L187.5,295.2 L187.8,294.8 L188.1,293.9 L188.4,295.0 L188.7,294.6 L189.0,294.1 L189.3,293.8 L189.6,294.1 L189.9,294.1 L190.2,299.5 L190.5,295.7 L190.8,295.7 L191.1,295.7 L191.4,293.9 L191.7,295.6 L192.0,296.8 L192.3,294.7 L192.6,294.5 L192.9,294.1 L193.2,298.2 L193.5,295.3 L193.8,296.2 L194.1,293.7 L194.4,295.5 L194.7,296.5 L195.0,293.7 L195.3,293.7 L195.6,296.5 L195.9,294.5 L196.2,293.7 L196.5,296.9 L196.8,295.5 L197.1,294.2 L197.4,294.9 L197.7,295.3 L198.0,295.7 L198.3,296.8 L198.6,294.2 L198.9,293.6 L199.2,297.4 L199.5,294.5 L199.8,295.2 L200.1,293.8 L200.4,294.1 L200.7,295.4 L201.0,293.7 L201.3,293.6 L201.6,293.7 L201.9,294.9 L202.2,294.9 L202.5,297.5 L202.8,293.9 L203.1,295.0 L203.4,296.8 L203.7,294.1 L204.0,295.2 L204.3,296.4 L204.6,295.0 L204.9,294.0 L205.2,295.7 L205.5,296.6 L205.8,293.9 L206.1,296.6 L206.4,296.9 L206.7,295.9 L207.0,294.3 L207.3,294.1 L207.6,293.7 L207.9,293.9 L208.2,293.9 L208.5,296.8 L208.8,296.4 L209.1,294.5 L209.4,296.3 L209.7,294.2 L210.0,293.7 L210.3,295.7 L210.6,293.9 L210.9,296.1 L211.2,295.1 L211.5,294.0 L211.8,294.3 L212.1,296.6 L212.4,295.0 L212.7,298.2 L213.0,295.8 L213.3,294.3 L213.6,294.6 L213.9,293.8 L214.2,296.1 L214.5,293.9 L214.8,299.2 L215.1,296.8 L215.4,294.2 L215.7,294.8 L216.0,296.9 L216.3,295.5 L216.6,296.3 L216.9,295.6 L217.2,296.3 L217.5,294.9 L217.8,295.9 L218.1,294.1 L218.4,294.4 L218.7,295.1 L219.0,294.9 L219.3,295.3 L219.6,294.0 L219.9,293.7 L220.2,296.3 L220.5,294.1 L220.8,294.4 L221.1,298.3 L221.4,295.0 L221.7,294.1 L222.0,296.3 L222.3,294.6 L222.6,295.5 L222.9,294.5 L223.2,294.2 L223.5,293.8 L223.8,294.7 L224.1,294.0 L224.4,294.4 L224.7,295.9 L225.0,294.6 L225.3,294.1 L225.6,295.2 L225.9,293.7 L226.2,300.1 L226.5,295.0 L226.8,296.6 L227.1,294.0 L227.4,294.5 L227.7,296.8 L228.0,295.4 L228.3,294.4 L228.6,298.5 L228.9,294.4 L229.2,293.9 L229.5,297.3 L229.8,294.6 L230.1,297.3 L230.4,295.3 L230.7,295.0 L231.0,297.7 L231.3,296.0 L231.6,295.9 L231.9,294.0 L232.2,293.8 L232.5,297.3 L232.8,293.6 L233.1,298.3 L233.4,294.3 L233.7,293.7 L234.0,295.6 L234.3,296.3 L234.6,297.8 L234.9,294.4 L235.2,295.3 L235.5,294.5 L235.8,294.5 L236.1,295.2 L236.4,294.8 L236.7,296.5 L237.0,296.6 L237.3,293.7 L237.6,294.4 L237.9,294.6 L238.2,297.1 L238.5,294.9 L238.8,295.1 L239.1,294.1 L239.4,294.1 L239.7,294.9 L240.0,295.4 L240.3,294.1 L240.6,294.1 L240.9,296.4 L241.2,294.0 L241.5,296.3 L241.8,293.9 L242.1,297.1 L242.4,297.5 L242.7,293.6 L243.0,293.6 L243.3,295.4 L243.6,293.7 L243.9,293.8 L244.2,294.9 L244.5,294.9 L244.8,293.9 L245.1,294.2 L245.4,295.1 L245.7,294.2 L246.0,294.6 L246.3,296.7 L246.6,295.0 L246.9,297.8 L247.2,294.2 L247.5,299.3 L247.8,293.7 L248.1,296.6 L248.4,295.8 L248.7,294.5 L249.0,293.7 L249.3,295.4 L249.6,298.0 L249.9,294.5 L250.2,293.7 L250.5,295.0 L250.8,297.6 L251.1,296.8 L251.4,294.3 L251.7,295.0 L252.0,294.3 L252.3,296.6 L252.6,293.9 L252.9,293.7 L253.2,293.9 L253.5,296.7 L253.8,294.2 L254.1,293.9 L254.4,297.7 L254.7,294.3 L255.0,293.8 L255.3,295.5 L255.6,294.2 L255.9,294.3 L256.2,297.4 L256.5,293.8 L256.8,295.0 L257.1,296.6 L257.4,293.8 L257.7,294.8 L258.0,297.0 L258.3,295.0 L258.6,298.3 L258.9,294.7 L259.2,295.3 L259.5,296.6 L259.8,295.6 L260.1,294.2 L260.4,294.8 L260.7,294.9 L261.0,294.0 L261.3,294.6 L261.6,293.8 L261.9,295.7 L262.2,293.9 L262.5,294.7 L262.8,295.3 L263.1,296.0 L263.4,294.7 L263.7,297.9 L264.0,293.9 L264.3,293.9 L264.6,293.8 L264.9,294.7 L265.2,295.1 L265.5,293.7 L265.8,295.3 L266.1,295.1 L266.4,298.4 L266.7,295.2 L267.0,295.3 L267.3,295.8 L267.6,293.9 L267.9,294.4 L268.2,294.5 L268.5,294.2 L268.8,295.5 L269.1,294.6 L269.4,295.3 L269.7,296.2 L270.0,294.7 L270.3,294.3 L270.6,294.3 L270.9,294.2 L271.2,295.1 L271.5,296.3 L271.8,295.5 L272.1,294.3 L272.4,296.3 L272.7,298.4 L273.0,294.9 L273.3,293.6 L273.6,294.1 L273.9,295.2 L274.2,295.4 L274.5,295.0 L274.8,295.2 L275.1,300.3 L275.4,293.9 L275.7,294.5 L276.0,296.6 L276.3,295.0 L276.6,293.9 L276.9,294.3 L277.2,293.7 L277.5,295.1 L277.8,296.5 L278.1,294.1 L278.4,295.4 L278.7,295.4 L279.0,294.7 L279.3,295.8 L279.6,295.0 L279.9,296.5 L280.2,296.5 L280.5,296.5 L280.8,294.2 L281.1,295.3 L281.4,294.0 L281.7,294.0 L282.0,296.5 L282.3,295.9 L282.6,296.5 L282.9,294.5 L283.2,293.8 L283.5,294.3 L283.8,295.1 L284.1,295.1 L284.4,295.4 L284.7,296.7 L285.0,298.6 L285.3,295.5 L285.6,294.2 L285.9,294.5 L286.2,294.4 L286.5,295.0 L286.8,298.5 L287.1,294.8 L287.4,294.1 L287.7,294.0 L288.0,296.8 L288.3,294.6 L288.6,293.8 L288.9,294.9 L289.2,294.5 L289.5,295.3 L289.8,296.9 L290.1,295.8 L290.4,295.7 L290.7,294.0 L291.0,296.0 L291.3,296.0 L291.6,298.2 L291.9,296.9 L292.2,295.6 L292.5,297.7 L292.8,294.0 L293.1,296.5 L293.4,298.4 L293.7,297.6 L294.0,296.0 L294.3,295.2 L294.6,293.6 L294.9,294.3 L295.2,294.7 L295.5,294.6 L295.8,295.7 L296.1,293.8 L296.4,295.6 L296.7,293.9 L297.0,296.5 L297.3,294.2 L297.6,295.9 L297.9,295.3 L298.2,295.2 L298.5,294.1 L298.8,295.2 L299.1,296.5 L299.4,294.4 L299.7,297.9 L300.0,295.1 L300.3,294.7 L300.6,298.1 L300.9,295.4 L301.2,293.8 L301.5,294.4 L301.8,295.5 L302.1,295.5 L302.4,294.9 L302.7,296.6 L303.0,297.6 L303.3,294.8 L303.6,293.9 L303.9,294.9 L304.2,294.2 L304.5,295.0 L304.8,295.8 L305.1,295.2 L305.4,294.6 L305.7,295.5 L306.0,296.6 L306.3,296.1 L306.6,296.4 L306.9,296.1 L307.2,295.0 L307.5,295.9 L307.8,293.8 L308.1,294.6 L308.4,294.2 L308.7,297.2 L309.0,294.3 L309.3,295.3 L309.6,296.8 L309.9,294.7 L310.2,294.4 L310.5,295.4 L310.8,298.0 L311.1,295.1 L311.4,295.7 L311.7,295.9 L312.0,294.3 L312.3,294.3 L312.6,295.2 L312.9,294.5 L313.2,295.9 L313.5,294.3 L313.8,295.8 L314.1,295.8 L314.4,294.3 L314.7,296.4 L315.0,294.2 L315.3,295.8 L315.6,297.5 L315.9,294.7 L316.2,294.4 L316.5,296.4 L316.8,294.9 L317.1,294.4 L317.4,296.1 L317.7,295.7 L318.0,295.2 L318.3,294.3 L318.6,296.6 L318.9,293.7 L319.2,294.1 L319.5,293.7 L319.8,294.1 L320.1,294.1 L320.4,294.0 L320.7,297.4 L321.0,293.9 L321.3,297.5 L321.6,295.8 L321.9,294.1 L322.2,294.7 L322.5,293.6 L322.8,293.7 L323.1,298.0 L323.4,294.5 L323.7,295.1 L324.0,295.6 L324.3,294.5 L324.6,293.9 L324.9,295.2 L325.2,295.3 L325.5,295.0 L325.8,295.8 L326.1,294.4 L326.4,293.7 L326.7,295.5 L327.0,294.0 L327.3,295.5 L327.6,294.3 L327.6,295.8 L327.3,299.7 L327.0,296.2 L326.7,297.9 L326.4,295.6 L326.1,295.4 L325.8,297.0 L325.5,296.9 L325.2,298.4 L324.9,296.4 L324.6,295.7 L324.3,295.9 L324.0,297.5 L323.7,296.3 L323.4,296.2 L323.1,299.5 L322.8,295.1 L322.5,294.8 L322.2,298.0 L321.9,295.9 L321.6,298.6 L321.3,299.2 L321.0,296.5 L320.7,299.5 L320.4,297.4 L320.1,296.8 L319.8,295.5 L319.5,296.6 L319.2,296.1 L318.9,298.1 L318.6,299.4 L318.3,296.0 L318.0,296.4 L317.7,297.1 L317.4,298.9 L317.1,296.3 L316.8,296.1 L316.5,298.6 L316.2,296.2 L315.9,297.6 L315.6,299.4 L315.3,296.9 L315.0,297.0 L314.7,298.4 L314.4,296.4 L314.1,297.3 L313.8,298.7 L313.5,296.8 L313.2,297.4 L312.9,296.1 L312.6,296.7 L312.3,296.0 L312.0,295.9 L311.7,298.4 L311.4,297.5 L311.1,296.8 L310.8,299.7 L310.5,298.0 L310.2,295.6 L309.9,296.0 L309.6,300.6 L309.3,297.0 L309.0,296.9 L308.7,298.5 L308.4,295.8 L308.1,297.4 L307.8,294.9 L307.5,297.8 L307.2,297.2 L306.9,297.5 L306.6,299.9 L306.3,299.2 L306.0,297.9 L305.7,297.0 L305.4,296.7 L305.1,297.7 L304.8,298.8 L304.5,298.3 L304.2,296.1 L303.9,295.9 L303.6,295.0 L303.3,297.4 L303.0,300.0 L302.7,299.2 L302.4,298.0 L302.1,297.1 L301.8,297.2 L301.5,296.6 L301.2,295.0 L300.9,298.5 L300.6,300.7 L300.3,295.9 L300.0,296.6 L299.7,299.8 L299.4,295.7 L299.1,297.6 L298.8,297.3 L298.5,296.2 L298.2,296.7 L297.9,296.6 L297.6,299.8 L297.3,295.4 L297.0,298.4 L296.7,295.2 L296.4,299.1 L296.1,296.4 L295.8,297.1 L295.5,296.6 L295.2,296.0 L294.9,295.6 L294.6,295.1 L294.3,296.9 L294.0,297.6 L293.7,299.2 L293.4,302.7 L293.1,298.8 L292.8,295.2 L292.5,299.5 L292.2,297.4 L291.9,299.6 L291.6,301.9 L291.3,298.3 L291.0,298.6 L290.7,295.5 L290.4,298.4 L290.1,298.3 L289.8,298.1 L289.5,297.4 L289.2,297.3 L288.9,296.5 L288.6,296.7 L288.3,296.5 L288.0,298.2 L287.7,295.9 L287.4,297.8 L287.1,296.0 L286.8,301.3 L286.5,300.6 L286.2,295.7 L285.9,298.5 L285.6,296.5 L285.3,296.7 L285.0,300.1 L284.7,298.3 L284.4,296.9 L284.1,297.0 L283.8,299.6 L283.5,297.1 L283.2,295.4 L282.9,295.7 L282.6,298.2 L282.3,297.7 L282.0,298.0 L281.7,297.1 L281.4,295.3 L281.1,298.1 L280.8,297.3 L280.5,297.6 L280.2,298.8 L279.9,298.1 L279.6,299.2 L279.3,297.2 L279.0,297.2 L278.7,297.5 L278.4,298.5 L278.1,295.4 L277.8,301.1 L277.5,299.0 L277.2,295.8 L276.9,295.4 L276.6,295.0 L276.3,296.8 L276.0,298.3 L275.7,297.2 L275.4,295.8 L275.1,301.5 L274.8,296.4 L274.5,296.4 L274.2,297.9 L273.9,296.4 L273.6,295.3 L273.3,295.6 L273.0,298.6 L272.7,301.0 L272.4,298.7 L272.1,297.3 L271.8,297.8 L271.5,298.3 L271.2,298.4 L270.9,295.3 L270.6,296.0 L270.3,295.6 L270.0,296.7 L269.7,298.4 L269.4,298.7 L269.1,296.5 L268.8,297.2 L268.5,295.4 L268.2,295.5 L267.9,296.5 L267.6,295.3 L267.3,296.9 L267.0,297.3 L266.7,299.2 L266.4,300.1 L266.1,298.2 L265.8,296.3 L265.5,295.2 L265.2,299.0 L264.9,296.5 L264.6,295.7 L264.3,296.0 L264.0,295.8 L263.7,301.8 L263.4,295.7 L263.1,298.2 L262.8,296.5 L262.5,296.5 L262.2,298.8 L261.9,297.0 L261.6,298.4 L261.3,296.1 L261.0,295.9 L260.7,297.0 L260.4,297.4 L260.1,297.0 L259.8,299.6 L259.5,299.6 L259.2,296.4 L258.9,296.6 L258.6,300.7 L258.3,297.8 L258.0,300.2 L257.7,297.1 L257.4,296.0 L257.1,300.8 L256.8,296.4 L256.5,295.0 L256.2,299.3 L255.9,296.8 L255.6,295.8 L255.3,298.1 L255.0,297.2 L254.7,296.1 L254.4,299.0 L254.1,297.5 L253.8,296.5 L253.5,298.2 L253.2,295.4 L252.9,296.7 L252.6,296.5 L252.3,299.4 L252.0,296.9 L251.7,297.7 L251.4,297.7 L251.1,298.9 L250.8,300.6 L250.5,297.5 L250.2,295.0 L249.9,295.8 L249.6,300.3 L249.3,297.8 L249.0,295.2 L248.7,296.0 L248.4,297.3 L248.1,297.8 L247.8,295.0 L247.5,302.7 L247.2,295.6 L246.9,301.2 L246.6,296.1 L246.3,298.0 L246.0,297.0 L245.7,297.4 L245.4,296.8 L245.1,297.9 L244.8,295.9 L244.5,296.0 L244.2,297.5 L243.9,296.2 L243.6,297.8 L243.3,298.1 L243.0,295.2 L242.7,294.6 L242.4,300.4 L242.1,298.9 L241.8,296.7 L241.5,298.8 L241.2,296.8 L240.9,298.3 L240.6,295.5 L240.3,296.4 L240.0,296.7 L239.7,296.5 L239.4,295.8 L239.1,295.6 L238.8,299.5 L238.5,296.3 L238.2,299.0 L237.9,296.8 L237.6,296.2 L237.3,294.9 L237.0,298.5 L236.7,299.4 L236.4,297.5 L236.1,296.3 L235.8,296.0 L235.5,297.1 L235.2,297.5 L234.9,296.0 L234.6,299.1 L234.3,298.7 L234.0,298.2 L233.7,295.4 L233.4,296.0 L233.1,301.1 L232.8,295.2 L232.5,298.7 L232.2,297.0 L231.9,296.1 L231.6,299.9 L231.3,298.6 L231.0,299.3 L230.7,298.2 L230.4,297.0 L230.1,299.4 L229.8,296.6 L229.5,299.4 L229.2,296.0 L228.9,295.9 L228.6,299.7 L228.3,296.0 L228.0,297.1 L227.7,300.3 L227.4,295.7 L227.1,296.2 L226.8,297.6 L226.5,296.0 L226.2,301.6 L225.9,295.5 L225.6,296.3 L225.3,297.7 L225.0,296.9 L224.7,298.1 L224.4,298.2 L224.1,297.8 L223.8,297.7 L223.5,294.8 L223.2,295.2 L222.9,295.7 L222.6,297.4 L222.3,296.1 L222.0,299.2 L221.7,296.3 L221.4,298.5 L221.1,299.8 L220.8,297.5 L220.5,296.7 L220.2,298.5 L219.9,295.7 L219.6,297.7 L219.3,296.9 L219.0,296.2 L218.7,297.2 L218.4,296.1 L218.1,296.8 L217.8,298.6 L217.5,295.9 L217.2,297.6 L216.9,296.6 L216.6,297.5 L216.3,296.9 L216.0,299.1 L215.7,296.7 L215.4,298.0 L215.1,299.5 L214.8,300.6 L214.5,297.0 L214.2,297.2 L213.9,295.7 L213.6,296.4 L213.3,295.7 L213.0,298.9 L212.7,300.5 L212.4,296.3 L212.1,297.9 L211.8,295.3 L211.5,295.7 L211.2,298.6 L210.9,299.1 L210.6,295.9 L210.3,298.2 L210.0,295.1 L209.7,298.5 L209.4,298.5 L209.1,297.8 L208.8,299.7 L208.5,298.9 L208.2,296.1 L207.9,296.4 L207.6,295.1 L207.3,295.8 L207.0,296.8 L206.7,299.0 L206.4,298.2 L206.1,298.4 L205.8,295.1 L205.5,298.7 L205.2,300.1 L204.9,295.2 L204.6,297.2 L204.3,298.0 L204.0,296.4 L203.7,295.2 L203.4,298.0 L203.1,296.1 L202.8,295.3 L202.5,298.6 L202.2,297.3 L201.9,296.3 L201.6,297.1 L201.3,295.1 L201.0,296.5 L200.7,297.9 L200.4,297.5 L200.1,296.4 L199.8,299.0 L199.5,297.0 L199.2,299.7 L198.9,295.8 L198.6,295.2 L198.3,300.5 L198.0,298.7 L197.7,299.1 L197.4,298.8 L197.1,296.1 L196.8,296.8 L196.5,298.5 L196.2,295.5 L195.9,297.4 L195.6,297.8 L195.3,295.0 L195.0,294.9 L194.7,298.1 L194.4,297.6 L194.1,295.2 L193.8,297.5 L193.5,296.8 L193.2,299.3 L192.9,296.6 L192.6,295.7 L192.3,297.9 L192.0,300.3 L191.7,296.6 L191.4,297.0 L191.1,297.1 L190.8,296.8 L190.5,300.0 L190.2,302.7 L189.9,296.0 L189.6,295.3 L189.3,296.7 L189.0,295.2 L188.7,297.5 L188.4,296.8 L188.1,295.2 L187.8,299.8 L187.5,298.0 L187.2,298.6 L186.9,295.0 L186.6,297.8 L186.3,296.9 L186.0,301.6 L185.7,298.5 L185.4,299.0 L185.1,294.8 L184.8,299.8 L184.5,297.7 L184.2,301.4 L183.9,295.2 L183.6,296.9 L183.3,295.9 L183.0,295.3 L182.7,299.3 L182.4,296.2 L182.1,297.0 L181.8,298.8 L181.5,295.6 L181.2,298.1 L180.9,295.8 L180.6,297.5 L180.3,296.1 L180.0,295.2 L179.7,298.1 L179.4,297.6 L179.1,296.1 L178.8,297.5 L178.5,298.4 L178.2,297.3 L177.9,296.5 L177.6,299.8 L177.3,296.4 L177.0,296.8 L176.7,297.5 L176.4,297.1 L176.1,296.2 L175.8,296.2 L175.5,295.1 L175.2,296.2 L174.9,295.6 L174.6,297.0 L174.3,296.0 L174.0,296.6 L173.7,298.3 L173.4,296.4 L173.1,295.8 L172.8,297.5 L172.5,295.3 L172.2,295.1 L171.9,300.1 L171.6,300.2 L171.3,299.3 L171.0,298.8 L170.7,296.1 L170.4,297.2 L170.1,299.2 L169.8,297.4 L169.5,297.1 L169.2,295.8 L168.9,298.6 L168.6,298.0 L168.3,298.8 L168.0,297.7 L167.7,300.2 L167.4,297.3 L167.1,295.8 L166.8,299.3 L166.5,297.1 L166.2,296.1 L165.9,295.5 L165.6,303.4 L165.3,297.2 L165.0,295.3 L164.7,298.7 L164.4,296.4 L164.1,295.8 L163.8,297.2 L163.5,296.4 L163.2,295.9 L162.9,297.5 L162.6,297.1 L162.3,297.8 L162.0,296.9 L161.7,299.2 L161.4,298.2 L161.1,296.6 L160.8,296.1 L160.5,296.8 L160.2,296.1 L159.9,297.0 L159.6,295.9 L159.3,296.0 L159.0,297.1 L158.7,300.7 L158.4,299.8 L158.1,298.6 L157.8,301.3 L157.5,296.0 L157.2,299.3 L156.9,299.5 L156.6,300.8 L156.3,297.4 L156.0,298.3 L155.7,295.2 L155.4,295.8 L155.1,297.6 L154.8,298.5 L154.5,300.0 L154.2,295.8 L153.9,298.2 L153.6,296.6 L153.3,296.4 L153.0,297.0 L152.7,297.4 L152.4,296.0 L152.1,296.2 L151.8,297.6 L151.5,297.4 L151.2,296.8 L150.9,299.0 L150.6,297.7 L150.3,299.1 L150.0,297.1 L149.7,297.3 L149.4,296.0 L149.1,298.6 L148.8,296.8 L148.5,297.7 L148.2,298.7 L147.9,297.9 L147.6,296.7 L147.3,299.7 L147.0,297.1 L146.7,294.8 L146.4,295.2 L146.1,296.6 L145.8,298.8 L145.5,297.5 L145.2,295.3 L144.9,296.6 L144.6,297.5 L144.3,296.2 L144.0,296.4 L143.7,295.9 L143.4,294.8 L143.1,296.6 L142.8,298.9 L142.5,295.5 L142.2,295.2 L141.9,298.7 L141.6,298.8 L141.3,299.5 L141.0,301.0 L140.7,297.9 L140.4,298.8 L140.1,298.4 L139.8,300.1 L139.5,299.1 L139.2,296.8 L138.9,299.4 L138.6,297.2 L138.3,294.8 L138.0,296.9Z" fill="#000" fill-opacity="0.35"/>
<path d="M138.0,286.0 L138.3,284.8 L138.6,286.5 L138.9,286.3 L139.2,285.3 L139.5,286.1 L139.8,286.4 L140.1,286.0 L140.4,285.9 L140.7,285.9 L141.0,285.8 L141.3,286.1 L141.6,269.0 L141.9,269.2 L142.2,270.6 L142.5,269.9 L142.8,285.4 L143.1,279.6 L143.4,278.1 L143.7,276.0 L144.0,276.0 L144.3,274.9 L144.6,279.0 L144.9,277.2 L145.2,278.6 L145.5,276.8 L145.8,278.3 L146.1,274.4 L146.4,277.1 L146.7,277.9 L147.0,286.5 L147.3,284.8 L147.6,285.9 L147.9,285.6 L148.2,286.1 L148.5,285.7 L148.8,273.5 L149.1,272.0 L149.4,286.4 L149.7,284.4 L150.0,284.8 L150.3,284.7 L150.6,284.7 L150.9,286.3 L151.2,269.9 L151.5,268.7 L151.8,285.9 L152.1,285.9 L152.4,266.2 L152.7,267.9 L153.0,266.8 L153.3,285.9 L153.6,267.5 L153.9,266.9 L154.2,266.5 L154.5,265.7 L154.8,265.1 L155.1,264.4 L155.4,268.2 L155.7,267.3 L156.0,268.7 L156.3,264.9 L156.6,284.0 L156.9,269.0 L157.2,273.2 L157.5,285.8 L157.8,286.5 L158.1,285.8 L158.4,266.2 L158.7,284.0 L159.0,286.4 L159.3,267.9 L159.6,268.1 L159.9,267.6 L160.2,268.1 L160.5,264.6 L160.8,266.8 L161.1,263.8 L161.4,268.7 L161.7,267.1 L162.0,266.7 L162.3,267.4 L162.6,265.5 L162.9,265.9 L163.2,266.7 L163.5,285.3 L163.8,285.8 L164.1,272.5 L164.4,272.0 L164.7,285.0 L165.0,286.0 L165.3,284.5 L165.6,286.3 L165.9,285.8 L166.2,277.1 L166.5,277.3 L166.8,276.7 L167.1,277.9 L167.4,276.5 L167.7,277.7 L168.0,277.0 L168.3,274.1 L168.6,277.7 L168.9,285.6 L169.2,286.4 L169.5,266.9 L169.8,267.3 L170.1,285.8 L170.4,266.6 L170.7,266.2 L171.0,265.4 L171.3,266.3 L171.6,266.7 L171.9,267.4 L172.2,266.4 L172.5,267.9 L172.8,267.3 L173.1,265.2 L173.4,266.9 L173.7,268.3 L174.0,269.0 L174.3,286.1 L174.6,286.3 L174.9,285.8 L175.2,285.0 L175.5,285.5 L175.8,286.3 L176.1,286.3 L176.4,285.7 L176.7,285.2 L177.0,284.9 L177.3,285.3 L177.6,285.0 L177.9,285.7 L178.2,285.8 L178.5,284.8 L178.8,285.7 L179.1,286.0 L179.4,285.8 L179.7,285.6 L180.0,286.4 L180.3,285.5 L180.6,285.2 L180.9,285.5 L181.2,285.4 L181.5,286.1 L181.8,285.6 L182.1,285.8 L182.4,286.2 L182.7,284.7 L183.0,286.0 L183.3,286.5 L183.6,286.2 L183.9,272.6 L184.2,272.8 L184.5,285.9 L184.8,286.5 L185.1,265.9 L185.4,266.8 L185.7,284.6 L186.0,265.2 L186.3,285.4 L186.6,271.1 L186.9,275.2 L187.2,273.6 L187.5,271.2 L187.8,272.1 L188.1,274.9 L188.4,273.2 L188.7,275.0 L189.0,273.3 L189.3,273.2 L189.6,285.3 L189.9,270.9 L190.2,267.7 L190.5,269.0 L190.8,285.6 L191.1,284.3 L191.4,276.7 L191.7,278.6 L192.0,274.7 L192.3,275.8 L192.6,278.0 L192.9,276.4 L193.2,277.0 L193.5,276.7 L193.8,276.4 L194.1,275.2 L194.4,273.5 L194.7,285.8 L195.0,284.9 L195.3,286.5 L195.6,286.0 L195.9,286.0 L196.2,265.7 L196.5,284.5 L196.8,271.4 L197.1,271.8 L197.4,272.2 L197.7,271.8 L198.0,270.2 L198.3,272.4 L198.6,271.3 L198.9,286.4 L199.2,266.3 L199.5,285.9 L199.8,286.2 L200.1,286.4 L200.4,268.0 L200.7,269.1 L201.0,266.9 L201.3,266.5 L201.6,270.4 L201.9,270.7 L202.2,271.0 L202.5,269.5 L202.8,270.7 L203.1,267.4 L203.4,286.3 L203.7,267.7 L204.0,266.2 L204.3,266.1 L204.6,286.6 L204.9,285.5 L205.2,286.2 L205.5,285.8 L205.8,267.8 L206.1,268.3 L206.4,266.4 L206.7,286.0 L207.0,286.5 L207.3,283.6 L207.6,286.2 L207.9,267.4 L208.2,265.7 L208.5,264.9 L208.8,267.5 L209.1,265.4 L209.4,266.5 L209.7,266.0 L210.0,286.0 L210.3,272.8 L210.6,269.7 L210.9,285.8 L211.2,285.8 L211.5,285.7 L211.8,268.2 L212.1,269.2 L212.4,267.1 L212.7,285.1 L213.0,270.0 L213.3,269.5 L213.6,286.0 L213.9,285.9 L214.2,285.5 L214.5,283.1 L214.8,286.2 L215.1,285.3 L215.4,285.4 L215.7,286.5 L216.0,285.9 L216.3,285.8 L216.6,284.4 L216.9,285.8 L217.2,284.7 L217.5,285.1 L217.8,286.4 L218.1,285.3 L218.4,285.1 L218.7,285.7 L219.0,286.4 L219.3,286.4 L219.6,285.9 L219.9,285.7 L220.2,285.6 L220.5,284.3 L220.8,286.3 L221.1,285.0 L221.4,285.5 L221.7,286.0 L222.0,285.9 L222.3,284.9 L222.6,283.9 L222.9,285.2 L223.2,286.5 L223.5,286.4 L223.8,285.9 L224.1,285.3 L224.4,284.9 L224.7,285.6 L225.0,268.3 L225.3,286.4 L225.6,285.4 L225.9,286.0 L226.2,285.8 L226.5,285.2 L226.8,286.4 L227.1,285.1 L227.4,285.8 L227.7,285.9 L228.0,286.3 L228.3,286.0 L228.6,286.6 L228.9,274.2 L229.2,285.3 L229.5,285.4 L229.8,285.4 L230.1,284.8 L230.4,284.3 L230.7,286.3 L231.0,285.1 L231.3,285.6 L231.6,285.7 L231.9,286.0 L232.2,286.5 L232.5,286.4 L232.8,285.4 L233.1,285.6 L233.4,285.7 L233.7,285.9 L234.0,286.4 L234.3,285.8 L234.6,267.7 L234.9,285.4 L235.2,285.9 L235.5,285.9 L235.8,285.4 L236.1,285.1 L236.4,286.4 L236.7,284.8 L237.0,285.7 L237.3,286.0 L237.6,285.5 L237.9,286.3 L238.2,285.4 L238.5,285.8 L238.8,286.2 L239.1,286.2 L239.4,285.8 L239.7,286.4 L240.0,286.0 L240.3,286.5 L240.6,286.3 L240.9,285.8 L241.2,286.3 L241.5,285.4 L241.8,285.6 L242.1,275.9 L242.4,285.2 L242.7,285.7 L243.0,285.4 L243.3,286.5 L243.6,276.3 L243.9,274.5 L244.2,279.0 L244.5,275.8 L244.8,285.7 L245.1,274.9 L245.4,276.0 L245.7,285.3 L246.0,286.2 L246.3,286.5 L246.6,285.4 L246.9,285.2 L247.2,285.6 L247.5,285.5 L247.8,284.7 L248.1,286.1 L248.4,285.8 L248.7,284.7 L249.0,265.8 L249.3,267.1 L249.6,265.7 L249.9,266.1 L250.2,266.9 L250.5,268.3 L250.8,285.5 L251.1,268.1 L251.4,264.9 L251.7,270.3 L252.0,267.8 L252.3,267.3 L252.6,268.4 L252.9,266.1 L253.2,266.0 L253.5,265.5 L253.8,266.4 L254.1,268.7 L254.4,265.4 L254.7,266.8 L255.0,285.5 L255.3,286.0 L255.6,265.3 L255.9,285.8 L256.2,266.0 L256.5,267.7 L256.8,268.3 L257.1,269.4 L257.4,266.7 L257.7,286.5 L258.0,285.8 L258.3,285.6 L258.6,267.9 L258.9,268.5 L259.2,285.8 L259.5,264.5 L259.8,285.9 L260.1,283.6 L260.4,286.0 L260.7,285.4 L261.0,284.4 L261.3,284.7 L261.6,285.8 L261.9,285.0 L262.2,286.1 L262.5,286.4 L262.8,286.3 L263.1,285.6 L263.4,284.7 L263.7,285.1 L264.0,286.0 L264.3,286.5 L264.6,285.8 L264.9,286.0 L265.2,285.7 L265.5,284.6 L265.8,285.7 L266.1,285.1 L266.4,286.1 L266.7,286.1 L267.0,286.6 L267.3,285.7 L267.6,285.7 L267.9,285.7 L268.2,268.5 L268.5,284.2 L268.8,284.9 L269.1,286.0 L269.4,286.3 L269.7,286.0 L270.0,285.1 L270.3,285.0 L270.6,267.6 L270.9,285.7 L271.2,285.3 L271.5,286.3 L271.8,285.2 L272.1,285.0 L272.4,286.4 L272.7,285.1 L273.0,285.0 L273.3,285.5 L273.6,285.8 L273.9,286.6 L274.2,285.9 L274.5,285.7 L274.8,286.3 L275.1,286.3 L275.4,285.8 L275.7,286.0 L276.0,286.3 L276.3,285.7 L276.6,286.0 L276.9,285.1 L277.2,286.1 L277.5,286.5 L277.8,285.2 L278.1,284.5 L278.4,285.2 L278.7,284.9 L279.0,286.0 L279.3,268.3 L279.6,286.3 L279.9,284.3 L280.2,285.6 L280.5,285.0 L280.8,286.3 L281.1,286.2 L281.4,285.0 L281.7,285.4 L282.0,285.6 L282.3,285.7 L282.6,286.2 L282.9,286.3 L283.2,285.6 L283.5,285.5 L283.8,285.2 L284.1,286.5 L284.4,286.4 L284.7,284.8 L285.0,284.0 L285.3,285.5 L285.6,286.3 L285.9,285.3 L286.2,286.2 L286.5,285.7 L286.8,285.8 L287.1,285.6 L287.4,270.7 L287.7,286.1 L288.0,286.0 L288.3,285.6 L288.6,285.6 L288.9,285.6 L289.2,285.6 L289.5,283.9 L289.8,286.0 L290.1,286.6 L290.4,284.4 L290.7,268.9 L291.0,285.5 L291.3,286.6 L291.6,286.3 L291.9,286.5 L292.2,283.0 L292.5,286.6 L292.8,286.3 L293.1,286.1 L293.4,285.9 L293.7,286.2 L294.0,286.2 L294.3,286.5 L294.6,286.5 L294.9,286.5 L295.2,285.8 L295.5,285.6 L295.8,286.4 L296.1,285.4 L296.4,284.6 L296.7,285.8 L297.0,267.8 L297.3,285.5 L297.6,285.1 L297.9,285.0 L298.2,285.8 L298.5,286.6 L298.8,286.0 L299.1,286.2 L299.4,284.2 L299.7,285.3 L300.0,286.4 L300.3,284.3 L300.6,285.9 L300.9,285.0 L301.2,285.9 L301.5,283.3 L301.8,285.9 L302.1,286.4 L302.4,285.0 L302.7,285.0 L303.0,285.2 L303.3,285.1 L303.6,286.4 L303.9,286.5 L304.2,284.0 L304.5,284.8 L304.8,284.4 L305.1,285.5 L305.4,285.2 L305.7,286.5 L306.0,285.0 L306.3,286.5 L306.6,286.5 L306.9,286.6 L307.2,284.7 L307.5,285.9 L307.8,286.0 L308.1,285.9 L308.4,283.5 L308.7,283.1 L309.0,286.5 L309.3,285.8 L309.6,284.8 L309.9,286.1 L310.2,286.2 L310.5,285.9 L310.8,284.1 L311.1,286.2 L311.4,269.8 L311.7,286.6 L312.0,272.5 L312.3,275.2 L312.6,273.2 L312.9,273.8 L313.2,273.1 L313.5,274.2 L313.8,285.2 L314.1,286.4 L314.4,269.5 L314.7,270.7 L315.0,286.0 L315.3,284.9 L315.6,267.4 L315.9,268.2 L316.2,285.4 L316.5,276.9 L316.8,275.7 L317.1,275.0 L317.4,276.0 L317.7,277.3 L318.0,274.7 L318.3,274.8 L318.6,275.5 L318.9,276.4 L319.2,285.4 L319.5,285.3 L319.8,267.3 L320.1,267.0 L320.4,266.5 L320.7,264.3 L321.0,267.6 L321.3,286.5 L321.6,267.8 L321.9,269.1 L322.2,285.8 L322.5,283.8 L322.8,285.1 L323.1,286.1 L323.4,271.2 L323.7,286.0 L324.0,267.2 L324.3,285.3 L324.6,284.4 L324.9,285.8 L325.2,266.7 L325.5,265.8 L325.8,266.4 L326.1,267.7 L326.4,267.4 L326.7,267.5 L327.0,286.5 L327.3,286.0 L327.6,285.0 L327.6,295.3 L327.3,296.5 L327.0,295.0 L326.7,296.5 L326.4,294.7 L326.1,295.4 L325.8,296.8 L325.5,296.0 L325.2,296.3 L324.9,296.2 L324.6,294.9 L324.3,295.5 L324.0,296.6 L323.7,296.1 L323.4,295.5 L323.1,299.0 L322.8,294.7 L322.5,294.6 L322.2,295.7 L321.9,295.1 L321.6,296.8 L321.3,298.5 L321.0,294.9 L320.7,298.4 L320.4,295.0 L320.1,295.1 L319.8,295.1 L319.5,294.7 L319.2,295.1 L318.9,294.7 L318.6,297.6 L318.3,295.3 L318.0,296.2 L317.7,296.7 L317.4,297.1 L317.1,295.4 L316.8,295.9 L316.5,297.4 L316.2,295.4 L315.9,295.7 L315.6,298.5 L315.3,296.8 L315.0,295.2 L314.7,297.4 L314.4,295.3 L314.1,296.8 L313.8,296.8 L313.5,295.3 L313.2,296.9 L312.9,295.5 L312.6,296.2 L312.3,295.3 L312.0,295.3 L311.7,296.9 L311.4,296.7 L311.1,296.1 L310.8,299.0 L310.5,296.4 L310.2,295.4 L309.9,295.7 L309.6,297.8 L309.3,296.3 L309.0,295.3 L308.7,298.2 L308.4,295.2 L308.1,295.6 L307.8,294.8 L307.5,296.9 L307.2,296.0 L306.9,297.1 L306.6,297.4 L306.3,297.1 L306.0,297.6 L305.7,296.5 L305.4,295.6 L305.1,296.2 L304.8,296.8 L304.5,296.0 L304.2,295.2 L303.9,295.9 L303.6,294.9 L303.3,295.8 L303.0,298.6 L302.7,297.6 L302.4,295.9 L302.1,296.5 L301.8,296.5 L301.5,295.4 L301.2,294.8 L300.9,296.4 L300.6,299.1 L300.3,295.7 L300.0,296.1 L299.7,298.9 L299.4,295.4 L299.1,297.5 L298.8,296.2 L298.5,295.1 L298.2,296.2 L297.9,296.3 L297.6,296.9 L297.3,295.2 L297.0,297.5 L296.7,294.9 L296.4,296.6 L296.1,294.8 L295.8,296.7 L295.5,295.6 L295.2,295.7 L294.9,295.3 L294.6,294.6 L294.3,296.2 L294.0,297.0 L293.7,298.6 L293.4,299.4 L293.1,297.5 L292.8,295.0 L292.5,298.7 L292.2,296.6 L291.9,297.9 L291.6,299.2 L291.3,297.0 L291.0,297.0 L290.7,295.0 L290.4,296.7 L290.1,296.8 L289.8,297.9 L289.5,296.3 L289.2,295.5 L288.9,295.9 L288.6,294.8 L288.3,295.6 L288.0,297.8 L287.7,295.0 L287.4,295.1 L287.1,295.8 L286.8,299.5 L286.5,296.0 L286.2,295.4 L285.9,295.5 L285.6,295.2 L285.3,296.5 L285.0,299.6 L284.7,297.7 L284.4,296.4 L284.1,296.1 L283.8,296.1 L283.5,295.3 L283.2,294.8 L282.9,295.5 L282.6,297.5 L282.3,296.9 L282.0,297.5 L281.7,295.0 L281.4,295.0 L281.1,296.3 L280.8,295.2 L280.5,297.5 L280.2,297.5 L279.9,297.5 L279.6,296.0 L279.3,296.8 L279.0,295.7 L278.7,296.4 L278.4,296.4 L278.1,295.1 L277.8,297.5 L277.5,296.1 L277.2,294.7 L276.9,295.3 L276.6,294.9 L276.3,296.0 L276.0,297.6 L275.7,295.5 L275.4,294.9 L275.1,301.3 L274.8,296.2 L274.5,296.0 L274.2,296.4 L273.9,296.2 L273.6,295.1 L273.3,294.6 L273.0,295.9 L272.7,299.4 L272.4,297.3 L272.1,295.3 L271.8,296.5 L271.5,297.3 L271.2,296.1 L270.9,295.2 L270.6,295.3 L270.3,295.3 L270.0,295.7 L269.7,297.2 L269.4,296.3 L269.1,295.6 L268.8,296.5 L268.5,295.2 L268.2,295.5 L267.9,295.4 L267.6,294.9 L267.3,296.8 L267.0,296.3 L266.7,296.2 L266.4,299.4 L266.1,296.1 L265.8,296.3 L265.5,294.7 L265.2,296.1 L264.9,295.7 L264.6,294.8 L264.3,294.9 L264.0,294.9 L263.7,298.9 L263.4,295.7 L263.1,297.0 L262.8,296.3 L262.5,295.7 L262.2,294.9 L261.9,296.7 L261.6,294.8 L261.3,295.6 L261.0,295.0 L260.7,295.9 L260.4,295.8 L260.1,295.2 L259.8,296.6 L259.5,297.6 L259.2,296.3 L258.9,295.7 L258.6,299.3 L258.3,296.0 L258.0,298.0 L257.7,295.8 L257.4,294.8 L257.1,297.6 L256.8,296.0 L256.5,294.8 L256.2,298.4 L255.9,295.3 L255.6,295.2 L255.3,296.5 L255.0,294.8 L254.7,295.3 L254.4,298.7 L254.1,294.9 L253.8,295.2 L253.5,297.7 L253.2,294.9 L252.9,294.7 L252.6,294.9 L252.3,297.6 L252.0,295.3 L251.7,296.0 L251.4,295.3 L251.1,297.8 L250.8,298.6 L250.5,296.0 L250.2,294.7 L249.9,295.5 L249.6,299.0 L249.3,296.4 L249.0,294.7 L248.7,295.5 L248.4,296.8 L248.1,297.6 L247.8,294.7 L247.5,300.3 L247.2,295.2 L246.9,298.8 L246.6,296.0 L246.3,297.7 L246.0,295.6 L245.7,295.2 L245.4,296.1 L245.1,295.2 L244.8,294.9 L244.5,295.9 L244.2,295.9 L243.9,294.8 L243.6,294.7 L243.3,296.4 L243.0,294.6 L242.7,294.6 L242.4,298.5 L242.1,298.1 L241.8,294.9 L241.5,297.3 L241.2,295.0 L240.9,297.4 L240.6,295.1 L240.3,295.1 L240.0,296.4 L239.7,295.9 L239.4,295.1 L239.1,295.1 L238.8,296.1 L238.5,295.9 L238.2,298.1 L237.9,295.6 L237.6,295.4 L237.3,294.7 L237.0,297.6 L236.7,297.5 L236.4,295.8 L236.1,296.2 L235.8,295.5 L235.5,295.5 L235.2,296.3 L234.9,295.4 L234.6,298.8 L234.3,297.3 L234.0,296.6 L233.7,294.7 L233.4,295.3 L233.1,299.3 L232.8,294.6 L232.5,298.3 L232.2,294.8 L231.9,295.0 L231.6,296.9 L231.3,297.0 L231.0,298.7 L230.7,296.0 L230.4,296.3 L230.1,298.3 L229.8,295.6 L229.5,298.3 L229.2,294.9 L228.9,295.4 L228.6,299.5 L228.3,295.4 L228.0,296.4 L227.7,297.8 L227.4,295.5 L227.1,295.0 L226.8,297.6 L226.5,296.0 L226.2,301.1 L225.9,294.7 L225.6,296.2 L225.3,295.1 L225.0,295.6 L224.7,296.9 L224.4,295.4 L224.1,295.0 L223.8,295.7 L223.5,294.8 L223.2,295.2 L222.9,295.5 L222.6,296.5 L222.3,295.6 L222.0,297.3 L221.7,295.1 L221.4,296.0 L221.1,299.3 L220.8,295.4 L220.5,295.1 L220.2,297.3 L219.9,294.7 L219.6,295.0 L219.3,296.3 L219.0,295.9 L218.7,296.1 L218.4,295.4 L218.1,295.1 L217.8,296.9 L217.5,295.9 L217.2,297.3 L216.9,296.6 L216.6,297.3 L216.3,296.5 L216.0,297.9 L215.7,295.8 L215.4,295.2 L215.1,297.8 L214.8,300.2 L214.5,294.9 L214.2,297.1 L213.9,294.8 L213.6,295.6 L213.3,295.3 L213.0,296.8 L212.7,299.2 L212.4,296.0 L212.1,297.6 L211.8,295.3 L211.5,295.0 L211.2,296.1 L210.9,297.1 L210.6,294.9 L210.3,296.7 L210.0,294.7 L209.7,295.2 L209.4,297.3 L209.1,295.5 L208.8,297.4 L208.5,297.8 L208.2,294.9 L207.9,294.9 L207.6,294.7 L207.3,295.1 L207.0,295.3 L206.7,296.9 L206.4,297.9 L206.1,297.6 L205.8,294.9 L205.5,297.6 L205.2,296.7 L204.9,295.0 L204.6,296.0 L204.3,297.4 L204.0,296.2 L203.7,295.1 L203.4,297.8 L203.1,296.0 L202.8,294.9 L202.5,298.5 L202.2,295.9 L201.9,295.9 L201.6,294.7 L201.3,294.6 L201.0,294.7 L200.7,296.4 L200.4,295.1 L200.1,294.8 L199.8,296.2 L199.5,295.5 L199.2,298.4 L198.9,294.6 L198.6,295.2 L198.3,297.8 L198.0,296.7 L197.7,296.3 L197.4,295.9 L197.1,295.2 L196.8,296.5 L196.5,297.9 L196.2,294.7 L195.9,295.5 L195.6,297.5 L195.3,294.7 L195.0,294.7 L194.7,297.5 L194.4,296.5 L194.1,294.7 L193.8,297.2 L193.5,296.3 L193.2,299.2 L192.9,295.1 L192.6,295.5 L192.3,295.7 L192.0,297.8 L191.7,296.6 L191.4,294.9 L191.1,296.7 L190.8,296.7 L190.5,296.7 L190.2,300.5 L189.9,295.1 L189.6,295.1 L189.3,294.8 L189.0,295.1 L188.7,295.6 L188.4,296.0 L188.1,294.9 L187.8,295.8 L187.5,296.2 L187.2,296.0 L186.9,294.8 L186.6,294.7 L186.3,295.6 L186.0,300.3 L185.7,296.6 L185.4,297.1 L185.1,294.6 L184.8,297.4 L184.5,296.1 L184.2,300.0 L183.9,294.9 L183.6,294.6 L183.3,294.9 L183.0,295.2 L182.7,298.3 L182.4,296.1 L182.1,297.0 L181.8,296.8 L181.5,295.1 L181.2,295.8 L180.9,294.8 L180.6,297.5 L180.3,296.0 L180.0,294.6 L179.7,294.9 L179.4,296.8 L179.1,294.8 L178.8,295.5 L178.5,297.7 L178.2,295.9 L177.9,294.6 L177.6,298.0 L177.3,296.2 L177.0,296.3 L176.7,296.1 L176.4,296.7 L176.1,295.6 L175.8,295.8 L175.5,294.7 L175.2,296.1 L174.9,294.8 L174.6,295.6 L174.3,294.7 L174.0,295.4 L173.7,297.7 L173.4,295.4 L173.1,294.7 L172.8,296.8 L172.5,294.7 L172.2,295.1 L171.9,297.5 L171.6,299.2 L171.3,296.2 L171.0,298.7 L170.7,295.7 L170.4,296.3 L170.1,295.9 L169.8,297.3 L169.5,295.8 L169.2,295.1 L168.9,296.2 L168.6,297.0 L168.3,296.2 L168.0,297.1 L167.7,298.0 L167.4,295.2 L167.1,295.4 L166.8,296.6 L166.5,296.9 L166.2,295.2 L165.9,295.4 L165.6,299.9 L165.3,295.6 L165.0,294.9 L164.7,297.5 L164.4,295.2 L164.1,295.5 L163.8,296.6 L163.5,296.3 L163.2,295.3 L162.9,294.7 L162.6,295.3 L162.3,295.3 L162.0,296.0 L161.7,297.4 L161.4,297.5 L161.1,295.3 L160.8,295.3 L160.5,295.8 L160.2,295.4 L159.9,295.7 L159.6,295.2 L159.3,295.4 L159.0,295.2 L158.7,296.9 L158.4,297.9 L158.1,297.8 L157.8,301.1 L157.5,295.4 L157.2,298.1 L156.9,295.9 L156.6,298.3 L156.3,297.2 L156.0,295.4 L155.7,295.1 L155.4,295.6 L155.1,297.0 L154.8,297.5 L154.5,298.8 L154.2,295.1 L153.9,296.1 L153.6,296.0 L153.3,294.8 L153.0,295.7 L152.7,296.3 L152.4,295.6 L152.1,294.9 L151.8,297.2 L151.5,294.8 L151.2,296.6 L150.9,297.7 L150.6,295.9 L150.3,298.2 L150.0,295.5 L149.7,296.9 L149.4,295.3 L149.1,296.9 L148.8,295.1 L148.5,295.7 L148.2,296.7 L147.9,296.0 L147.6,295.1 L147.3,298.2 L147.0,295.6 L146.7,294.8 L146.4,294.9 L146.1,295.5 L145.8,298.0 L145.5,296.9 L145.2,295.3 L144.9,296.5 L144.6,296.9 L144.3,295.2 L144.0,296.0 L143.7,294.8 L143.4,294.6 L143.1,295.8 L142.8,296.9 L142.5,294.7 L142.2,294.8 L141.9,295.6 L141.6,298.0 L141.3,297.4 L141.0,299.4 L140.7,295.3 L140.4,298.0 L140.1,296.1 L139.8,298.2 L139.5,297.0 L139.2,295.9 L138.9,298.2 L138.6,296.5 L138.3,294.6 L138.0,296.7Z" fill="#000"/>
<line x1="138" y1="300.3" x2="175" y2="300.3" stroke="#000" stroke-width="2" />
<text x="148.8" y="315" font-size="12" fill="#000" text-anchor="start" >1 s</text>
<path d="M490.5,216.9 L490.8,217.6 L491.1,216.9 L491.4,218.1 L491.7,216.4 L492.0,218.3 L492.3,216.8 L492.6,219.8 L492.9,217.8 L493.2,217.8 L493.5,216.5 L493.8,217.9 L494.1,216.7 L494.4,218.5 L494.7,218.4 L495.0,216.8 L495.3,217.0 L495.6,217.2 L495.9,216.8 L496.2,216.6 L496.5,217.7 L496.8,216.7 L497.1,217.2 L497.4,216.9 L497.7,216.8 L498.0,217.8 L498.3,217.6 L498.6,218.2 L498.9,217.9 L499.2,217.2 L499.5,217.7 L499.8,217.2 L500.1,216.9 L500.4,220.2 L500.7,218.0 L501.0,217.0 L501.3,218.3 L501.6,217.5 L501.9,217.7 L502.2,217.6 L502.5,218.9 L502.8,220.1 L503.1,218.8 L503.4,217.7 L503.7,218.0 L504.0,218.1 L504.3,218.9 L504.6,219.6 L504.9,220.1 L505.2,220.0 L505.5,218.2 L505.8,218.7 L506.1,219.7 L506.4,219.2 L506.7,218.4 L507.0,218.6 L507.3,217.8 L507.6,218.8 L507.9,218.8 L508.2,219.2 L508.5,218.8 L508.8,218.2 L509.1,217.8 L509.4,217.5 L509.7,217.7 L510.0,218.6 L510.3,218.6 L510.6,218.6 L510.9,218.8 L511.2,217.4 L511.5,218.9 L511.8,217.7 L512.1,217.8 L512.4,217.6 L512.7,219.4 L513.0,219.2 L513.3,220.3 L513.6,218.7 L513.9,218.8 L514.2,218.7 L514.5,217.7 L514.8,217.7 L515.1,219.6 L515.4,218.1 L515.7,218.2 L516.0,218.7 L516.3,217.8 L516.6,219.8 L516.9,219.7 L517.2,217.9 L517.5,218.0 L517.8,217.8 L518.1,217.7 L518.4,218.2 L518.7,218.1 L519.0,218.9 L519.3,218.7 L519.6,218.4 L519.9,219.6 L520.2,219.9 L520.5,219.7 L520.8,218.3 L521.1,220.8 L521.4,218.9 L521.7,218.8 L522.0,220.0 L522.3,217.9 L522.6,218.6 L522.9,219.6 L523.2,218.8 L523.5,218.6 L523.8,218.9 L524.1,218.2 L524.4,218.8 L524.7,220.0 L525.0,218.5 L525.3,219.7 L525.6,218.5 L525.9,218.2 L526.2,218.7 L526.5,221.1 L526.8,218.8 L527.1,219.6 L527.4,219.8 L527.7,218.8 L528.0,219.1 L528.3,218.8 L528.6,219.2 L528.9,218.5 L529.2,218.6 L529.5,219.9 L529.8,218.7 L530.1,221.2 L530.4,221.0 L530.7,219.4 L531.0,219.3 L531.3,219.0 L531.6,218.8 L531.9,220.4 L532.2,218.7 L532.5,219.5 L532.8,219.9 L533.1,218.7 L533.4,220.8 L533.7,220.5 L534.0,220.5 L534.3,218.9 L534.6,219.6 L534.9,218.9 L535.2,218.6 L535.5,219.7 L535.8,218.9 L536.1,220.9 L536.4,221.5 L536.7,220.9 L537.0,220.2 L537.3,221.6 L537.6,222.6 L537.9,219.2 L538.2,219.1 L538.5,220.0 L538.8,221.3 L539.1,219.4 L539.4,218.7 L539.7,220.8 L540.0,219.8 L540.3,220.2 L540.6,220.8 L540.9,221.3 L541.2,220.0 L541.5,219.2 L541.8,220.0 L542.1,220.2 L542.4,221.2 L542.7,220.2 L543.0,219.1 L543.3,220.6 L543.6,220.5 L543.9,219.8 L544.2,219.0 L544.5,219.7 L544.8,219.5 L545.1,219.2 L545.4,219.7 L545.7,219.4 L546.0,219.4 L546.3,220.3 L546.6,219.2 L546.9,220.1 L547.2,219.3 L547.5,219.1 L547.8,219.7 L548.1,220.3 L548.4,219.9 L548.7,220.7 L549.0,219.2 L549.3,221.0 L549.6,220.1 L549.9,220.9 L550.2,219.5 L550.5,222.2 L550.8,219.4 L551.1,219.9 L551.4,220.5 L551.7,219.9 L552.0,220.4 L552.3,221.2 L552.6,219.5 L552.9,219.4 L553.2,219.8 L553.5,219.7 L553.8,221.4 L554.1,219.6 L554.4,221.1 L554.7,219.6 L555.0,222.2 L555.3,219.6 L555.6,220.3 L555.9,220.1 L556.2,221.6 L556.5,219.6 L556.8,222.9 L557.1,219.7 L557.4,221.3 L557.7,220.6 L558.0,220.3 L558.3,221.1 L558.6,219.7 L558.9,220.3 L559.2,220.2 L559.5,220.4 L559.8,222.9 L560.1,220.1 L560.4,221.7 L560.7,220.2 L561.0,220.3 L561.3,221.2 L561.6,220.7 L561.9,221.9 L562.2,220.4 L562.5,220.8 L562.8,221.9 L563.1,221.0 L563.4,220.1 L563.7,221.5 L564.0,220.1 L564.3,222.7 L564.6,221.7 L564.9,221.6 L565.2,221.4 L565.5,222.1 L565.8,221.2 L566.1,221.2 L566.4,221.6 L566.7,220.2 L567.0,220.5 L567.3,222.4 L567.6,223.3 L567.9,221.2 L568.2,220.4 L568.5,222.1 L568.8,222.2 L569.1,220.3 L569.4,220.8 L569.7,221.7 L570.0,220.5 L570.3,222.2 L570.6,221.7 L570.9,220.7 L571.2,220.3 L571.5,222.0 L571.8,222.0 L572.1,224.3 L572.4,221.9 L572.7,221.1 L573.0,223.2 L573.3,223.1 L573.6,221.9 L573.9,222.0 L574.2,220.6 L574.5,221.8 L574.8,223.3 L575.1,220.7 L575.4,223.2 L575.7,220.5 L576.0,221.2 L576.3,221.2 L576.6,220.7 L576.9,223.6 L577.2,221.9 L577.5,221.2 L577.8,221.5 L578.1,221.6 L578.4,221.3 L578.7,220.6 L579.0,221.2 L579.3,221.5 L579.6,222.0 L579.9,222.3 L580.2,222.0 L580.5,222.3 L580.8,222.3 L581.1,221.5 L581.4,222.7 L581.7,221.6 L582.0,221.4 L582.3,220.9 L582.6,221.3 L582.9,223.0 L583.2,222.6 L583.5,221.7 L583.8,221.1 L584.1,221.8 L584.4,222.7 L584.7,221.5 L585.0,221.5 L585.3,222.9 L585.6,221.2 L585.9,221.2 L586.2,222.3 L586.5,221.3 L586.8,221.5 L587.1,224.1 L587.4,222.2 L587.7,222.3 L588.0,221.5 L588.3,221.7 L588.6,221.2 L588.9,221.2 L589.2,222.5 L589.5,221.4 L589.8,222.8 L590.1,221.6 L590.4,222.6 L590.7,222.1 L591.0,221.7 L591.3,221.3 L591.6,223.0 L591.9,221.7 L592.2,221.6 L592.5,221.6 L592.8,221.6 L593.1,226.1 L593.4,222.5 L593.7,224.3 L594.0,221.4 L594.3,222.5 L594.6,221.6 L594.9,222.3 L595.2,222.2 L595.5,222.4 L595.8,223.1 L596.1,223.4 L596.4,222.1 L596.7,222.6 L597.0,221.5 L597.3,222.8 L597.6,222.1 L597.9,222.4 L598.2,222.2 L598.5,222.2 L598.8,223.5 L599.1,223.0 L599.4,222.8 L599.7,222.2 L600.0,223.4 L600.3,221.8 L600.6,224.3 L600.9,222.6 L601.2,222.9 L601.5,222.2 L601.8,223.2 L602.1,222.1 L602.4,224.8 L602.7,222.6 L603.0,222.3 L603.3,223.2 L603.6,222.3 L603.9,222.6 L604.2,222.9 L604.5,222.5 L604.8,222.2 L605.1,222.7 L605.4,224.5 L605.7,225.5 L606.0,222.5 L606.3,222.6 L606.6,222.5 L606.9,223.3 L607.2,223.4 L607.5,222.4 L607.8,222.8 L608.1,222.9 L608.4,223.5 L608.7,222.8 L609.0,222.4 L609.3,223.1 L609.6,224.0 L609.9,222.2 L610.2,223.2 L610.5,222.4 L610.8,223.0 L611.1,222.3 L611.4,222.8 L611.7,223.3 L612.0,223.0 L612.3,223.3 L612.6,224.4 L612.9,224.7 L613.2,222.6 L613.5,222.5 L613.8,222.7 L614.1,223.3 L614.4,223.7 L614.7,222.4 L615.0,225.1 L615.3,223.0 L615.6,222.8 L615.9,222.8 L616.2,223.3 L616.5,223.8 L616.8,223.1 L617.1,223.2 L617.4,223.6 L617.7,223.1 L618.0,224.0 L618.3,223.0 L618.6,223.5 L618.9,223.6 L619.2,225.6 L619.5,223.8 L619.8,226.5 L620.1,225.1 L620.4,224.0 L620.7,224.3 L621.0,223.8 L621.3,224.6 L621.6,223.9 L621.9,223.4 L622.2,222.9 L622.5,223.4 L622.8,223.4 L623.1,224.9 L623.4,226.1 L623.7,223.6 L624.0,223.5 L624.3,225.1 L624.6,223.8 L624.9,224.9 L625.2,224.6 L625.5,223.5 L625.8,223.3 L626.1,223.3 L626.4,225.5 L626.7,223.3 L627.0,224.2 L627.3,224.3 L627.6,224.5 L627.9,224.4 L628.2,223.2 L628.5,224.1 L628.8,223.2 L629.1,224.6 L629.4,224.8 L629.7,223.4 L630.0,224.1 L630.3,225.6 L630.6,228.7 L630.9,224.7 L631.2,225.5 L631.5,223.8 L631.8,224.4 L632.1,224.8 L632.4,224.3 L632.7,224.7 L633.0,223.6 L633.3,227.3 L633.6,225.9 L633.9,224.3 L634.2,225.3 L634.5,225.2 L634.8,223.4 L635.1,223.8 L635.4,224.9 L635.7,223.6 L636.0,224.1 L636.3,224.2 L636.6,223.8 L636.9,224.9 L637.2,225.6 L637.5,225.1 L637.8,223.8 L638.1,224.4 L638.4,224.4 L638.7,224.4 L639.0,224.3 L639.3,224.9 L639.6,224.0 L639.9,225.4 L640.2,225.6 L640.5,224.9 L640.8,224.1 L641.1,225.3 L641.4,225.4 L641.7,226.1 L642.0,224.8 L642.3,224.9 L642.6,224.2 L642.9,224.3 L643.2,227.7 L643.5,224.2 L643.8,225.2 L644.1,224.3 L644.4,224.3 L644.7,224.9 L645.0,225.7 L645.3,224.8 L645.6,224.7 L645.9,224.9 L646.2,225.0 L646.5,225.0 L646.8,224.9 L647.1,224.0 L647.4,224.6 L647.7,224.8 L648.0,225.2 L648.3,225.3 L648.6,225.3 L648.9,224.3 L649.2,225.6 L649.5,226.0 L649.8,225.9 L650.1,224.6 L650.4,224.5 L650.7,226.0 L651.0,226.2 L651.3,224.2 L651.6,225.9 L651.9,225.5 L652.2,224.3 L652.5,225.2 L652.8,225.7 L653.1,229.2 L653.4,225.4 L653.7,226.8 L654.0,226.6 L654.3,224.9 L654.6,224.7 L654.9,225.9 L655.2,226.7 L655.5,226.3 L655.8,225.7 L656.1,225.2 L656.4,226.2 L656.7,224.9 L657.0,225.2 L657.3,224.5 L657.6,224.9 L657.9,227.2 L658.2,224.9 L658.5,225.5 L658.8,226.1 L659.1,226.1 L659.4,225.4 L659.7,225.9 L660.0,225.8 L660.3,226.4 L660.6,226.1 L660.9,227.6 L661.2,225.3 L661.5,224.7 L661.8,225.2 L662.1,224.9 L662.4,226.9 L662.7,225.4 L663.0,225.7 L663.3,227.3 L663.6,226.0 L663.9,226.4 L664.2,225.7 L664.5,225.2 L664.8,225.1 L665.1,225.5 L665.4,225.2 L665.7,226.6 L666.0,229.2 L666.3,225.3 L666.6,227.2 L666.9,225.8 L667.2,226.8 L667.5,225.0 L667.5,227.3 L667.2,230.1 L666.9,226.9 L666.6,228.7 L666.3,227.8 L666.0,232.2 L665.7,228.4 L665.4,226.8 L665.1,227.8 L664.8,226.9 L664.5,228.4 L664.2,228.1 L663.9,228.9 L663.6,227.2 L663.3,230.7 L663.0,227.0 L662.7,226.8 L662.4,228.2 L662.1,226.2 L661.8,226.3 L661.5,226.8 L661.2,228.1 L660.9,230.1 L660.6,228.1 L660.3,227.5 L660.0,227.1 L659.7,226.9 L659.4,226.6 L659.1,227.8 L658.8,227.1 L658.5,226.7 L658.2,226.0 L657.9,229.7 L657.6,226.7 L657.3,226.8 L657.0,227.0 L656.7,227.0 L656.4,228.4 L656.1,226.7 L655.8,228.1 L655.5,227.5 L655.2,228.1 L654.9,227.2 L654.6,226.7 L654.3,226.3 L654.0,228.9 L653.7,229.2 L653.4,227.6 L653.1,230.9 L652.8,227.8 L652.5,227.2 L652.2,226.2 L651.9,228.0 L651.6,227.0 L651.3,225.8 L651.0,228.0 L650.7,227.9 L650.4,226.2 L650.1,226.8 L649.8,227.0 L649.5,227.2 L649.2,228.1 L648.9,226.2 L648.6,226.9 L648.3,227.1 L648.0,226.7 L647.7,226.5 L647.4,226.9 L647.1,225.3 L646.8,227.1 L646.5,227.2 L646.2,226.8 L645.9,226.3 L645.6,226.9 L645.3,226.1 L645.0,227.5 L644.7,226.7 L644.4,226.4 L644.1,225.6 L643.8,226.5 L643.5,225.4 L643.2,229.7 L642.9,226.4 L642.6,226.8 L642.3,226.9 L642.0,227.3 L641.7,227.9 L641.4,227.3 L641.1,227.5 L640.8,225.7 L640.5,227.7 L640.2,227.0 L639.9,227.3 L639.6,225.7 L639.3,226.5 L639.0,226.4 L638.7,225.7 L638.4,225.4 L638.1,225.5 L637.8,226.3 L637.5,226.6 L637.2,226.8 L636.9,226.2 L636.6,225.2 L636.3,227.0 L636.0,225.2 L635.7,225.1 L635.4,226.3 L635.1,225.5 L634.8,226.1 L634.5,227.0 L634.2,226.3 L633.9,226.0 L633.6,229.0 L633.3,230.6 L633.0,225.8 L632.7,225.8 L632.4,225.3 L632.1,225.9 L631.8,225.6 L631.5,224.8 L631.2,228.2 L630.9,225.9 L630.6,229.9 L630.3,226.7 L630.0,226.6 L629.7,224.8 L629.4,228.1 L629.1,226.2 L628.8,225.1 L628.5,225.1 L628.2,224.8 L627.9,226.3 L627.6,227.0 L627.3,226.8 L627.0,227.2 L626.7,225.2 L626.4,227.5 L626.1,225.2 L625.8,224.6 L625.5,224.6 L625.2,226.9 L624.9,226.0 L624.6,225.2 L624.3,226.6 L624.0,224.8 L623.7,224.7 L623.4,227.4 L623.1,226.6 L622.8,225.4 L622.5,226.3 L622.2,225.3 L621.9,224.8 L621.6,225.3 L621.3,225.8 L621.0,225.9 L620.7,226.5 L620.4,226.3 L620.1,226.4 L619.8,229.4 L619.5,225.7 L619.2,227.4 L618.9,226.9 L618.6,225.2 L618.3,224.6 L618.0,225.7 L617.7,225.2 L617.4,226.4 L617.1,225.1 L616.8,227.0 L616.5,225.8 L616.2,224.9 L615.9,224.9 L615.6,223.9 L615.3,224.9 L615.0,228.2 L614.7,223.6 L614.4,225.4 L614.1,225.8 L613.8,224.0 L613.5,225.8 L613.2,223.8 L612.9,226.5 L612.6,226.8 L612.3,225.2 L612.0,224.2 L611.7,225.0 L611.4,224.7 L611.1,224.3 L610.8,225.4 L610.5,224.0 L610.2,224.9 L609.9,223.2 L609.6,225.5 L609.3,225.0 L609.0,223.9 L608.7,225.2 L608.4,225.4 L608.1,223.9 L607.8,224.3 L607.5,224.6 L607.2,226.5 L606.9,227.3 L606.6,224.1 L606.3,224.0 L606.0,225.2 L605.7,227.7 L605.4,226.1 L605.1,225.3 L604.8,225.1 L604.5,223.5 L604.2,224.4 L603.9,225.3 L603.6,224.0 L603.3,225.0 L603.0,223.4 L602.7,225.0 L602.4,226.9 L602.1,223.7 L601.8,226.3 L601.5,223.8 L601.2,224.1 L600.9,225.1 L600.6,225.7 L600.3,223.6 L600.0,225.6 L599.7,224.9 L599.4,224.7 L599.1,225.6 L598.8,225.9 L598.5,224.8 L598.2,224.5 L597.9,223.8 L597.6,224.3 L597.3,224.8 L597.0,222.9 L596.7,224.8 L596.4,223.3 L596.1,227.0 L595.8,225.5 L595.5,224.1 L595.2,224.2 L594.9,224.3 L594.6,223.2 L594.3,224.8 L594.0,223.6 L593.7,225.6 L593.4,224.0 L593.1,228.4 L592.8,223.7 L592.5,223.5 L592.2,223.4 L591.9,223.7 L591.6,225.2 L591.3,222.9 L591.0,223.1 L590.7,223.7 L590.4,224.1 L590.1,224.2 L589.8,225.0 L589.5,223.1 L589.2,225.1 L588.9,223.5 L588.6,222.9 L588.3,223.0 L588.0,223.2 L587.7,224.2 L587.4,224.2 L587.1,226.4 L586.8,223.0 L586.5,222.7 L586.2,225.3 L585.9,222.2 L585.6,222.8 L585.3,224.5 L585.0,222.6 L584.7,222.5 L584.4,224.1 L584.1,222.9 L583.8,222.5 L583.5,223.3 L583.2,223.8 L582.9,224.5 L582.6,223.4 L582.3,223.3 L582.0,223.9 L581.7,224.1 L581.4,224.2 L581.1,225.1 L580.8,223.6 L580.5,224.2 L580.2,226.2 L579.9,223.7 L579.6,224.8 L579.3,224.2 L579.0,222.7 L578.7,222.4 L578.4,223.4 L578.1,224.0 L577.8,222.6 L577.5,222.7 L577.2,223.7 L576.9,225.1 L576.6,222.6 L576.3,224.2 L576.0,222.4 L575.7,221.8 L575.4,224.3 L575.1,221.8 L574.8,226.2 L574.5,223.1 L574.2,224.1 L573.9,224.5 L573.6,223.7 L573.3,224.4 L573.0,224.5 L572.7,222.2 L572.4,223.3 L572.1,226.8 L571.8,223.6 L571.5,223.6 L571.2,222.8 L570.9,222.1 L570.6,223.9 L570.3,223.9 L570.0,221.9 L569.7,223.1 L569.4,223.1 L569.1,222.1 L568.8,223.5 L568.5,224.2 L568.2,222.3 L567.9,222.4 L567.6,224.4 L567.3,224.2 L567.0,222.4 L566.7,221.5 L566.4,222.9 L566.1,222.9 L565.8,222.8 L565.5,223.3 L565.2,223.5 L564.9,223.7 L564.6,225.0 L564.3,225.6 L564.0,222.3 L563.7,224.2 L563.4,221.3 L563.1,223.5 L562.8,224.2 L562.5,223.3 L562.2,222.2 L561.9,223.9 L561.6,224.5 L561.3,223.7 L561.0,221.7 L560.7,221.3 L560.4,223.1 L560.1,221.3 L559.8,226.7 L559.5,223.3 L559.2,222.7 L558.9,221.7 L558.6,221.0 L558.3,223.3 L558.0,222.5 L557.7,222.0 L557.4,224.3 L557.1,221.6 L556.8,224.0 L556.5,220.7 L556.2,224.8 L555.9,221.6 L555.6,221.9 L555.3,222.0 L555.0,223.5 L554.7,221.2 L554.4,223.7 L554.1,221.1 L553.8,222.7 L553.5,221.9 L553.2,222.0 L552.9,221.9 L552.6,222.0 L552.3,223.4 L552.0,221.5 L551.7,222.5 L551.4,221.5 L551.1,221.5 L550.8,222.3 L550.5,224.0 L550.2,221.6 L549.9,222.2 L549.6,221.7 L549.3,223.2 L549.0,220.4 L548.7,221.7 L548.4,222.4 L548.1,221.4 L547.8,220.8 L547.5,220.3 L547.2,221.4 L546.9,221.9 L546.6,221.4 L546.3,223.1 L546.0,221.3 L545.7,221.4 L545.4,221.7 L545.1,220.3 L544.8,221.8 L544.5,221.6 L544.2,220.4 L543.9,222.1 L543.6,222.4 L543.3,222.3 L543.0,220.2 L542.7,223.2 L542.4,222.4 L542.1,222.2 L541.8,221.2 L541.5,221.4 L541.2,221.1 L540.9,223.0 L540.6,222.3 L540.3,222.2 L540.0,221.4 L539.7,222.5 L539.4,220.0 L539.1,220.6 L538.8,222.9 L538.5,221.7 L538.2,220.6 L537.9,220.7 L537.6,224.8 L537.3,222.8 L537.0,221.3 L536.7,222.0 L536.4,222.9 L536.1,223.2 L535.8,223.1 L535.5,221.8 L535.2,219.7 L534.9,220.6 L534.6,221.1 L534.3,220.4 L534.0,221.9 L533.7,222.4 L533.4,222.5 L533.1,220.1 L532.8,221.6 L532.5,222.9 L532.2,220.2 L531.9,221.6 L531.6,222.0 L531.3,220.7 L531.0,220.9 L530.7,220.9 L530.4,223.5 L530.1,223.6 L529.8,219.7 L529.5,221.7 L529.2,219.6 L528.9,220.9 L528.6,221.2 L528.3,220.2 L528.0,221.5 L527.7,220.2 L527.4,221.3 L527.1,220.7 L526.8,220.7 L526.5,223.0 L526.2,220.6 L525.9,219.8 L525.6,219.6 L525.3,221.6 L525.0,219.6 L524.7,221.2 L524.4,220.4 L524.1,222.1 L523.8,222.6 L523.5,220.2 L523.2,220.2 L522.9,221.2 L522.6,219.9 L522.3,219.5 L522.0,221.6 L521.7,219.8 L521.4,221.2 L521.1,222.0 L520.8,219.9 L520.5,221.5 L520.2,221.1 L519.9,221.8 L519.6,220.6 L519.3,219.9 L519.0,220.4 L518.7,219.3 L518.4,219.5 L518.1,218.9 L517.8,218.9 L517.5,219.4 L517.2,219.7 L516.9,220.7 L516.6,222.1 L516.3,220.6 L516.0,221.7 L515.7,220.7 L515.4,219.3 L515.1,220.7 L514.8,220.6 L514.5,219.5 L514.2,219.7 L513.9,219.8 L513.6,220.0 L513.3,222.1 L513.0,220.3 L512.7,221.1 L512.4,221.0 L512.1,219.7 L511.8,218.9 L511.5,219.9 L511.2,219.1 L510.9,221.5 L510.6,219.7 L510.3,220.0 L510.0,219.8 L509.7,219.3 L509.4,219.9 L509.1,219.5 L508.8,219.2 L508.5,220.2 L508.2,222.4 L507.9,222.1 L507.6,219.9 L507.3,220.2 L507.0,220.2 L506.7,220.4 L506.4,221.9 L506.1,221.1 L505.8,221.1 L505.5,220.6 L505.2,221.2 L504.9,221.3 L504.6,221.2 L504.3,220.0 L504.0,220.2 L503.7,220.1 L503.4,218.9 L503.1,220.3 L502.8,224.0 L502.5,220.8 L502.2,218.7 L501.9,218.8 L501.6,219.5 L501.3,222.0 L501.0,218.4 L500.7,219.9 L500.4,221.8 L500.1,218.4 L499.8,218.7 L499.5,219.6 L499.2,218.8 L498.9,219.7 L498.6,220.1 L498.3,219.8 L498.0,220.1 L497.7,218.4 L497.4,218.2 L497.1,218.6 L496.8,218.5 L496.5,221.1 L496.2,220.4 L495.9,219.3 L495.6,218.8 L495.3,218.1 L495.0,218.5 L494.7,220.0 L494.4,220.4 L494.1,217.7 L493.8,219.8 L493.5,218.9 L493.2,219.7 L492.9,220.2 L492.6,221.8 L492.3,218.3 L492.0,221.0 L491.7,217.9 L491.4,219.2 L491.1,221.1 L490.8,219.1 L490.5,218.3Z" fill="#000" fill-opacity="0.35"/>
<path d="M490.5,174.9 L490.8,174.1 L491.1,175.0 L491.4,172.3 L491.7,175.6 L492.0,175.8 L492.3,171.4 L492.6,173.2 L492.9,171.4 L493.2,175.5 L493.5,173.2 L493.8,171.6 L494.1,174.2 L494.4,174.9 L494.7,175.8 L495.0,178.3 L495.3,175.2 L495.6,174.9 L495.9,174.3 L496.2,174.8 L496.5,204.0 L496.8,175.9 L497.1,172.3 L497.4,173.2 L497.7,173.3 L498.0,173.3 L498.3,172.3 L498.6,175.3 L498.9,174.2 L499.2,203.2 L499.5,204.6 L499.8,203.3 L500.1,203.5 L500.4,204.7 L500.7,204.7 L501.0,204.0 L501.3,204.2 L501.6,203.3 L501.9,204.5 L502.2,203.2 L502.5,204.6 L502.8,204.1 L503.1,204.4 L503.4,204.0 L503.7,204.6 L504.0,204.9 L504.3,203.7 L504.6,204.6 L504.9,204.7 L505.2,203.5 L505.5,205.0 L505.8,203.7 L506.1,204.8 L506.4,204.2 L506.7,203.7 L507.0,204.1 L507.3,203.4 L507.6,175.7 L507.9,175.4 L508.2,172.8 L508.5,176.7 L508.8,173.8 L509.1,176.4 L509.4,178.4 L509.7,171.3 L510.0,170.3 L510.3,175.0 L510.6,173.8 L510.9,175.0 L511.2,169.7 L511.5,175.1 L511.8,172.3 L512.1,174.5 L512.4,175.2 L512.7,175.0 L513.0,174.7 L513.3,172.7 L513.6,174.3 L513.9,178.6 L514.2,177.1 L514.5,177.2 L514.8,174.2 L515.1,177.3 L515.4,172.3 L515.7,177.5 L516.0,172.5 L516.3,173.6 L516.6,173.4 L516.9,173.1 L517.2,175.4 L517.5,175.2 L517.8,172.1 L518.1,175.1 L518.4,172.6 L518.7,175.3 L519.0,171.5 L519.3,175.1 L519.6,204.8 L519.9,178.2 L520.2,176.4 L520.5,172.1 L520.8,174.7 L521.1,175.0 L521.4,174.8 L521.7,173.7 L522.0,173.5 L522.3,177.7 L522.6,173.3 L522.9,176.3 L523.2,172.0 L523.5,177.4 L523.8,176.2 L524.1,175.7 L524.4,176.4 L524.7,177.9 L525.0,173.3 L525.3,175.4 L525.6,174.9 L525.9,176.9 L526.2,172.2 L526.5,176.9 L526.8,175.4 L527.1,175.4 L527.4,177.6 L527.7,177.0 L528.0,173.0 L528.3,205.9 L528.6,175.0 L528.9,178.3 L529.2,175.7 L529.5,174.4 L529.8,176.6 L530.1,177.4 L530.4,173.1 L530.7,171.8 L531.0,176.3 L531.3,180.1 L531.6,175.0 L531.9,176.5 L532.2,176.0 L532.5,172.9 L532.8,175.0 L533.1,174.2 L533.4,177.4 L533.7,171.6 L534.0,175.8 L534.3,177.3 L534.6,175.1 L534.9,176.4 L535.2,174.8 L535.5,176.5 L535.8,173.1 L536.1,176.0 L536.4,180.1 L536.7,177.9 L537.0,174.8 L537.3,176.5 L537.6,176.0 L537.9,172.1 L538.2,177.8 L538.5,175.3 L538.8,177.4 L539.1,176.0 L539.4,179.2 L539.7,175.7 L540.0,176.3 L540.3,177.4 L540.6,175.1 L540.9,178.1 L541.2,177.1 L541.5,177.0 L541.8,177.7 L542.1,174.1 L542.4,177.3 L542.7,173.4 L543.0,177.4 L543.3,177.5 L543.6,176.6 L543.9,178.7 L544.2,174.4 L544.5,175.8 L544.8,178.1 L545.1,172.7 L545.4,177.6 L545.7,177.0 L546.0,175.0 L546.3,177.0 L546.6,174.2 L546.9,177.3 L547.2,178.2 L547.5,176.2 L547.8,179.8 L548.1,178.5 L548.4,177.8 L548.7,179.6 L549.0,178.0 L549.3,177.9 L549.6,178.8 L549.9,206.0 L550.2,178.9 L550.5,173.6 L550.8,176.0 L551.1,176.9 L551.4,175.7 L551.7,177.5 L552.0,176.5 L552.3,177.3 L552.6,178.6 L552.9,178.1 L553.2,175.5 L553.5,175.3 L553.8,174.1 L554.1,177.1 L554.4,177.5 L554.7,176.6 L555.0,177.7 L555.3,176.2 L555.6,173.7 L555.9,178.4 L556.2,176.8 L556.5,177.2 L556.8,180.0 L557.1,176.4 L557.4,180.6 L557.7,174.8 L558.0,177.1 L558.3,175.6 L558.6,178.2 L558.9,177.4 L559.2,180.7 L559.5,175.4 L559.8,180.0 L560.1,177.8 L560.4,177.4 L560.7,176.4 L561.0,174.9 L561.3,177.7 L561.6,176.4 L561.9,178.1 L562.2,176.2 L562.5,180.8 L562.8,179.8 L563.1,179.6 L563.4,207.8 L563.7,181.0 L564.0,178.3 L564.3,178.7 L564.6,178.1 L564.9,179.2 L565.2,179.7 L565.5,177.4 L565.8,175.1 L566.1,180.1 L566.4,176.0 L566.7,178.7 L567.0,179.4 L567.3,178.4 L567.6,174.7 L567.9,178.8 L568.2,177.3 L568.5,180.3 L568.8,175.2 L569.1,177.3 L569.4,177.1 L569.7,178.0 L570.0,181.3 L570.3,180.4 L570.6,180.8 L570.9,178.6 L571.2,178.7 L571.5,176.8 L571.8,176.4 L572.1,178.1 L572.4,178.7 L572.7,177.5 L573.0,178.4 L573.3,178.9 L573.6,178.5 L573.9,180.1 L574.2,181.2 L574.5,177.3 L574.8,178.9 L575.1,176.0 L575.4,177.9 L575.7,176.1 L576.0,177.3 L576.3,180.0 L576.6,180.5 L576.9,178.2 L577.2,208.5 L577.5,180.1 L577.8,180.4 L578.1,179.2 L578.4,173.9 L578.7,180.4 L579.0,177.4 L579.3,176.8 L579.6,182.5 L579.9,179.9 L580.2,180.2 L580.5,178.3 L580.8,174.4 L581.1,173.6 L581.4,174.2 L581.7,174.2 L582.0,176.2 L582.3,177.3 L582.6,181.2 L582.9,178.7 L583.2,178.2 L583.5,176.2 L583.8,174.4 L584.1,176.4 L584.4,177.5 L584.7,178.3 L585.0,178.4 L585.3,175.5 L585.6,173.2 L585.9,176.5 L586.2,179.8 L586.5,177.8 L586.8,180.6 L587.1,208.5 L587.4,208.4 L587.7,206.9 L588.0,209.1 L588.3,208.5 L588.6,208.4 L588.9,209.0 L589.2,208.0 L589.5,209.1 L589.8,208.3 L590.1,208.9 L590.4,209.0 L590.7,208.2 L591.0,208.6 L591.3,207.9 L591.6,208.4 L591.9,208.7 L592.2,208.2 L592.5,209.1 L592.8,208.8 L593.1,209.2 L593.4,209.2 L593.7,209.2 L594.0,209.3 L594.3,207.7 L594.6,208.3 L594.9,207.7 L595.2,209.3 L595.5,208.8 L595.8,209.4 L596.1,209.2 L596.4,209.1 L596.7,209.1 L597.0,209.5 L597.3,208.6 L597.6,208.5 L597.9,207.8 L598.2,208.7 L598.5,207.6 L598.8,208.6 L599.1,209.0 L599.4,209.4 L599.7,175.1 L600.0,182.3 L600.3,177.4 L600.6,180.6 L600.9,181.0 L601.2,181.5 L601.5,181.3 L601.8,181.8 L602.1,178.5 L602.4,182.4 L602.7,179.6 L603.0,179.7 L603.3,177.8 L603.6,180.4 L603.9,182.7 L604.2,175.0 L604.5,181.1 L604.8,180.1 L605.1,182.7 L605.4,180.7 L605.7,182.0 L606.0,176.3 L606.3,182.4 L606.6,177.4 L606.9,179.4 L607.2,179.4 L607.5,181.4 L607.8,181.3 L608.1,180.7 L608.4,178.0 L608.7,179.9 L609.0,180.0 L609.3,178.8 L609.6,182.0 L609.9,183.6 L610.2,182.8 L610.5,178.2 L610.8,179.8 L611.1,178.8 L611.4,180.1 L611.7,176.4 L612.0,180.4 L612.3,184.2 L612.6,176.2 L612.9,181.5 L613.2,174.9 L613.5,181.2 L613.8,180.9 L614.1,183.2 L614.4,179.2 L614.7,182.0 L615.0,182.6 L615.3,185.2 L615.6,178.8 L615.9,182.2 L616.2,182.4 L616.5,179.5 L616.8,182.0 L617.1,181.3 L617.4,180.4 L617.7,180.8 L618.0,210.2 L618.3,181.1 L618.6,180.7 L618.9,178.9 L619.2,178.1 L619.5,178.2 L619.8,179.8 L620.1,179.6 L620.4,182.6 L620.7,186.1 L621.0,181.7 L621.3,178.4 L621.6,182.0 L621.9,179.7 L622.2,180.0 L622.5,181.4 L622.8,175.6 L623.1,180.3 L623.4,178.4 L623.7,179.0 L624.0,175.6 L624.3,180.6 L624.6,176.8 L624.9,178.7 L625.2,183.0 L625.5,182.6 L625.8,183.2 L626.1,183.8 L626.4,180.5 L626.7,177.8 L627.0,182.6 L627.3,177.4 L627.6,178.4 L627.9,183.8 L628.2,181.2 L628.5,182.2 L628.8,179.2 L629.1,182.2 L629.4,179.1 L629.7,181.3 L630.0,183.4 L630.3,182.1 L630.6,183.4 L630.9,180.3 L631.2,180.7 L631.5,180.0 L631.8,182.3 L632.1,211.2 L632.4,174.8 L632.7,176.3 L633.0,184.5 L633.3,211.3 L633.6,180.0 L633.9,180.5 L634.2,180.1 L634.5,177.3 L634.8,182.6 L635.1,180.0 L635.4,179.4 L635.7,181.2 L636.0,178.1 L636.3,180.2 L636.6,183.7 L636.9,211.1 L637.2,179.9 L637.5,180.1 L637.8,179.5 L638.1,182.7 L638.4,211.1 L638.7,182.0 L639.0,178.1 L639.3,183.7 L639.6,182.9 L639.9,180.7 L640.2,178.3 L640.5,183.6 L640.8,183.8 L641.1,184.5 L641.4,179.9 L641.7,182.6 L642.0,178.8 L642.3,181.0 L642.6,178.1 L642.9,182.4 L643.2,178.1 L643.5,180.4 L643.8,182.0 L644.1,181.1 L644.4,182.5 L644.7,180.7 L645.0,182.2 L645.3,183.4 L645.6,181.6 L645.9,180.1 L646.2,181.9 L646.5,179.1 L646.8,180.2 L647.1,179.4 L647.4,179.5 L647.7,179.6 L648.0,177.2 L648.3,180.5 L648.6,180.6 L648.9,179.6 L649.2,177.1 L649.5,181.2 L649.8,182.1 L650.1,179.9 L650.4,182.4 L650.7,180.9 L651.0,180.5 L651.3,179.4 L651.6,179.6 L651.9,181.4 L652.2,181.7 L652.5,181.3 L652.8,180.8 L653.1,181.2 L653.4,178.5 L653.7,182.7 L654.0,184.9 L654.3,178.5 L654.6,175.9 L654.9,185.1 L655.2,184.4 L655.5,179.7 L655.8,182.9 L656.1,181.4 L656.4,182.3 L656.7,177.2 L657.0,182.6 L657.3,183.1 L657.6,177.6 L657.9,181.4 L658.2,181.5 L658.5,181.7 L658.8,179.8 L659.1,184.3 L659.4,186.5 L659.7,182.4 L660.0,180.2 L660.3,185.9 L660.6,180.2 L660.9,182.0 L661.2,182.2 L661.5,182.3 L661.8,179.6 L662.1,183.0 L662.4,186.4 L662.7,176.5 L663.0,182.6 L663.3,182.4 L663.6,180.2 L663.9,179.9 L664.2,187.6 L664.5,181.6 L664.8,179.3 L665.1,179.6 L665.4,185.3 L665.7,184.2 L666.0,179.3 L666.3,182.7 L666.6,182.6 L666.9,183.3 L667.2,182.4 L667.5,180.7 L667.5,226.0 L667.2,227.8 L666.9,226.8 L666.6,228.2 L666.3,226.3 L666.0,230.2 L665.7,227.6 L665.4,226.2 L665.1,226.5 L664.8,226.1 L664.5,226.2 L664.2,226.7 L663.9,227.4 L663.6,227.0 L663.3,228.3 L663.0,226.7 L662.7,226.4 L662.4,227.9 L662.1,225.9 L661.8,226.2 L661.5,225.7 L661.2,226.3 L660.9,228.6 L660.6,227.1 L660.3,227.4 L660.0,226.8 L659.7,226.9 L659.4,226.4 L659.1,227.1 L658.8,227.1 L658.5,226.5 L658.2,225.9 L657.9,228.2 L657.6,225.9 L657.3,225.5 L657.0,226.2 L656.7,225.9 L656.4,227.2 L656.1,226.2 L655.8,226.7 L655.5,227.3 L655.2,227.7 L654.9,226.9 L654.6,225.7 L654.3,225.9 L654.0,227.6 L653.7,227.8 L653.4,226.4 L653.1,230.2 L652.8,226.7 L652.5,226.2 L652.2,225.3 L651.9,226.5 L651.6,226.9 L651.3,225.2 L651.0,227.2 L650.7,227.0 L650.4,225.5 L650.1,225.6 L649.8,226.9 L649.5,227.0 L649.2,226.6 L648.9,225.3 L648.6,226.3 L648.3,226.3 L648.0,226.2 L647.7,225.8 L647.4,225.6 L647.1,225.0 L646.8,225.9 L646.5,226.0 L646.2,226.0 L645.9,225.9 L645.6,225.7 L645.3,225.8 L645.0,226.7 L644.7,225.9 L644.4,225.3 L644.1,225.3 L643.8,226.2 L643.5,225.2 L643.2,228.7 L642.9,225.3 L642.6,225.2 L642.3,225.9 L642.0,225.8 L641.7,227.1 L641.4,226.4 L641.1,226.3 L640.8,225.1 L640.5,225.9 L640.2,226.6 L639.9,226.4 L639.6,225.0 L639.3,225.9 L639.0,225.3 L638.7,225.4 L638.4,225.4 L638.1,225.4 L637.8,224.8 L637.5,226.1 L637.2,226.6 L636.9,225.9 L636.6,224.8 L636.3,225.2 L636.0,225.1 L635.7,224.6 L635.4,225.9 L635.1,224.8 L634.8,224.4 L634.5,226.2 L634.2,226.3 L633.9,225.3 L633.6,226.9 L633.3,228.3 L633.0,224.6 L632.7,225.7 L632.4,225.3 L632.1,225.8 L631.8,225.4 L631.5,224.8 L631.2,226.5 L630.9,225.7 L630.6,229.7 L630.3,226.6 L630.0,225.1 L629.7,224.4 L629.4,225.8 L629.1,225.6 L628.8,224.2 L628.5,225.1 L628.2,224.2 L627.9,225.4 L627.6,225.5 L627.3,225.3 L627.0,225.2 L626.7,224.3 L626.4,226.5 L626.1,224.3 L625.8,224.3 L625.5,224.5 L625.2,225.6 L624.9,225.9 L624.6,224.8 L624.3,226.1 L624.0,224.5 L623.7,224.6 L623.4,227.1 L623.1,225.9 L622.8,224.4 L622.5,224.4 L622.2,223.9 L621.9,224.4 L621.6,224.9 L621.3,225.6 L621.0,224.8 L620.7,225.3 L620.4,225.0 L620.1,226.1 L619.8,227.5 L619.5,224.8 L619.2,226.6 L618.9,224.6 L618.6,224.5 L618.3,224.0 L618.0,225.0 L617.7,224.1 L617.4,224.6 L617.1,224.2 L616.8,224.1 L616.5,224.8 L616.2,224.3 L615.9,223.8 L615.6,223.8 L615.3,224.0 L615.0,226.1 L614.7,223.4 L614.4,224.7 L614.1,224.3 L613.8,223.7 L613.5,223.5 L613.2,223.6 L612.9,225.7 L612.6,225.4 L612.3,224.3 L612.0,224.0 L611.7,224.3 L611.4,223.8 L611.1,223.3 L610.8,224.0 L610.5,223.4 L610.2,224.2 L609.9,223.2 L609.6,225.0 L609.3,224.1 L609.0,223.4 L608.7,223.8 L608.4,224.5 L608.1,223.9 L607.8,223.8 L607.5,223.4 L607.2,224.4 L606.9,224.3 L606.6,223.5 L606.3,223.6 L606.0,223.5 L605.7,226.5 L605.4,225.5 L605.1,223.7 L604.8,223.2 L604.5,223.5 L604.2,223.9 L603.9,223.6 L603.6,223.3 L603.3,224.2 L603.0,223.3 L602.7,223.6 L602.4,225.8 L602.1,223.1 L601.8,224.2 L601.5,223.2 L601.2,223.9 L600.9,223.6 L600.6,225.3 L600.3,222.8 L600.0,224.4 L599.7,223.2 L599.4,223.8 L599.1,224.0 L598.8,224.5 L598.5,223.2 L598.2,223.2 L597.9,223.4 L597.6,223.1 L597.3,223.8 L597.0,222.5 L596.7,223.6 L596.4,223.1 L596.1,224.4 L595.8,224.1 L595.5,223.4 L595.2,223.2 L594.9,223.3 L594.6,222.6 L594.3,223.5 L594.0,222.4 L593.7,225.3 L593.4,223.5 L593.1,227.1 L592.8,222.6 L592.5,222.6 L592.2,222.6 L591.9,222.7 L591.6,224.0 L591.3,222.3 L591.0,222.7 L590.7,223.1 L590.4,223.6 L590.1,222.6 L589.8,223.8 L589.5,222.4 L589.2,223.5 L588.9,222.2 L588.6,222.2 L588.3,222.7 L588.0,222.5 L587.7,223.3 L587.4,223.2 L587.1,225.1 L586.8,222.5 L586.5,222.3 L586.2,223.3 L585.9,222.2 L585.6,222.2 L585.3,223.9 L585.0,222.5 L584.7,222.5 L584.4,223.7 L584.1,222.8 L583.8,222.1 L583.5,222.7 L583.2,223.6 L582.9,224.0 L582.6,222.3 L582.3,221.9 L582.0,222.4 L581.7,222.6 L581.4,223.7 L581.1,222.5 L580.8,223.3 L580.5,223.3 L580.2,223.0 L579.9,223.3 L579.6,223.0 L579.3,222.5 L579.0,222.2 L578.7,221.6 L578.4,222.3 L578.1,222.6 L577.8,222.5 L577.5,222.2 L577.2,222.9 L576.9,224.6 L576.6,221.7 L576.3,222.2 L576.0,222.2 L575.7,221.5 L575.4,224.2 L575.1,221.7 L574.8,224.3 L574.5,222.8 L574.2,221.6 L573.9,223.0 L573.6,222.9 L573.3,224.1 L573.0,224.2 L572.7,222.1 L572.4,222.9 L572.1,225.3 L571.8,223.0 L571.5,223.0 L571.2,221.3 L570.9,221.7 L570.6,222.7 L570.3,223.2 L570.0,221.5 L569.7,222.7 L569.4,221.8 L569.1,221.3 L568.8,223.2 L568.5,223.1 L568.2,221.4 L567.9,222.2 L567.6,224.3 L567.3,223.4 L567.0,221.5 L566.7,221.2 L566.4,222.6 L566.1,222.2 L565.8,222.2 L565.5,223.1 L565.2,222.4 L564.9,222.6 L564.6,222.7 L564.3,223.7 L564.0,221.1 L563.7,222.5 L563.4,221.1 L563.1,222.0 L562.8,222.9 L562.5,221.8 L562.2,221.4 L561.9,222.9 L561.6,221.7 L561.3,222.2 L561.0,221.3 L560.7,221.2 L560.4,222.7 L560.1,221.1 L559.8,223.9 L559.5,221.4 L559.2,221.2 L558.9,221.3 L558.6,220.7 L558.3,222.1 L558.0,221.3 L557.7,221.6 L557.4,222.3 L557.1,220.7 L556.8,223.9 L556.5,220.6 L556.2,222.6 L555.9,221.1 L555.6,221.3 L555.3,220.6 L555.0,223.2 L554.7,220.6 L554.4,222.1 L554.1,220.6 L553.8,222.4 L553.5,220.7 L553.2,220.8 L552.9,220.4 L552.6,220.5 L552.3,222.2 L552.0,221.4 L551.7,220.9 L551.4,221.5 L551.1,220.9 L550.8,220.4 L550.5,223.2 L550.2,220.5 L549.9,221.9 L549.6,221.1 L549.3,222.0 L549.0,220.2 L548.7,221.7 L548.4,220.9 L548.1,221.3 L547.8,220.7 L547.5,220.1 L547.2,220.3 L546.9,221.1 L546.6,220.2 L546.3,221.3 L546.0,220.4 L545.7,220.4 L545.4,220.7 L545.1,220.2 L544.8,220.5 L544.5,220.7 L544.2,220.0 L543.9,220.8 L543.6,221.5 L543.3,221.6 L543.0,220.1 L542.7,221.2 L542.4,222.2 L542.1,221.2 L541.8,221.0 L541.5,220.2 L541.2,221.0 L540.9,222.3 L540.6,221.8 L540.3,221.2 L540.0,220.8 L539.7,221.8 L539.4,219.7 L539.1,220.4 L538.8,222.3 L538.5,221.0 L538.2,220.1 L537.9,220.2 L537.6,223.6 L537.3,222.6 L537.0,221.2 L536.7,221.9 L536.4,222.5 L536.1,221.9 L535.8,219.9 L535.5,220.7 L535.2,219.6 L534.9,219.9 L534.6,220.6 L534.3,219.9 L534.0,221.5 L533.7,221.5 L533.4,221.8 L533.1,219.7 L532.8,220.9 L532.5,220.5 L532.2,219.7 L531.9,221.4 L531.6,219.8 L531.3,220.0 L531.0,220.3 L530.7,220.4 L530.4,222.0 L530.1,222.2 L529.8,219.7 L529.5,220.9 L529.2,219.6 L528.9,219.5 L528.6,220.2 L528.3,219.8 L528.0,220.1 L527.7,219.8 L527.4,220.8 L527.1,220.6 L526.8,219.8 L526.5,222.1 L526.2,219.7 L525.9,219.2 L525.6,219.5 L525.3,220.7 L525.0,219.5 L524.7,221.0 L524.4,219.8 L524.1,219.2 L523.8,219.9 L523.5,219.6 L523.2,219.8 L522.9,220.6 L522.6,219.6 L522.3,218.9 L522.0,221.0 L521.7,219.8 L521.4,219.9 L521.1,221.8 L520.8,219.3 L520.5,220.7 L520.2,220.9 L519.9,220.6 L519.6,219.4 L519.3,219.7 L519.0,219.9 L518.7,219.1 L518.4,219.2 L518.1,218.7 L517.8,218.8 L517.5,219.0 L517.2,218.9 L516.9,220.7 L516.6,220.8 L516.3,218.8 L516.0,219.7 L515.7,219.2 L515.4,219.1 L515.1,220.6 L514.8,218.7 L514.5,218.7 L514.2,219.7 L513.9,219.8 L513.6,219.7 L513.3,221.3 L513.0,220.2 L512.7,220.4 L512.4,218.6 L512.1,218.8 L511.8,218.7 L511.5,219.9 L511.2,218.4 L510.9,219.8 L510.6,219.6 L510.3,219.6 L510.0,219.6 L509.7,218.7 L509.4,218.5 L509.1,218.8 L508.8,219.2 L508.5,219.8 L508.2,220.2 L507.9,219.8 L507.6,219.8 L507.3,218.8 L507.0,219.6 L506.7,219.4 L506.4,220.2 L506.1,220.7 L505.8,219.7 L505.5,219.2 L505.2,221.0 L504.9,221.1 L504.6,220.6 L504.3,219.9 L504.0,219.1 L503.7,219.0 L503.4,218.7 L503.1,219.8 L502.8,221.1 L502.5,219.9 L502.2,218.6 L501.9,218.7 L501.6,218.5 L501.3,219.3 L501.0,218.0 L500.7,219.0 L500.4,221.2 L500.1,217.9 L499.8,218.2 L499.5,218.7 L499.2,218.2 L498.9,218.9 L498.6,219.2 L498.3,218.6 L498.0,218.8 L497.7,217.8 L497.4,217.9 L497.1,218.2 L496.8,217.7 L496.5,218.7 L496.2,217.6 L495.9,217.8 L495.6,218.2 L495.3,218.0 L495.0,217.8 L494.7,219.4 L494.4,219.5 L494.1,217.7 L493.8,218.9 L493.5,217.5 L493.2,218.8 L492.9,218.8 L492.6,220.8 L492.3,217.8 L492.0,219.3 L491.7,217.4 L491.4,219.1 L491.1,217.9 L490.8,218.6 L490.5,217.9Z" fill="#000"/>
<line x1="490" y1="228.2" x2="519" y2="228.2" stroke="#000" stroke-width="2" />
<text x="493.5" y="240.8" font-size="12" fill="#000" text-anchor="start" >10 s</text>
<line x1="491.4" y1="252.2" x2="599.7" y2="221.4" stroke="#111" stroke-width="0.85" stroke-dasharray="1.5,0.6"/>
<line x1="617.7" y1="222.9" x2="666.2" y2="257.9" stroke="#111" stroke-width="0.85" stroke-dasharray="3,1"/>
<text x="570.8" y="249.8" font-size="12" fill="#000" text-anchor="start" ><tspan font-style="italic">P</tspan><tspan font-size="11" dy="2.8" dx="0.3">o</tspan><tspan dy="-2.8" dx="1.4">=0.24</tspan></text>
<path d="M487.0,297.1 L487.3,296.6 L487.6,297.5 L487.9,296.9 L488.2,297.3 L488.5,297.3 L488.8,297.5 L489.1,298.2 L489.4,298.7 L489.7,296.9 L490.0,297.7 L490.3,299.5 L490.6,297.0 L490.9,296.8 L491.2,297.9 L491.5,298.1 L491.8,296.6 L492.1,296.6 L492.4,297.3 L492.7,297.1 L493.0,298.4 L493.3,297.2 L493.6,297.5 L493.9,296.6 L494.2,296.9 L494.5,296.9 L494.8,297.9 L495.1,299.0 L495.4,297.0 L495.7,296.7 L496.0,298.0 L496.3,297.0 L496.6,299.2 L496.9,298.1 L497.2,298.7 L497.5,297.5 L497.8,296.7 L498.1,296.7 L498.4,299.1 L498.7,297.0 L499.0,297.3 L499.3,298.6 L499.6,296.8 L499.9,297.9 L500.2,297.1 L500.5,297.2 L500.8,297.8 L501.1,297.4 L501.4,297.2 L501.7,296.9 L502.0,299.3 L502.3,297.0 L502.6,297.0 L502.9,297.9 L503.2,298.8 L503.5,297.1 L503.8,296.8 L504.1,297.5 L504.4,299.0 L504.7,298.3 L505.0,297.7 L505.3,296.7 L505.6,297.0 L505.9,297.8 L506.2,298.6 L506.5,297.3 L506.8,298.9 L507.1,297.0 L507.4,297.3 L507.7,298.7 L508.0,297.2 L508.3,298.4 L508.6,297.1 L508.9,297.9 L509.2,296.8 L509.5,297.3 L509.8,297.7 L510.1,297.9 L510.4,298.0 L510.7,296.8 L511.0,297.4 L511.3,298.7 L511.6,296.7 L511.9,297.0 L512.2,297.5 L512.5,296.6 L512.8,298.0 L513.1,297.7 L513.4,298.2 L513.7,297.3 L514.0,297.6 L514.3,297.3 L514.6,298.2 L514.9,298.1 L515.2,298.0 L515.5,299.2 L515.8,299.2 L516.1,296.7 L516.4,296.6 L516.7,296.8 L517.0,296.8 L517.3,298.5 L517.6,299.5 L517.9,297.0 L518.2,298.5 L518.5,300.0 L518.8,297.3 L519.1,298.2 L519.4,298.0 L519.7,297.4 L520.0,297.1 L520.3,298.4 L520.6,297.7 L520.9,296.8 L521.2,296.7 L521.5,297.2 L521.8,296.7 L522.1,297.0 L522.4,299.4 L522.7,299.7 L523.0,296.9 L523.3,298.6 L523.6,297.0 L523.9,296.6 L524.2,298.9 L524.5,296.8 L524.8,298.3 L525.1,297.3 L525.4,296.6 L525.7,298.4 L526.0,297.5 L526.3,298.0 L526.6,297.8 L526.9,299.7 L527.2,298.3 L527.5,297.4 L527.8,296.7 L528.1,299.5 L528.4,297.4 L528.7,298.0 L529.0,298.9 L529.3,296.9 L529.6,297.6 L529.9,296.8 L530.2,297.9 L530.5,298.9 L530.8,297.3 L531.1,297.6 L531.4,297.0 L531.7,297.7 L532.0,298.0 L532.3,298.3 L532.6,297.2 L532.9,298.0 L533.2,296.6 L533.5,297.0 L533.8,296.8 L534.1,296.6 L534.4,297.3 L534.7,297.0 L535.0,297.2 L535.3,298.3 L535.6,296.9 L535.9,299.3 L536.2,297.4 L536.5,297.9 L536.8,297.3 L537.1,298.3 L537.4,296.6 L537.7,296.8 L538.0,297.3 L538.3,297.2 L538.6,296.8 L538.9,297.3 L539.2,296.7 L539.5,296.9 L539.8,296.7 L540.1,298.2 L540.4,296.9 L540.7,297.2 L541.0,297.4 L541.3,296.7 L541.6,298.0 L541.9,297.9 L542.2,297.6 L542.5,298.0 L542.8,297.6 L543.1,297.4 L543.4,297.1 L543.7,296.8 L544.0,299.4 L544.3,298.2 L544.6,298.4 L544.9,296.8 L545.2,298.4 L545.5,296.8 L545.8,297.6 L546.1,296.6 L546.4,297.1 L546.7,298.0 L547.0,298.4 L547.3,298.2 L547.6,296.6 L547.9,297.1 L548.2,297.0 L548.5,298.8 L548.8,296.9 L549.1,298.3 L549.4,296.6 L549.7,299.0 L550.0,298.0 L550.3,299.0 L550.6,297.0 L550.9,296.9 L551.2,299.2 L551.5,296.6 L551.8,297.0 L552.1,297.7 L552.4,296.7 L552.7,298.1 L553.0,299.1 L553.3,296.9 L553.6,297.1 L553.9,298.3 L554.2,298.5 L554.5,296.6 L554.8,296.8 L555.1,299.1 L555.4,298.4 L555.7,296.7 L556.0,297.0 L556.3,297.4 L556.6,300.0 L556.9,299.0 L557.2,298.5 L557.5,298.0 L557.8,297.8 L558.1,296.6 L558.4,297.1 L558.7,297.2 L559.0,297.1 L559.3,297.5 L559.6,297.0 L559.9,299.1 L560.2,299.3 L560.5,297.4 L560.8,298.2 L561.1,297.7 L561.4,296.8 L561.7,297.0 L562.0,299.0 L562.3,296.8 L562.6,297.3 L562.9,297.2 L563.2,299.5 L563.5,296.8 L563.8,296.9 L564.1,297.4 L564.4,299.1 L564.7,298.4 L565.0,298.2 L565.3,297.6 L565.6,297.6 L565.9,299.3 L566.2,297.6 L566.5,297.4 L566.8,297.7 L567.1,297.6 L567.4,297.2 L567.7,296.8 L568.0,296.6 L568.3,299.5 L568.6,296.9 L568.9,296.7 L569.2,297.9 L569.5,297.9 L569.8,296.8 L570.1,297.0 L570.4,297.5 L570.7,298.4 L571.0,298.4 L571.3,296.6 L571.6,299.0 L571.9,296.9 L572.2,300.2 L572.5,298.2 L572.8,297.2 L573.1,296.9 L573.4,301.4 L573.7,297.5 L574.0,296.9 L574.3,297.7 L574.6,297.0 L574.9,297.5 L575.2,297.5 L575.5,296.8 L575.8,297.3 L576.1,298.0 L576.4,299.9 L576.7,297.4 L577.0,297.8 L577.3,296.6 L577.6,297.4 L577.9,298.4 L578.2,297.4 L578.5,296.9 L578.8,299.5 L579.1,297.2 L579.4,298.6 L579.7,297.2 L580.0,297.9 L580.3,297.3 L580.6,298.6 L580.9,299.0 L581.2,298.5 L581.5,297.5 L581.8,296.7 L582.1,297.7 L582.4,296.6 L582.7,297.0 L583.0,298.3 L583.3,296.9 L583.6,296.8 L583.9,297.5 L584.2,297.2 L584.5,298.0 L584.8,297.7 L585.1,298.7 L585.4,298.9 L585.7,299.2 L586.0,297.8 L586.3,297.4 L586.6,298.2 L586.9,297.8 L587.2,298.0 L587.5,299.0 L587.8,296.7 L588.1,296.8 L588.4,296.9 L588.7,299.5 L589.0,298.2 L589.3,298.3 L589.6,299.0 L589.9,299.7 L590.2,298.3 L590.5,297.8 L590.8,297.8 L591.1,297.5 L591.4,297.6 L591.7,298.5 L592.0,297.5 L592.3,298.3 L592.6,297.6 L592.9,297.9 L593.2,298.3 L593.5,297.4 L593.8,296.7 L594.1,298.4 L594.4,296.6 L594.7,296.8 L595.0,298.2 L595.3,297.2 L595.6,296.7 L595.9,296.8 L596.2,297.0 L596.5,298.0 L596.8,298.1 L597.1,296.9 L597.4,296.6 L597.7,296.6 L598.0,298.5 L598.3,297.1 L598.6,296.7 L598.9,297.8 L599.2,297.5 L599.5,296.8 L599.8,297.5 L600.1,297.1 L600.4,296.7 L600.7,296.7 L601.0,296.6 L601.3,297.2 L601.6,297.6 L601.9,296.7 L602.2,299.1 L602.5,298.8 L602.8,296.8 L603.1,297.7 L603.4,298.0 L603.7,296.7 L604.0,297.9 L604.3,296.7 L604.6,298.2 L604.9,297.2 L605.2,297.6 L605.5,297.6 L605.8,298.7 L606.1,297.5 L606.4,296.9 L606.7,297.7 L607.0,297.7 L607.3,298.9 L607.6,296.8 L607.9,298.0 L608.2,297.3 L608.5,297.8 L608.8,297.5 L609.1,297.9 L609.4,297.6 L609.7,297.2 L610.0,296.7 L610.3,296.7 L610.6,297.3 L610.9,297.8 L611.2,299.7 L611.5,297.3 L611.8,298.5 L612.1,296.7 L612.4,298.6 L612.7,298.9 L613.0,297.4 L613.3,298.0 L613.6,299.4 L613.9,297.8 L614.2,297.4 L614.5,298.3 L614.8,297.5 L615.1,297.7 L615.4,297.7 L615.7,296.6 L616.0,297.4 L616.3,298.5 L616.6,297.0 L616.9,296.9 L617.2,297.2 L617.5,297.1 L617.8,297.2 L618.1,297.1 L618.4,297.8 L618.7,297.0 L619.0,297.7 L619.3,298.1 L619.6,298.3 L619.9,300.5 L620.2,298.1 L620.5,298.1 L620.8,298.6 L621.1,297.6 L621.4,296.7 L621.7,296.6 L622.0,297.1 L622.3,296.6 L622.6,297.3 L622.9,296.6 L623.2,297.6 L623.5,298.7 L623.8,298.7 L624.1,296.8 L624.4,297.5 L624.7,296.9 L625.0,297.8 L625.3,298.5 L625.6,297.0 L625.9,298.6 L626.2,297.5 L626.5,297.7 L626.8,299.4 L627.1,298.0 L627.4,296.6 L627.7,298.3 L628.0,296.8 L628.3,296.9 L628.6,296.7 L628.9,296.8 L629.2,298.4 L629.5,297.3 L629.8,297.9 L630.1,297.9 L630.4,297.9 L630.7,297.2 L631.0,299.2 L631.3,298.7 L631.6,298.4 L631.9,296.8 L632.2,299.3 L632.5,297.3 L632.8,298.3 L633.1,297.1 L633.4,297.5 L633.7,297.1 L634.0,300.3 L634.3,298.5 L634.6,296.8 L634.9,297.0 L635.2,296.8 L635.5,296.8 L635.8,297.4 L636.1,297.4 L636.4,299.0 L636.7,297.4 L637.0,297.3 L637.3,296.7 L637.6,297.8 L637.9,298.4 L638.2,297.2 L638.5,298.2 L638.8,298.9 L639.1,297.6 L639.4,300.6 L639.7,297.0 L640.0,300.0 L640.3,297.8 L640.6,296.7 L640.9,297.6 L641.2,297.3 L641.5,298.3 L641.8,298.5 L642.1,296.8 L642.4,296.8 L642.7,297.4 L643.0,297.4 L643.3,297.3 L643.6,297.3 L643.9,297.8 L644.2,296.9 L644.5,298.2 L644.8,296.8 L645.1,298.8 L645.4,296.6 L645.7,296.7 L646.0,298.8 L646.3,297.2 L646.6,296.9 L646.9,296.9 L647.2,298.3 L647.5,297.5 L647.8,297.7 L648.1,297.3 L648.4,297.6 L648.7,299.2 L649.0,296.7 L649.3,298.4 L649.6,298.3 L649.9,297.1 L650.2,297.8 L650.5,297.5 L650.8,299.2 L651.1,296.9 L651.4,299.0 L651.7,296.6 L652.0,297.1 L652.3,297.0 L652.6,298.9 L652.9,297.9 L653.2,296.9 L653.5,297.1 L653.8,299.7 L654.1,297.4 L654.4,297.3 L654.7,298.3 L655.0,297.5 L655.3,298.0 L655.6,298.1 L655.9,296.9 L656.2,297.5 L656.5,297.0 L656.8,296.6 L657.1,296.8 L657.4,297.9 L657.7,297.2 L658.0,298.5 L658.3,299.5 L658.6,296.8 L658.9,296.9 L659.2,299.6 L659.5,298.1 L659.8,297.3 L660.1,298.9 L660.4,297.3 L660.7,298.0 L661.0,297.7 L661.3,298.2 L661.6,299.5 L661.9,297.2 L662.2,296.9 L662.5,297.9 L662.8,297.1 L663.1,298.6 L663.4,296.8 L663.7,297.2 L664.0,297.4 L664.0,299.6 L663.7,300.3 L663.4,298.1 L663.1,301.2 L662.8,298.7 L662.5,299.1 L662.2,298.1 L661.9,299.3 L661.6,301.1 L661.3,300.3 L661.0,300.0 L660.7,299.6 L660.4,298.9 L660.1,302.2 L659.8,298.9 L659.5,299.3 L659.2,301.1 L658.9,299.4 L658.6,297.9 L658.3,302.7 L658.0,300.0 L657.7,298.3 L657.4,299.6 L657.1,297.9 L656.8,298.2 L656.5,298.8 L656.2,300.2 L655.9,298.0 L655.6,299.6 L655.3,301.2 L655.0,299.4 L654.7,301.1 L654.4,298.6 L654.1,299.0 L653.8,301.3 L653.5,299.3 L653.2,298.4 L652.9,300.2 L652.6,300.7 L652.3,298.2 L652.0,299.6 L651.7,298.3 L651.4,301.1 L651.1,299.4 L650.8,300.8 L650.5,299.6 L650.2,301.1 L649.9,299.1 L649.6,300.6 L649.3,299.5 L649.0,298.1 L648.7,300.6 L648.4,298.7 L648.1,299.6 L647.8,299.7 L647.5,298.6 L647.2,299.9 L646.9,298.0 L646.6,298.9 L646.3,299.6 L646.0,299.9 L645.7,298.7 L645.4,298.0 L645.1,300.1 L644.8,300.1 L644.5,299.8 L644.2,298.0 L643.9,298.8 L643.6,298.4 L643.3,298.4 L643.0,299.5 L642.7,298.5 L642.4,299.5 L642.1,297.8 L641.8,300.4 L641.5,299.4 L641.2,298.5 L640.9,299.1 L640.6,298.7 L640.3,298.9 L640.0,301.6 L639.7,299.0 L639.4,301.9 L639.1,300.0 L638.8,301.2 L638.5,301.1 L638.2,298.3 L637.9,300.2 L637.6,298.9 L637.3,298.3 L637.0,298.9 L636.7,298.7 L636.4,301.4 L636.1,298.9 L635.8,299.4 L635.5,298.4 L635.2,298.7 L634.9,298.5 L634.6,297.8 L634.3,299.8 L634.0,302.2 L633.7,298.5 L633.4,299.2 L633.1,298.6 L632.8,299.3 L632.5,300.1 L632.2,301.1 L631.9,299.1 L631.6,299.7 L631.3,300.9 L631.0,301.1 L630.7,299.3 L630.4,299.0 L630.1,299.6 L629.8,300.2 L629.5,298.9 L629.2,300.0 L628.9,298.4 L628.6,298.9 L628.3,298.3 L628.0,298.4 L627.7,299.3 L627.4,298.1 L627.1,299.2 L626.8,300.7 L626.5,298.8 L626.2,299.7 L625.9,300.6 L625.6,298.2 L625.3,300.1 L625.0,300.3 L624.7,298.3 L624.4,300.2 L624.1,298.6 L623.8,299.8 L623.5,300.6 L623.2,299.6 L622.9,298.4 L622.6,298.5 L622.3,298.0 L622.0,298.3 L621.7,297.9 L621.4,298.8 L621.1,300.6 L620.8,299.7 L620.5,299.7 L620.2,299.6 L619.9,301.8 L619.6,299.9 L619.3,299.5 L619.0,299.3 L618.7,298.5 L618.4,299.7 L618.1,298.8 L617.8,298.6 L617.5,298.4 L617.2,299.0 L616.9,298.7 L616.6,298.3 L616.3,299.7 L616.0,299.1 L615.7,297.6 L615.4,300.1 L615.1,298.9 L614.8,299.3 L614.5,300.6 L614.2,298.5 L613.9,299.3 L613.6,300.4 L613.3,299.5 L613.0,299.1 L612.7,301.4 L612.4,301.3 L612.1,298.0 L611.8,300.0 L611.5,298.7 L611.2,301.3 L610.9,298.8 L610.6,299.9 L610.3,298.1 L610.0,297.9 L609.7,299.6 L609.4,299.8 L609.1,299.1 L608.8,299.7 L608.5,299.1 L608.2,299.0 L607.9,299.5 L607.6,297.8 L607.3,301.1 L607.0,299.2 L606.7,299.9 L606.4,299.6 L606.1,298.7 L605.8,300.6 L605.5,299.3 L605.2,300.3 L604.9,300.2 L604.6,300.3 L604.3,299.9 L604.0,299.2 L603.7,298.3 L603.4,299.1 L603.1,299.4 L602.8,299.3 L602.5,300.0 L602.2,300.3 L601.9,298.5 L601.6,300.2 L601.3,299.4 L601.0,297.9 L600.7,298.7 L600.4,297.7 L600.1,298.5 L599.8,300.0 L599.5,298.2 L599.2,299.1 L598.9,298.8 L598.6,297.8 L598.3,298.2 L598.0,301.1 L597.7,298.7 L597.4,298.3 L597.1,300.3 L596.8,299.2 L596.5,301.3 L596.2,299.5 L595.9,300.3 L595.6,298.2 L595.3,299.1 L595.0,299.3 L594.7,298.3 L594.4,297.9 L594.1,299.9 L593.8,298.8 L593.5,299.0 L593.2,300.3 L592.9,299.5 L592.6,299.6 L592.3,300.8 L592.0,299.6 L591.7,300.0 L591.4,299.3 L591.1,300.0 L590.8,298.8 L590.5,299.7 L590.2,300.1 L589.9,301.3 L589.6,301.1 L589.3,299.7 L589.0,299.9 L588.7,300.5 L588.4,298.8 L588.1,298.6 L587.8,299.5 L587.5,301.1 L587.2,300.2 L586.9,299.8 L586.6,300.4 L586.3,298.5 L586.0,300.4 L585.7,300.6 L585.4,300.4 L585.1,300.2 L584.8,299.1 L584.5,299.3 L584.2,298.9 L583.9,299.2 L583.6,298.1 L583.3,299.5 L583.0,299.4 L582.7,298.6 L582.4,298.6 L582.1,300.1 L581.8,299.2 L581.5,299.9 L581.2,299.8 L580.9,302.2 L580.6,300.3 L580.3,299.3 L580.0,299.0 L579.7,299.6 L579.4,299.7 L579.1,299.9 L578.8,301.1 L578.5,298.7 L578.2,299.5 L577.9,299.4 L577.6,299.3 L577.3,297.6 L577.0,299.9 L576.7,301.1 L576.4,301.8 L576.1,299.8 L575.8,298.4 L575.5,297.8 L575.2,299.7 L574.9,298.9 L574.6,299.8 L574.3,299.8 L574.0,300.0 L573.7,299.5 L573.4,304.2 L573.1,299.1 L572.8,298.8 L572.5,300.4 L572.2,302.2 L571.9,298.4 L571.6,300.3 L571.3,297.7 L571.0,300.0 L570.7,300.0 L570.4,300.6 L570.1,298.0 L569.8,298.4 L569.5,299.3 L569.2,300.0 L568.9,297.9 L568.6,298.6 L568.3,300.9 L568.0,297.7 L567.7,300.9 L567.4,299.4 L567.1,298.9 L566.8,299.2 L566.5,300.4 L566.2,299.5 L565.9,300.8 L565.6,298.8 L565.3,299.0 L565.0,299.7 L564.7,299.7 L564.4,300.3 L564.1,298.5 L563.8,298.2 L563.5,298.5 L563.2,300.9 L562.9,299.5 L562.6,299.8 L562.3,299.5 L562.0,300.2 L561.7,298.4 L561.4,297.8 L561.1,298.8 L560.8,302.4 L560.5,299.2 L560.2,301.2 L559.9,300.1 L559.6,298.4 L559.3,300.5 L559.0,298.3 L558.7,299.1 L558.4,298.6 L558.1,299.6 L557.8,299.3 L557.5,299.7 L557.2,300.2 L556.9,300.2 L556.6,301.3 L556.3,298.8 L556.0,298.8 L555.7,298.4 L555.4,300.0 L555.1,302.4 L554.8,300.5 L554.5,298.7 L554.2,299.7 L553.9,300.7 L553.6,298.8 L553.3,298.6 L553.0,300.5 L552.7,299.2 L552.4,298.0 L552.1,299.2 L551.8,298.3 L551.5,298.6 L551.2,302.4 L550.9,298.8 L550.6,299.5 L550.3,300.7 L550.0,299.3 L549.7,301.3 L549.4,298.1 L549.1,299.7 L548.8,298.3 L548.5,301.0 L548.2,300.4 L547.9,298.5 L547.6,297.9 L547.3,300.0 L547.0,299.4 L546.7,299.3 L546.4,299.4 L546.1,299.8 L545.8,298.9 L545.5,298.0 L545.2,299.7 L544.9,298.4 L544.6,302.1 L544.3,300.4 L544.0,301.5 L543.7,299.3 L543.4,299.7 L543.1,299.1 L542.8,300.5 L542.5,300.6 L542.2,299.3 L541.9,299.3 L541.6,300.2 L541.3,299.4 L541.0,299.2 L540.7,299.1 L540.4,298.7 L540.1,300.5 L539.8,298.2 L539.5,298.0 L539.2,298.1 L538.9,299.5 L538.6,297.8 L538.3,298.6 L538.0,299.3 L537.7,299.3 L537.4,297.7 L537.1,299.6 L536.8,298.6 L536.5,299.9 L536.2,299.9 L535.9,300.8 L535.6,298.6 L535.3,300.4 L535.0,298.7 L534.7,299.8 L534.4,298.6 L534.1,298.0 L533.8,297.8 L533.5,299.8 L533.2,298.2 L532.9,299.8 L532.6,298.2 L532.3,301.1 L532.0,301.0 L531.7,300.3 L531.4,298.2 L531.1,298.6 L530.8,298.6 L530.5,300.5 L530.2,300.1 L529.9,299.3 L529.6,298.9 L529.3,298.0 L529.0,300.2 L528.7,299.5 L528.4,298.5 L528.1,302.3 L527.8,298.6 L527.5,298.6 L527.2,299.7 L526.9,300.7 L526.6,300.7 L526.3,299.5 L526.0,300.2 L525.7,300.5 L525.4,298.7 L525.1,299.9 L524.8,300.1 L524.5,298.9 L524.2,300.8 L523.9,300.0 L523.6,298.8 L523.3,301.0 L523.0,298.5 L522.7,301.5 L522.4,300.8 L522.1,298.9 L521.8,298.2 L521.5,298.9 L521.2,297.8 L520.9,298.1 L520.6,299.2 L520.3,301.2 L520.0,299.0 L519.7,298.6 L519.4,299.2 L519.1,299.9 L518.8,299.1 L518.5,301.7 L518.2,299.6 L517.9,299.2 L517.6,300.8 L517.3,300.6 L517.0,297.9 L516.7,298.7 L516.4,298.5 L516.1,298.0 L515.8,300.8 L515.5,301.6 L515.2,299.7 L514.9,300.0 L514.6,300.3 L514.3,298.3 L514.0,299.5 L513.7,298.7 L513.4,299.7 L513.1,299.7 L512.8,299.2 L512.5,299.0 L512.2,300.0 L511.9,298.3 L511.6,298.0 L511.3,301.6 L511.0,298.4 L510.7,298.2 L510.4,299.8 L510.1,299.8 L509.8,300.3 L509.5,298.4 L509.2,299.7 L508.9,299.6 L508.6,298.3 L508.3,300.3 L508.0,298.4 L507.7,300.0 L507.4,299.1 L507.1,299.3 L506.8,300.1 L506.5,298.7 L506.2,300.0 L505.9,299.2 L505.6,298.8 L505.3,298.2 L505.0,299.7 L504.7,300.2 L504.4,300.1 L504.1,299.3 L503.8,297.9 L503.5,298.8 L503.2,300.2 L502.9,299.8 L502.6,298.6 L502.3,298.5 L502.0,300.5 L501.7,299.2 L501.4,298.9 L501.1,299.0 L500.8,299.2 L500.5,299.7 L500.2,299.9 L499.9,298.9 L499.6,298.1 L499.3,299.9 L499.0,298.5 L498.7,298.6 L498.4,300.5 L498.1,298.7 L497.8,298.1 L497.5,299.5 L497.2,301.3 L496.9,300.6 L496.6,302.2 L496.3,299.1 L496.0,300.4 L495.7,299.1 L495.4,298.9 L495.1,301.1 L494.8,300.0 L494.5,301.4 L494.2,299.1 L493.9,297.8 L493.6,298.7 L493.3,298.3 L493.0,299.5 L492.7,299.5 L492.4,299.0 L492.1,297.8 L491.8,297.9 L491.5,299.3 L491.2,299.0 L490.9,298.3 L490.6,299.7 L490.3,301.6 L490.0,300.0 L489.7,299.5 L489.4,299.9 L489.1,299.5 L488.8,299.3 L488.5,299.5 L488.2,298.3 L487.9,299.6 L487.6,299.1 L487.3,298.6 L487.0,298.4Z" fill="#000" fill-opacity="0.35"/>
<path d="M487.0,287.7 L487.3,287.0 L487.6,287.1 L487.9,287.2 L488.2,286.7 L488.5,288.0 L488.8,287.0 L489.1,286.9 L489.4,287.7 L489.7,287.7 L490.0,287.9 L490.3,287.5 L490.6,287.2 L490.9,287.1 L491.2,287.1 L491.5,286.4 L491.8,287.7 L492.1,287.7 L492.4,287.2 L492.7,287.8 L493.0,287.5 L493.3,287.0 L493.6,287.6 L493.9,287.6 L494.2,287.4 L494.5,287.2 L494.8,286.7 L495.1,287.0 L495.4,287.2 L495.7,287.9 L496.0,287.6 L496.3,287.3 L496.6,273.5 L496.9,273.0 L497.2,271.6 L497.5,272.8 L497.8,287.5 L498.1,286.8 L498.4,259.2 L498.7,262.3 L499.0,257.7 L499.3,262.2 L499.6,259.2 L499.9,260.6 L500.2,258.9 L500.5,260.8 L500.8,260.3 L501.1,257.8 L501.4,263.6 L501.7,261.3 L502.0,263.3 L502.3,256.1 L502.6,258.3 L502.9,260.4 L503.2,260.0 L503.5,286.9 L503.8,286.4 L504.1,263.7 L504.4,286.5 L504.7,287.0 L505.0,262.8 L505.3,262.5 L505.6,288.0 L505.9,268.1 L506.2,263.9 L506.5,264.2 L506.8,264.5 L507.1,266.7 L507.4,266.9 L507.7,266.8 L508.0,264.2 L508.3,265.2 L508.6,264.4 L508.9,263.5 L509.2,263.5 L509.5,287.7 L509.8,259.4 L510.1,260.7 L510.4,263.1 L510.7,288.0 L511.0,265.0 L511.3,264.1 L511.6,265.0 L511.9,263.3 L512.2,265.5 L512.5,264.2 L512.8,266.1 L513.1,259.6 L513.4,265.3 L513.7,266.8 L514.0,263.3 L514.3,269.8 L514.6,266.8 L514.9,265.6 L515.2,261.8 L515.5,263.0 L515.8,267.3 L516.1,268.0 L516.4,265.1 L516.7,287.3 L517.0,288.0 L517.3,261.1 L517.6,261.1 L517.9,261.5 L518.2,287.3 L518.5,266.6 L518.8,287.1 L519.1,287.2 L519.4,287.4 L519.7,285.7 L520.0,261.3 L520.3,286.8 L520.6,287.9 L520.9,259.4 L521.2,258.3 L521.5,259.4 L521.8,261.4 L522.1,287.5 L522.4,264.3 L522.7,260.1 L523.0,258.5 L523.3,287.5 L523.6,286.9 L523.9,287.7 L524.2,287.8 L524.5,286.9 L524.8,287.3 L525.1,286.0 L525.4,287.3 L525.7,286.0 L526.0,288.0 L526.3,269.6 L526.6,272.8 L526.9,266.7 L527.2,269.7 L527.5,287.2 L527.8,287.8 L528.1,263.1 L528.4,261.4 L528.7,263.5 L529.0,265.2 L529.3,260.1 L529.6,264.9 L529.9,260.4 L530.2,263.3 L530.5,261.4 L530.8,262.2 L531.1,261.3 L531.4,262.1 L531.7,287.9 L532.0,273.2 L532.3,274.0 L532.6,271.9 L532.9,275.8 L533.2,273.1 L533.5,268.7 L533.8,275.1 L534.1,274.2 L534.4,269.2 L534.7,270.0 L535.0,277.8 L535.3,274.1 L535.6,275.4 L535.9,273.5 L536.2,268.2 L536.5,272.9 L536.8,287.9 L537.1,287.6 L537.4,268.0 L537.7,269.9 L538.0,271.6 L538.3,270.0 L538.6,270.9 L538.9,267.6 L539.2,287.8 L539.5,287.8 L539.8,287.1 L540.1,265.5 L540.4,287.4 L540.7,259.9 L541.0,287.3 L541.3,260.3 L541.6,257.7 L541.9,257.5 L542.2,259.9 L542.5,261.5 L542.8,257.8 L543.1,256.8 L543.4,261.2 L543.7,262.1 L544.0,288.0 L544.3,258.8 L544.6,256.6 L544.9,258.2 L545.2,259.7 L545.5,260.2 L545.8,257.2 L546.1,263.0 L546.4,260.1 L546.7,260.1 L547.0,260.8 L547.3,259.8 L547.6,259.2 L547.9,288.0 L548.2,260.7 L548.5,263.2 L548.8,259.7 L549.1,260.0 L549.4,261.5 L549.7,263.6 L550.0,258.7 L550.3,287.9 L550.6,270.2 L550.9,263.1 L551.2,264.5 L551.5,287.2 L551.8,256.8 L552.1,260.3 L552.4,287.7 L552.7,287.9 L553.0,264.7 L553.3,260.2 L553.6,264.6 L553.9,255.7 L554.2,259.8 L554.5,255.9 L554.8,258.1 L555.1,256.8 L555.4,259.8 L555.7,287.5 L556.0,271.4 L556.3,269.1 L556.6,271.2 L556.9,269.3 L557.2,285.7 L557.5,270.6 L557.8,287.7 L558.1,286.3 L558.4,258.7 L558.7,258.1 L559.0,258.0 L559.3,287.0 L559.6,259.7 L559.9,259.4 L560.2,259.9 L560.5,254.9 L560.8,259.0 L561.1,260.4 L561.4,262.0 L561.7,257.2 L562.0,260.1 L562.3,257.2 L562.6,287.4 L562.9,259.6 L563.2,259.0 L563.5,259.4 L563.8,259.9 L564.1,260.5 L564.4,256.5 L564.7,259.7 L565.0,286.1 L565.3,262.4 L565.6,259.1 L565.9,259.4 L566.2,257.2 L566.5,262.0 L566.8,261.0 L567.1,260.2 L567.4,260.8 L567.7,287.8 L568.0,260.4 L568.3,262.4 L568.6,259.9 L568.9,256.9 L569.2,258.5 L569.5,260.2 L569.8,287.6 L570.1,288.0 L570.4,258.9 L570.7,257.0 L571.0,260.2 L571.3,287.2 L571.6,261.4 L571.9,262.1 L572.2,260.6 L572.5,259.0 L572.8,255.8 L573.1,255.6 L573.4,260.2 L573.7,256.7 L574.0,260.6 L574.3,261.9 L574.6,257.4 L574.9,255.4 L575.2,257.2 L575.5,263.2 L575.8,287.5 L576.1,255.5 L576.4,258.6 L576.7,257.2 L577.0,263.7 L577.3,286.9 L577.6,287.0 L577.9,287.4 L578.2,269.2 L578.5,272.3 L578.8,266.1 L579.1,267.8 L579.4,287.9 L579.7,259.6 L580.0,259.6 L580.3,257.4 L580.6,287.6 L580.9,263.9 L581.2,264.0 L581.5,263.5 L581.8,265.5 L582.1,265.4 L582.4,257.1 L582.7,260.0 L583.0,264.7 L583.3,260.8 L583.6,260.7 L583.9,263.0 L584.2,263.9 L584.5,261.9 L584.8,265.0 L585.1,258.9 L585.4,261.9 L585.7,261.4 L586.0,260.3 L586.3,259.9 L586.6,260.1 L586.9,263.8 L587.2,262.6 L587.5,263.8 L587.8,286.7 L588.1,260.3 L588.4,287.2 L588.7,287.3 L589.0,265.1 L589.3,266.7 L589.6,269.6 L589.9,266.8 L590.2,286.8 L590.5,287.8 L590.8,287.5 L591.1,261.5 L591.4,258.5 L591.7,261.1 L592.0,261.1 L592.3,259.5 L592.6,263.8 L592.9,258.5 L593.2,256.7 L593.5,287.3 L593.8,262.6 L594.1,287.0 L594.4,262.5 L594.7,258.5 L595.0,260.7 L595.3,286.7 L595.6,287.0 L595.9,287.8 L596.2,286.8 L596.5,287.6 L596.8,287.8 L597.1,287.9 L597.4,287.9 L597.7,286.6 L598.0,287.5 L598.3,286.4 L598.6,285.6 L598.9,287.3 L599.2,287.0 L599.5,287.8 L599.8,287.8 L600.1,287.8 L600.4,287.3 L600.7,287.1 L601.0,287.6 L601.3,287.8 L601.6,287.3 L601.9,287.8 L602.2,285.5 L602.5,287.5 L602.8,287.6 L603.1,286.3 L603.4,287.7 L603.7,287.4 L604.0,288.0 L604.3,287.8 L604.6,286.1 L604.9,287.7 L605.2,287.6 L605.5,286.8 L605.8,287.5 L606.1,254.1 L606.4,262.3 L606.7,264.2 L607.0,261.7 L607.3,259.8 L607.6,262.1 L607.9,263.8 L608.2,262.5 L608.5,257.9 L608.8,286.7 L609.1,287.4 L609.4,287.6 L609.7,258.5 L610.0,259.3 L610.3,265.6 L610.6,261.9 L610.9,285.9 L611.2,261.6 L611.5,260.3 L611.8,259.2 L612.1,255.2 L612.4,255.7 L612.7,254.8 L613.0,256.1 L613.3,259.4 L613.6,255.5 L613.9,256.0 L614.2,259.8 L614.5,257.5 L614.8,261.3 L615.1,262.3 L615.4,260.2 L615.7,257.1 L616.0,264.0 L616.3,259.3 L616.6,258.6 L616.9,256.5 L617.2,259.5 L617.5,287.9 L617.8,286.9 L618.1,266.7 L618.4,260.6 L618.7,267.9 L619.0,265.4 L619.3,266.4 L619.6,266.0 L619.9,287.6 L620.2,285.9 L620.5,261.3 L620.8,261.8 L621.1,263.8 L621.4,264.4 L621.7,287.3 L622.0,272.2 L622.3,271.0 L622.6,270.2 L622.9,287.8 L623.2,286.6 L623.5,272.4 L623.8,271.6 L624.1,274.3 L624.4,270.6 L624.7,287.2 L625.0,262.6 L625.3,263.8 L625.6,286.9 L625.9,286.7 L626.2,271.1 L626.5,269.8 L626.8,264.4 L627.1,269.5 L627.4,269.7 L627.7,270.5 L628.0,270.5 L628.3,268.4 L628.6,268.7 L628.9,264.8 L629.2,287.6 L629.5,266.7 L629.8,269.1 L630.1,266.4 L630.4,265.7 L630.7,265.6 L631.0,264.0 L631.3,269.0 L631.6,270.9 L631.9,264.6 L632.2,286.8 L632.5,262.3 L632.8,259.2 L633.1,262.7 L633.4,259.0 L633.7,257.8 L634.0,260.1 L634.3,287.9 L634.6,258.7 L634.9,287.7 L635.2,267.2 L635.5,263.8 L635.8,262.8 L636.1,263.9 L636.4,262.8 L636.7,264.9 L637.0,287.6 L637.3,286.9 L637.6,259.6 L637.9,261.0 L638.2,260.2 L638.5,287.5 L638.8,260.4 L639.1,257.1 L639.4,286.9 L639.7,268.1 L640.0,266.0 L640.3,267.1 L640.6,287.6 L640.9,287.6 L641.2,257.9 L641.5,264.4 L641.8,286.6 L642.1,260.3 L642.4,259.5 L642.7,257.0 L643.0,258.6 L643.3,255.0 L643.6,261.8 L643.9,260.7 L644.2,257.2 L644.5,287.4 L644.8,267.5 L645.1,269.0 L645.4,268.8 L645.7,266.6 L646.0,268.2 L646.3,266.0 L646.6,267.6 L646.9,266.0 L647.2,266.2 L647.5,263.2 L647.8,267.7 L648.1,265.7 L648.4,286.9 L648.7,258.9 L649.0,287.0 L649.3,258.3 L649.6,259.6 L649.9,259.6 L650.2,285.7 L650.5,287.5 L650.8,287.4 L651.1,287.9 L651.4,255.7 L651.7,287.9 L652.0,265.2 L652.3,263.5 L652.6,265.9 L652.9,285.9 L653.2,260.5 L653.5,259.7 L653.8,258.0 L654.1,260.6 L654.4,257.3 L654.7,258.6 L655.0,287.5 L655.3,287.6 L655.6,287.3 L655.9,259.1 L656.2,262.9 L656.5,257.6 L656.8,286.3 L657.1,261.1 L657.4,259.8 L657.7,259.0 L658.0,262.9 L658.3,260.3 L658.6,257.5 L658.9,262.7 L659.2,258.9 L659.5,262.9 L659.8,258.1 L660.1,257.8 L660.4,260.0 L660.7,259.2 L661.0,259.7 L661.3,262.0 L661.6,262.4 L661.9,261.7 L662.2,259.2 L662.5,253.6 L662.8,288.0 L663.1,256.3 L663.4,261.1 L663.7,260.3 L664.0,261.4 L664.0,298.4 L663.7,298.2 L663.4,297.8 L663.1,299.6 L662.8,298.1 L662.5,298.9 L662.2,297.9 L661.9,298.2 L661.6,300.5 L661.3,299.2 L661.0,298.7 L660.7,299.0 L660.4,298.3 L660.1,299.9 L659.8,298.3 L659.5,299.1 L659.2,300.6 L658.9,297.9 L658.6,297.8 L658.3,300.5 L658.0,299.5 L657.7,298.2 L657.4,298.9 L657.1,297.8 L656.8,297.6 L656.5,298.0 L656.2,298.5 L655.9,297.9 L655.6,299.1 L655.3,299.0 L655.0,298.5 L654.7,299.3 L654.4,298.3 L654.1,298.4 L653.8,300.7 L653.5,298.1 L653.2,297.9 L652.9,298.9 L652.6,299.9 L652.3,298.0 L652.0,298.1 L651.7,297.6 L651.4,300.0 L651.1,297.9 L650.8,300.2 L650.5,298.5 L650.2,298.8 L649.9,298.1 L649.6,299.3 L649.3,299.4 L649.0,297.7 L648.7,300.2 L648.4,298.6 L648.1,298.3 L647.8,298.7 L647.5,298.5 L647.2,299.3 L646.9,297.9 L646.6,297.9 L646.3,298.2 L646.0,299.8 L645.7,297.7 L645.4,297.6 L645.1,299.8 L644.8,297.8 L644.5,299.2 L644.2,297.9 L643.9,298.8 L643.6,298.3 L643.3,298.3 L643.0,298.4 L642.7,298.4 L642.4,297.8 L642.1,297.8 L641.8,299.5 L641.5,299.3 L641.2,298.3 L640.9,298.6 L640.6,297.7 L640.3,298.8 L640.0,301.0 L639.7,298.0 L639.4,301.6 L639.1,298.6 L638.8,299.9 L638.5,299.2 L638.2,298.2 L637.9,299.4 L637.6,298.8 L637.3,297.7 L637.0,298.3 L636.7,298.4 L636.4,300.0 L636.1,298.4 L635.8,298.4 L635.5,297.8 L635.2,297.8 L634.9,298.0 L634.6,297.8 L634.3,299.5 L634.0,301.3 L633.7,298.1 L633.4,298.5 L633.1,298.1 L632.8,299.3 L632.5,298.3 L632.2,300.3 L631.9,297.8 L631.6,299.4 L631.3,299.7 L631.0,300.2 L630.7,298.2 L630.4,298.9 L630.1,298.9 L629.8,298.9 L629.5,298.3 L629.2,299.4 L628.9,297.8 L628.6,297.7 L628.3,297.9 L628.0,297.8 L627.7,299.3 L627.4,297.6 L627.1,299.0 L626.8,300.4 L626.5,298.7 L626.2,298.5 L625.9,299.6 L625.6,298.0 L625.3,299.5 L625.0,298.8 L624.7,297.9 L624.4,298.5 L624.1,297.8 L623.8,299.7 L623.5,299.7 L623.2,298.6 L622.9,297.6 L622.6,298.3 L622.3,297.6 L622.0,298.1 L621.7,297.6 L621.4,297.7 L621.1,298.6 L620.8,299.6 L620.5,299.1 L620.2,299.1 L619.9,301.5 L619.6,299.3 L619.3,299.1 L619.0,298.7 L618.7,298.0 L618.4,298.8 L618.1,298.1 L617.8,298.2 L617.5,298.1 L617.2,298.2 L616.9,297.9 L616.6,298.0 L616.3,299.5 L616.0,298.4 L615.7,297.6 L615.4,298.7 L615.1,298.7 L614.8,298.5 L614.5,299.3 L614.2,298.4 L613.9,298.8 L613.6,300.4 L613.3,299.0 L613.0,298.4 L612.7,299.9 L612.4,299.6 L612.1,297.7 L611.8,299.5 L611.5,298.3 L611.2,300.7 L610.9,298.8 L610.6,298.3 L610.3,297.7 L610.0,297.7 L609.7,298.2 L609.4,298.6 L609.1,298.9 L608.8,298.5 L608.5,298.8 L608.2,298.3 L607.9,299.0 L607.6,297.8 L607.3,299.9 L607.0,298.7 L606.7,298.7 L606.4,297.9 L606.1,298.5 L605.8,299.7 L605.5,298.6 L605.2,298.6 L604.9,298.2 L604.6,299.2 L604.3,297.7 L604.0,298.9 L603.7,297.7 L603.4,299.0 L603.1,298.7 L602.8,297.8 L602.5,299.8 L602.2,300.1 L601.9,297.7 L601.6,298.6 L601.3,298.2 L601.0,297.6 L600.7,297.7 L600.4,297.7 L600.1,298.1 L599.8,298.5 L599.5,297.8 L599.2,298.5 L598.9,298.8 L598.6,297.7 L598.3,298.1 L598.0,299.5 L597.7,297.6 L597.4,297.6 L597.1,297.9 L596.8,299.1 L596.5,299.0 L596.2,298.0 L595.9,297.8 L595.6,297.7 L595.3,298.2 L595.0,299.2 L594.7,297.8 L594.4,297.6 L594.1,299.4 L593.8,297.7 L593.5,298.4 L593.2,299.3 L592.9,298.9 L592.6,298.6 L592.3,299.3 L592.0,298.5 L591.7,299.5 L591.4,298.6 L591.1,298.5 L590.8,298.8 L590.5,298.8 L590.2,299.3 L589.9,300.7 L589.6,300.0 L589.3,299.3 L589.0,299.2 L588.7,300.5 L588.4,297.9 L588.1,297.8 L587.8,297.7 L587.5,300.0 L587.2,299.0 L586.9,298.8 L586.6,299.2 L586.3,298.4 L586.0,298.8 L585.7,300.2 L585.4,299.9 L585.1,299.7 L584.8,298.7 L584.5,299.0 L584.2,298.2 L583.9,298.5 L583.6,297.8 L583.3,297.9 L583.0,299.3 L582.7,298.0 L582.4,297.6 L582.1,298.7 L581.8,297.7 L581.5,298.5 L581.2,299.5 L580.9,300.0 L580.6,299.6 L580.3,298.3 L580.0,298.9 L579.7,298.2 L579.4,299.6 L579.1,298.2 L578.8,300.5 L578.5,297.9 L578.2,298.4 L577.9,299.4 L577.6,298.4 L577.3,297.6 L577.0,298.8 L576.7,298.4 L576.4,300.9 L576.1,299.0 L575.8,298.3 L575.5,297.8 L575.2,298.5 L574.9,298.5 L574.6,298.0 L574.3,298.7 L574.0,297.9 L573.7,298.5 L573.4,302.4 L573.1,297.9 L572.8,298.2 L572.5,299.2 L572.2,301.2 L571.9,297.9 L571.6,300.0 L571.3,297.6 L571.0,299.4 L570.7,299.4 L570.4,298.5 L570.1,298.0 L569.8,297.8 L569.5,298.9 L569.2,298.9 L568.9,297.7 L568.6,297.9 L568.3,300.5 L568.0,297.6 L567.7,297.8 L567.4,298.2 L567.1,298.6 L566.8,298.7 L566.5,298.4 L566.2,298.6 L565.9,300.3 L565.6,298.6 L565.3,298.6 L565.0,299.2 L564.7,299.4 L564.4,300.1 L564.1,298.4 L563.8,297.9 L563.5,297.8 L563.2,300.5 L562.9,298.2 L562.6,298.3 L562.3,297.8 L562.0,300.0 L561.7,298.0 L561.4,297.8 L561.1,298.7 L560.8,299.2 L560.5,298.4 L560.2,300.3 L559.9,300.1 L559.6,298.0 L559.3,298.5 L559.0,298.1 L558.7,298.2 L558.4,298.1 L558.1,297.6 L557.8,298.8 L557.5,299.0 L557.2,299.5 L556.9,300.0 L556.6,301.0 L556.3,298.4 L556.0,298.0 L555.7,297.7 L555.4,299.4 L555.1,300.1 L554.8,297.8 L554.5,297.6 L554.2,299.5 L553.9,299.3 L553.6,298.1 L553.3,297.9 L553.0,300.1 L552.7,299.1 L552.4,297.7 L552.1,298.7 L551.8,298.0 L551.5,297.6 L551.2,300.2 L550.9,297.9 L550.6,298.0 L550.3,300.0 L550.0,299.0 L549.7,300.0 L549.4,297.6 L549.1,299.3 L548.8,297.9 L548.5,299.8 L548.2,298.0 L547.9,298.1 L547.6,297.6 L547.3,299.2 L547.0,299.4 L546.7,299.0 L546.4,298.1 L546.1,297.6 L545.8,298.6 L545.5,297.8 L545.2,299.4 L544.9,297.8 L544.6,299.4 L544.3,299.2 L544.0,300.4 L543.7,297.8 L543.4,298.1 L543.1,298.4 L542.8,298.6 L542.5,299.0 L542.2,298.6 L541.9,298.9 L541.6,299.0 L541.3,297.7 L541.0,298.4 L540.7,298.2 L540.4,297.9 L540.1,299.2 L539.8,297.7 L539.5,297.9 L539.2,297.7 L538.9,298.3 L538.6,297.8 L538.3,298.2 L538.0,298.3 L537.7,297.8 L537.4,297.6 L537.1,299.3 L536.8,298.3 L536.5,298.9 L536.2,298.4 L535.9,300.3 L535.6,297.9 L535.3,299.3 L535.0,298.2 L534.7,298.0 L534.4,298.3 L534.1,297.6 L533.8,297.8 L533.5,298.0 L533.2,297.6 L532.9,299.0 L532.6,298.2 L532.3,299.3 L532.0,299.0 L531.7,298.7 L531.4,298.0 L531.1,298.6 L530.8,298.3 L530.5,299.9 L530.2,298.9 L529.9,297.8 L529.6,298.6 L529.3,297.9 L529.0,299.9 L528.7,299.0 L528.4,298.4 L528.1,300.5 L527.8,297.7 L527.5,298.4 L527.2,299.3 L526.9,300.7 L526.6,298.8 L526.3,299.0 L526.0,298.5 L525.7,299.4 L525.4,297.6 L525.1,298.3 L524.8,299.3 L524.5,297.8 L524.2,299.9 L523.9,297.6 L523.6,298.0 L523.3,299.6 L523.0,297.9 L522.7,300.7 L522.4,300.4 L522.1,298.0 L521.8,297.7 L521.5,298.2 L521.2,297.7 L520.9,297.8 L520.6,298.7 L520.3,299.4 L520.0,298.1 L519.7,298.4 L519.4,299.0 L519.1,299.2 L518.8,298.3 L518.5,301.0 L518.2,299.5 L517.9,298.0 L517.6,300.5 L517.3,299.5 L517.0,297.8 L516.7,297.8 L516.4,297.6 L516.1,297.7 L515.8,300.2 L515.5,300.2 L515.2,299.0 L514.9,299.1 L514.6,299.2 L514.3,298.3 L514.0,298.6 L513.7,298.3 L513.4,299.2 L513.1,298.7 L512.8,299.0 L512.5,297.6 L512.2,298.5 L511.9,298.0 L511.6,297.7 L511.3,299.7 L511.0,298.4 L510.7,297.8 L510.4,299.0 L510.1,298.9 L509.8,298.7 L509.5,298.3 L509.2,297.8 L508.9,298.9 L508.6,298.1 L508.3,299.4 L508.0,298.2 L507.7,299.7 L507.4,298.3 L507.1,298.0 L506.8,299.9 L506.5,298.3 L506.2,299.6 L505.9,298.8 L505.6,298.0 L505.3,297.7 L505.0,298.7 L504.7,299.3 L504.4,300.0 L504.1,298.5 L503.8,297.8 L503.5,298.1 L503.2,299.8 L502.9,298.9 L502.6,298.0 L502.3,298.0 L502.0,300.3 L501.7,297.9 L501.4,298.2 L501.1,298.4 L500.8,298.8 L500.5,298.2 L500.2,298.1 L499.9,298.9 L499.6,297.8 L499.3,299.6 L499.0,298.3 L498.7,298.0 L498.4,300.1 L498.1,297.7 L497.8,297.7 L497.5,298.5 L497.2,299.7 L496.9,299.1 L496.6,300.2 L496.3,298.0 L496.0,299.0 L495.7,297.7 L495.4,298.0 L495.1,300.0 L494.8,298.9 L494.5,297.9 L494.2,297.9 L493.9,297.6 L493.6,298.5 L493.3,298.2 L493.0,299.4 L492.7,298.1 L492.4,298.3 L492.1,297.6 L491.8,297.6 L491.5,299.1 L491.2,298.9 L490.9,297.8 L490.6,298.0 L490.3,300.5 L490.0,298.7 L489.7,297.9 L489.4,299.7 L489.1,299.2 L488.8,298.5 L488.5,298.3 L488.2,298.3 L487.9,297.9 L487.6,298.5 L487.3,297.6 L487.0,298.1Z" fill="#000"/>
<line x1="487" y1="301.5" x2="522" y2="301.5" stroke="#000" stroke-width="2" />
<text x="494.3" y="314.2" font-size="12" fill="#000" text-anchor="start" >1 s</text>
<!--PLOTS-->
<text x="123" y="345" font-size="12.4" fill="#111" text-anchor="start" >raw data &amp; fit</text>
<text x="59.3" y="371.8" font-size="13" fill="#333" text-anchor="start" >C<tspan font-size="10.3" dy="3">0</tspan></text>
<text x="111.2" y="371.8" font-size="13" fill="#333" text-anchor="start" >C<tspan font-size="10.3" dy="3">1</tspan></text>
<text x="160.3" y="371.8" font-size="13" fill="#333" text-anchor="start" >C<tspan font-size="10.3" dy="3">2</tspan></text>
<text x="209.4" y="371.8" font-size="13" fill="#333" text-anchor="start" >C<tspan font-size="10.3" dy="3">3</tspan></text>
<text x="259" y="371.8" font-size="13" fill="#333" text-anchor="start" >C<tspan font-size="10.3" dy="3">4</tspan></text>
<text x="307.2" y="371.8" font-size="13" fill="#333" text-anchor="start" >O</text>
<line x1="76.5" y1="364.8" x2="101.9" y2="364.8" stroke="#333" stroke-width="1.2" />
<path d="M106.4,364.8 L100.9,362.6 L100.9,367 Z" fill="#333"/>
<line x1="81.0" y1="369.6" x2="105.4" y2="369.6" stroke="#333" stroke-width="1.2" />
<path d="M76.0,369.6 L81.5,367.4 L81.5,371.8 Z" fill="#333"/>
<text x="91.95" y="361.2" font-size="10.4" fill="#444" text-anchor="middle" >Gβγ</text>
<line x1="127.2" y1="364.8" x2="151.8" y2="364.8" stroke="#333" stroke-width="1.2" />
<path d="M156.3,364.8 L150.8,362.6 L150.8,367 Z" fill="#333"/>
<line x1="131.7" y1="369.6" x2="155.3" y2="369.6" stroke="#333" stroke-width="1.2" />
<path d="M126.7,369.6 L132.2,367.4 L132.2,371.8 Z" fill="#333"/>
<text x="142.25" y="361.2" font-size="10.4" fill="#444" text-anchor="middle" >Gβγ</text>
<line x1="177.2" y1="364.8" x2="201.5" y2="364.8" stroke="#333" stroke-width="1.2" />
<path d="M206,364.8 L200.5,362.6 L200.5,367 Z" fill="#333"/>
<line x1="181.7" y1="369.6" x2="205" y2="369.6" stroke="#333" stroke-width="1.2" />
<path d="M176.7,369.6 L182.2,367.4 L182.2,371.8 Z" fill="#333"/>
<text x="192.1" y="361.2" font-size="10.4" fill="#444" text-anchor="middle" >Gβγ</text>
<line x1="227.1" y1="364.8" x2="251.7" y2="364.8" stroke="#333" stroke-width="1.2" />
<path d="M256.2,364.8 L250.7,362.6 L250.7,367 Z" fill="#333"/>
<line x1="231.6" y1="369.6" x2="255.2" y2="369.6" stroke="#333" stroke-width="1.2" />
<path d="M226.6,369.6 L232.1,367.4 L232.1,371.8 Z" fill="#333"/>
<text x="242.14999999999998" y="361.2" font-size="10.4" fill="#444" text-anchor="middle" >Gβγ</text>
<line x1="277.6" y1="364.8" x2="301.9" y2="364.8" stroke="#333" stroke-width="1.2" />
<path d="M306.4,364.8 L300.9,362.6 L300.9,367 Z" fill="#333"/>
<line x1="282.1" y1="369.6" x2="305.4" y2="369.6" stroke="#333" stroke-width="1.2" />
<path d="M277.1,369.6 L282.6,367.4 L282.6,371.8 Z" fill="#333"/>
<line x1="45.2" y1="371.6" x2="45.2" y2="500.8" stroke="#444" stroke-width="1.2" />
<line x1="40" y1="500.4" x2="173.8" y2="500.4" stroke="#111" stroke-width="1.0" />
<line x1="40.3" y1="372.1" x2="45.2" y2="372.1" stroke="#333" stroke-width="1.2" />
<text x="38.6" y="375.70000000000005" font-size="12" fill="#111" text-anchor="end" >0.3</text>
<line x1="40.3" y1="414.79999999999995" x2="45.2" y2="414.79999999999995" stroke="#333" stroke-width="1.2" />
<text x="38.6" y="418.4" font-size="12" fill="#111" text-anchor="end" >0.2</text>
<line x1="40.3" y1="457.5" x2="45.2" y2="457.5" stroke="#333" stroke-width="1.2" />
<text x="38.6" y="461.1" font-size="12" fill="#111" text-anchor="end" >0.1</text>
<line x1="40.3" y1="500.2" x2="45.2" y2="500.2" stroke="#333" stroke-width="1.2" />
<text x="38.6" y="503.8" font-size="12" fill="#111" text-anchor="end" >0</text>
<line x1="41" y1="393.45" x2="45.2" y2="393.45" stroke="#333" stroke-width="1.2" />
<line x1="41" y1="436.15" x2="45.2" y2="436.15" stroke="#333" stroke-width="1.2" />
<line x1="41" y1="478.84999999999997" x2="45.2" y2="478.84999999999997" stroke="#333" stroke-width="1.2" />
<line x1="45.2" y1="500.2" x2="45.2" y2="504.5" stroke="#333" stroke-width="1.2" />
<text x="46.0" y="519.5" font-size="12.2" fill="#111" text-anchor="middle" >1</text>
<line x1="83.80000000000001" y1="500.2" x2="83.80000000000001" y2="504.5" stroke="#333" stroke-width="1.2" />
<text x="84.60000000000001" y="519.5" font-size="12.2" fill="#111" text-anchor="middle" >10</text>
<line x1="122.4" y1="500.2" x2="122.4" y2="504.5" stroke="#333" stroke-width="1.2" />
<text x="123.2" y="519.5" font-size="12.2" fill="#111" text-anchor="middle" >100</text>
<line x1="161.0" y1="500.2" x2="161.0" y2="504.5" stroke="#333" stroke-width="1.2" />
<text x="161.8" y="519.5" font-size="12.2" fill="#111" text-anchor="middle" >1000</text>
<text x="116.5" y="537.5" font-size="12.3" fill="#111" text-anchor="start" >Gβγ surface density, μm<tspan font-size="9.5" dy="-6">-2</tspan></text>
<text transform="translate(19.4,444.6) rotate(-90)" font-size="13" fill="#111"><tspan font-style="italic">P</tspan><tspan font-size="11" dy="2.6" dx="0.3">o</tspan></text>
<rect x="53.4" y="483.3" width="29.3" height="22.6" fill="none" stroke="#ee3333" stroke-width="1"/>
<line x1="53.9" y1="483.3" x2="206" y2="387" stroke="#ee3333" stroke-width="0.6" />
<line x1="82.8" y1="506.3" x2="297" y2="486.8" stroke="#ee3333" stroke-width="0.8" stroke-dasharray="1.5,1"/>
<polyline points="45.2,497.6 46.3,497.6 47.3,497.6 48.4,497.6 49.5,497.6 50.6,497.6 51.6,497.6 52.7,497.6 53.8,497.6 54.8,497.6 55.9,497.6 57.0,497.6 58.1,497.6 59.1,497.5 60.2,497.5 61.3,497.5 62.3,497.5 63.4,497.4 64.5,497.4 65.6,497.4 66.6,497.3 67.7,497.2 68.8,497.2 69.8,497.1 70.9,497.0 72.0,496.8 73.1,496.7 74.1,496.5 75.2,496.3 76.3,496.0 77.4,495.7 78.4,495.3 79.5,494.9 80.6,494.4 81.6,493.8 82.7,493.1 83.8,492.2 84.9,491.3 85.9,490.2 87.0,488.9 88.1,487.4 89.1,485.7 90.2,483.8 91.3,481.7 92.4,479.3 93.4,476.8 94.5,474.0 95.6,471.0 96.6,467.9 97.7,464.7 98.8,461.5 99.9,458.2 100.9,454.9 102.0,451.8 103.1,448.8 104.1,445.9 105.2,443.3 106.3,440.9 107.4,438.7 108.4,436.7 109.5,435.0 110.6,433.4 111.6,432.1 112.7,430.9 113.8,429.9 114.9,429.0 115.9,428.3 117.0,427.6 118.1,427.1 119.1,426.6 120.2,426.2 121.3,425.9 122.4,425.6 123.4,425.4 124.5,425.2 125.6,425.0 126.6,424.9 127.7,424.8 128.8,424.7 129.9,424.6 130.9,424.5 132.0,424.5 133.1,424.4 134.1,424.4 135.2,424.4 136.3,424.3 137.4,424.3 138.4,424.3 139.5,424.3 140.6,424.3 141.7,424.3 142.7,424.2 143.8,424.2 144.9,424.2 145.9,424.2 147.0,424.2 148.1,424.2 149.2,424.2 150.2,424.2 151.3,424.2 152.4,424.2 153.4,424.2 154.5,424.2 155.6,424.2 156.7,424.2 157.7,424.2 158.8,424.2 159.9,424.2 160.9,424.2 162.0,424.2 163.1,424.2 164.2,424.2 165.2,424.2 166.3,424.2 167.4,424.2 168.4,424.2 169.5,424.2 170.6,424.2 171.7,424.2 172.7,424.2 173.8,424.2" fill="none" stroke="#222" stroke-width="1.4"/>
<polyline points="45.2,497.6 46.3,497.6 47.3,497.6 48.4,497.6 49.5,497.6 50.6,497.6 51.6,497.6 52.7,497.5 53.8,497.5 54.8,497.5 55.9,497.5 57.0,497.5 58.1,497.4 59.1,497.4 60.2,497.4 61.3,497.3 62.3,497.3 63.4,497.2 64.5,497.1 65.6,497.1 66.6,497.0 67.7,496.9 68.8,496.7 69.8,496.6 70.9,496.4 72.0,496.2 73.1,496.0 74.1,495.7 75.2,495.4 76.3,495.1 77.4,494.7 78.4,494.2 79.5,493.7 80.6,493.1 81.6,492.4 82.7,491.6 83.8,490.7 84.9,489.6 85.9,488.5 87.0,487.2 88.1,485.8 89.1,484.2 90.2,482.4 91.3,480.5 92.4,478.4 93.4,476.2 94.5,473.8 95.6,471.3 96.6,468.6 97.7,465.9 98.8,463.1 99.9,460.3 100.9,457.5 102.0,454.8 103.1,452.1 104.1,449.5 105.2,447.0 106.3,444.7 107.4,442.4 108.4,440.4 109.5,438.5 110.6,436.7 111.6,435.1 112.7,433.6 113.8,432.3 114.9,431.1 115.9,429.9 117.0,428.9 118.1,428.0 119.1,427.2 120.2,426.4 121.3,425.7 122.4,425.1 123.4,424.5 124.5,424.0 125.6,423.5 126.6,423.0 127.7,422.6 128.8,422.2 129.9,421.8 130.9,421.5 132.0,421.2 133.1,420.9 134.1,420.6 135.2,420.3 136.3,420.1 137.4,419.9 138.4,419.6 139.5,419.5 140.6,419.3 141.7,419.1 142.7,419.0 143.8,418.8 144.9,418.7 145.9,418.6 147.0,418.5 148.1,418.4 149.2,418.3 150.2,418.2 151.3,418.1 152.4,418.0 153.4,418.0 154.5,417.9 155.6,417.9 156.7,417.8 157.7,417.8 158.8,417.7 159.9,417.7 160.9,417.7 162.0,417.6 163.1,417.6 164.2,417.6 165.2,417.6 166.3,417.5 167.4,417.5 168.4,417.5 169.5,417.5 170.6,417.5 171.7,417.5 172.7,417.5 173.8,417.5" fill="none" stroke="#cc22ee" stroke-width="1.4"/>
<polyline points="45.2,497.6 46.3,497.6 47.3,497.6 48.4,497.6 49.5,497.6 50.6,497.6 51.6,497.6 52.7,497.6 53.8,497.6 54.8,497.6 55.9,497.6 57.0,497.6 58.1,497.6 59.1,497.6 60.2,497.6 61.3,497.6 62.3,497.6 63.4,497.5 64.5,497.5 65.6,497.5 66.6,497.5 67.7,497.4 68.8,497.4 69.8,497.3 70.9,497.3 72.0,497.2 73.1,497.1 74.1,497.0 75.2,496.8 76.3,496.6 77.4,496.4 78.4,496.2 79.5,495.9 80.6,495.5 81.6,495.0 82.7,494.5 83.8,493.9 84.9,493.1 85.9,492.2 87.0,491.1 88.1,489.9 89.1,488.4 90.2,486.7 91.3,484.7 92.4,482.5 93.4,480.0 94.5,477.3 95.6,474.3 96.6,471.1 97.7,467.7 98.8,464.2 99.9,460.6 100.9,457.1 102.0,453.7 103.1,450.3 104.1,447.2 105.2,444.3 106.3,441.7 107.4,439.3 108.4,437.2 109.5,435.3 110.6,433.6 111.6,432.1 112.7,430.8 113.8,429.7 114.9,428.7 115.9,427.9 117.0,427.1 118.1,426.4 119.1,425.8 120.2,425.3 121.3,424.8 122.4,424.3 123.4,423.9 124.5,423.5 125.6,423.1 126.6,422.8 127.7,422.5 128.8,422.1 129.9,421.9 130.9,421.6 132.0,421.4 133.1,421.1 134.1,420.9 135.2,420.7 136.3,420.5 137.4,420.3 138.4,420.2 139.5,420.0 140.6,419.9 141.7,419.8 142.7,419.7 143.8,419.6 144.9,419.5 145.9,419.4 147.0,419.3 148.1,419.3 149.2,419.2 150.2,419.1 151.3,419.1 152.4,419.0 153.4,419.0 154.5,419.0 155.6,418.9 156.7,418.9 157.7,418.9 158.8,418.8 159.9,418.8 160.9,418.8 162.0,418.8 163.1,418.8 164.2,418.8 165.2,418.7 166.3,418.7 167.4,418.7 168.4,418.7 169.5,418.7 170.6,418.7 171.7,418.7 172.7,418.7 173.8,418.7" fill="none" stroke="#2222ee" stroke-width="1.4"/>
<circle cx="125" cy="398" r="3.8" fill="#000"/>
<circle cx="106.9" cy="428.9" r="3.8" fill="#000"/>
<circle cx="123.7" cy="425.1" r="3.8" fill="#000"/>
<circle cx="106.3" cy="446.3" r="3.8" fill="#000"/>
<circle cx="106.9" cy="458.5" r="3.8" fill="#000"/>
<circle cx="125.2" cy="456.8" r="3.8" fill="#000"/>
<circle cx="58.6" cy="500.1" r="3.8" fill="#000"/>
<circle cx="65.6" cy="491.5" r="3.8" fill="#000"/>
<circle cx="66.3" cy="495.5" r="3.8" fill="#000"/>
<circle cx="68.8" cy="499.6" r="3.8" fill="#000"/>
<circle cx="76.2" cy="492.4" r="3.8" fill="#000"/>
<circle cx="76.2" cy="496.3" r="3.8" fill="#000"/>
<circle cx="140.8" cy="457.8" r="3.5" fill="#b0b0b0" stroke="#555" stroke-width="0.8"/>
<circle cx="140.8" cy="460.8" r="3.5" fill="#b0b0b0" stroke="#555" stroke-width="0.8"/>
<line x1="102.7" y1="473.9" x2="121.7" y2="473.9" stroke="#333" stroke-width="1.5" />
<text x="124.3" y="477.0" font-size="9.6" fill="#111" text-anchor="start" >Hill plot</text>
<line x1="102.7" y1="484.2" x2="121.7" y2="484.2" stroke="#cc22ee" stroke-width="1.5" />
<text x="124.3" y="487.3" font-size="9.6" fill="#cc22ee" text-anchor="start" >W-M, free μ</text>
<line x1="102.7" y1="493.7" x2="121.7" y2="493.7" stroke="#2222ee" stroke-width="1.5" />
<text x="124.3" y="496.8" font-size="9.6" fill="#2222ee" text-anchor="start" >W-M, μ=0.3</text>
<line x1="221.9" y1="391.2" x2="221.9" y2="469.6" stroke="#111" stroke-width="1.2" />
<line x1="221.3" y1="469" x2="291.7" y2="469" stroke="#111" stroke-width="1.2" />
<line x1="218.4" y1="469.0" x2="221.9" y2="469.0" stroke="#111" stroke-width="1" />
<line x1="219.9" y1="461.2334261118693" x2="221.9" y2="461.2334261118693" stroke="#111" stroke-width="0.7" />
<line x1="219.9" y1="456.6902716282327" x2="221.9" y2="456.6902716282327" stroke="#111" stroke-width="0.7" />
<line x1="219.9" y1="453.46685222373856" x2="221.9" y2="453.46685222373856" stroke="#111" stroke-width="0.7" />
<line x1="219.9" y1="450.9665738881307" x2="221.9" y2="450.9665738881307" stroke="#111" stroke-width="0.7" />
<line x1="219.9" y1="448.923697740102" x2="221.9" y2="448.923697740102" stroke="#111" stroke-width="0.7" />
<line x1="219.9" y1="447.19647056763216" x2="221.9" y2="447.19647056763216" stroke="#111" stroke-width="0.7" />
<line x1="219.9" y1="445.70027833560783" x2="221.9" y2="445.70027833560783" stroke="#111" stroke-width="0.7" />
<line x1="219.9" y1="444.38054325646544" x2="221.9" y2="444.38054325646544" stroke="#111" stroke-width="0.7" />
<line x1="218.4" y1="443.2" x2="221.9" y2="443.2" stroke="#111" stroke-width="1" />
<line x1="219.9" y1="435.43342611186927" x2="221.9" y2="435.43342611186927" stroke="#111" stroke-width="0.7" />
<line x1="219.9" y1="430.8902716282327" x2="221.9" y2="430.8902716282327" stroke="#111" stroke-width="0.7" />
<line x1="219.9" y1="427.66685222373854" x2="221.9" y2="427.66685222373854" stroke="#111" stroke-width="0.7" />
<line x1="219.9" y1="425.1665738881307" x2="221.9" y2="425.1665738881307" stroke="#111" stroke-width="0.7" />
<line x1="219.9" y1="423.123697740102" x2="221.9" y2="423.123697740102" stroke="#111" stroke-width="0.7" />
<line x1="219.9" y1="421.39647056763215" x2="221.9" y2="421.39647056763215" stroke="#111" stroke-width="0.7" />
<line x1="219.9" y1="419.9002783356078" x2="221.9" y2="419.9002783356078" stroke="#111" stroke-width="0.7" />
<line x1="219.9" y1="418.58054325646543" x2="221.9" y2="418.58054325646543" stroke="#111" stroke-width="0.7" />
<line x1="218.4" y1="417.4" x2="221.9" y2="417.4" stroke="#111" stroke-width="1" />
<line x1="219.9" y1="409.6334261118693" x2="221.9" y2="409.6334261118693" stroke="#111" stroke-width="0.7" />
<line x1="219.9" y1="405.0902716282327" x2="221.9" y2="405.0902716282327" stroke="#111" stroke-width="0.7" />
<line x1="219.9" y1="401.86685222373853" x2="221.9" y2="401.86685222373853" stroke="#111" stroke-width="0.7" />
<line x1="219.9" y1="399.3665738881307" x2="221.9" y2="399.3665738881307" stroke="#111" stroke-width="0.7" />
<line x1="219.9" y1="397.323697740102" x2="221.9" y2="397.323697740102" stroke="#111" stroke-width="0.7" />
<line x1="219.9" y1="395.5964705676322" x2="221.9" y2="395.5964705676322" stroke="#111" stroke-width="0.7" />
<line x1="219.9" y1="394.10027833560787" x2="221.9" y2="394.10027833560787" stroke="#111" stroke-width="0.7" />
<line x1="219.9" y1="392.7805432564654" x2="221.9" y2="392.7805432564654" stroke="#111" stroke-width="0.7" />
<line x1="218.4" y1="391.6" x2="221.9" y2="391.6" stroke="#111" stroke-width="1" />
<line x1="221.9" y1="469" x2="221.9" y2="472.5" stroke="#111" stroke-width="1" />
<line x1="291.7" y1="469" x2="291.7" y2="472.5" stroke="#111" stroke-width="1" />
<line x1="242.9118936973459" y1="469" x2="242.9118936973459" y2="471.3" stroke="#111" stroke-width="0.7" />
<line x1="255.20306357943244" y1="469" x2="255.20306357943244" y2="471.3" stroke="#111" stroke-width="0.7" />
<line x1="263.9237873946918" y1="469" x2="263.9237873946918" y2="471.3" stroke="#111" stroke-width="0.7" />
<line x1="270.6881063026541" y1="469" x2="270.6881063026541" y2="471.3" stroke="#111" stroke-width="0.7" />
<line x1="276.2149572767783" y1="469" x2="276.2149572767783" y2="471.3" stroke="#111" stroke-width="0.7" />
<line x1="280.88784319299515" y1="469" x2="280.88784319299515" y2="471.3" stroke="#111" stroke-width="0.7" />
<line x1="284.93568109203767" y1="469" x2="284.93568109203767" y2="471.3" stroke="#111" stroke-width="0.7" />
<line x1="288.5061271588649" y1="469" x2="288.5061271588649" y2="471.3" stroke="#111" stroke-width="0.7" />
<text x="218.6" y="395.1" font-size="10.2" fill="#111" text-anchor="end" >0.1</text>
<text x="218.6" y="420.9" font-size="10.2" fill="#111" text-anchor="end" >0.01</text>
<text x="218.6" y="446.7" font-size="10.2" fill="#111" text-anchor="end" >0.001</text>
<text x="218.6" y="472.5" font-size="10.2" fill="#111" text-anchor="end" >0.0001</text>
<text x="221.9" y="481.3" font-size="10.5" fill="#111" text-anchor="middle" >1</text>
<text x="270.6881063026541" y="481.3" font-size="10.5" fill="#111" text-anchor="middle" >5</text>
<text x="291.7" y="481.3" font-size="10.5" fill="#111" text-anchor="middle" >10</text>
<text x="229.6" y="394.2" font-size="12" fill="#111" text-anchor="start" >slope=2.93</text>
<line x1="224.5" y1="469" x2="291.7" y2="397.2" stroke="#111" stroke-width="1.3" />
<circle cx="258.5" cy="409.3" r="2.7" fill="#000"/>
<circle cx="258.5" cy="419.1" r="2.7" fill="#000"/>
<circle cx="277.7" cy="411.4" r="2.7" fill="#000"/>
<circle cx="277.7" cy="418.9" r="2.7" fill="#000"/>
<circle cx="264.4" cy="433" r="2.7" fill="#000"/>
<circle cx="264.4" cy="435" r="2.7" fill="#000"/>
<circle cx="246.2" cy="452.2" r="2.7" fill="#000"/>
<circle cx="246.2" cy="455.5" r="2.7" fill="#000"/>
<text x="370" y="355.3" font-size="13" fill="#111" text-anchor="start" >K<tspan font-size="11.5" dy="2.6">d</tspan><tspan dy="-2.6"> &amp; P</tspan><tspan font-size="11.5" dy="2.6">o,max</tspan><tspan dy="-2.6"> from fit</tspan></text>
<line x1="363" y1="371.4" x2="363" y2="481.8" stroke="#8a8a8a" stroke-width="1" />
<line x1="363" y1="481.4" x2="413.4" y2="481.4" stroke="#9a9a9a" stroke-width="1" />
<line x1="359.8" y1="481.4" x2="363" y2="481.4" stroke="#8a8a8a" stroke-width="1" />
<text x="357.6" y="485.59999999999997" font-size="12.4" fill="#111" text-anchor="end" >0</text>
<line x1="359.8" y1="453.9" x2="363" y2="453.9" stroke="#8a8a8a" stroke-width="1" />
<text x="357.6" y="458.09999999999997" font-size="12.4" fill="#111" text-anchor="end" >5</text>
<line x1="359.8" y1="426.4" x2="363" y2="426.4" stroke="#8a8a8a" stroke-width="1" />
<text x="357.6" y="430.59999999999997" font-size="12.4" fill="#111" text-anchor="end" >10</text>
<line x1="359.8" y1="398.9" x2="363" y2="398.9" stroke="#8a8a8a" stroke-width="1" />
<text x="357.6" y="403.09999999999997" font-size="12.4" fill="#111" text-anchor="end" >15</text>
<line x1="359.8" y1="371.4" x2="363" y2="371.4" stroke="#8a8a8a" stroke-width="1" />
<text x="357.6" y="375.59999999999997" font-size="12.4" fill="#111" text-anchor="end" >20</text>
<rect x="373.7" y="458.29999999999995" width="8.5" height="23.100000000000023" fill="#000"/>
<rect x="386.1" y="440.15" width="8.8" height="41.25" fill="#bb11ee" stroke="#555" stroke-width="0.6"/>
<rect x="399.4" y="379.6" width="8" height="101.79999999999995" fill="#0000ee" stroke="#333" stroke-width="0.6"/>
<text transform="translate(338.8,447) rotate(-90)" font-size="12.4" fill="#111"><tspan font-style="italic">K</tspan><tspan font-size="9.5" dy="2.5">d</tspan><tspan dy="-2.5">, μM</tspan></text>
<line x1="449.5" y1="376" x2="449.5" y2="481.6" stroke="#8a8a8a" stroke-width="1" />
<line x1="449.5" y1="481.2" x2="488.9" y2="481.2" stroke="#9a9a9a" stroke-width="1" />
<line x1="446.3" y1="481.2" x2="449.5" y2="481.2" stroke="#8a8a8a" stroke-width="1" />
<text x="445.2" y="485.5" font-size="12.4" fill="#111" text-anchor="end" >0</text>
<line x1="446.3" y1="430.4" x2="449.5" y2="430.4" stroke="#8a8a8a" stroke-width="1" />
<text x="446.9" y="434.7" font-size="12.4" fill="#111" text-anchor="end" >0.1</text>
<line x1="446.3" y1="379.59999999999997" x2="449.5" y2="379.59999999999997" stroke="#8a8a8a" stroke-width="1" />
<text x="446.9" y="383.9" font-size="12.4" fill="#111" text-anchor="end" >0.2</text>
<line x1="447" y1="405.0" x2="449.5" y2="405.0" stroke="#8a8a8a" stroke-width="1" />
<line x1="447" y1="455.8" x2="449.5" y2="455.8" stroke="#8a8a8a" stroke-width="1" />
<rect x="452.6" y="391.284" width="8.5" height="89.916" fill="#000"/>
<rect x="465.7" y="381.12399999999997" width="7.8" height="100.07600000000002" fill="#bb11ee" stroke="#555" stroke-width="0.6"/>
<rect x="478.3" y="384.17199999999997" width="7.9" height="97.02800000000002" fill="#0000ee" stroke="#333" stroke-width="0.6"/>
<text transform="translate(425.4,452) rotate(-90)" font-size="13" fill="#111">P<tspan font-size="11" dy="1.8">o,max</tspan></text>
<rect x="364" y="502" width="21.6" height="8.8" fill="#000" stroke="#444" stroke-width="0.6"/>
<text x="389.8" y="510.6" font-size="12.4" fill="#111" text-anchor="start" >Hill plot (<tspan font-style="italic">n</tspan><tspan font-size="9" dy="2.5">H</tspan><tspan dy="-2.5">=2.27)</tspan></text>
<rect x="364" y="518.4" width="21.6" height="8.8" fill="#bb11ee" stroke="#444" stroke-width="0.6"/>
<text x="389.8" y="527.0" font-size="12.4" fill="#bb11ee" text-anchor="start" >WTM, free <tspan font-style="italic">μ</tspan> (0.44)</text>
<rect x="364" y="533.2" width="21.6" height="8.8" fill="#0000ee" stroke="#444" stroke-width="0.6"/>
<text x="389.8" y="541.8000000000001" font-size="12.4" fill="#0000ee" text-anchor="start" >WTM, fixed <tspan font-style="italic">μ</tspan>=0.3</text>
<text x="523.3" y="352.6" font-size="13" fill="#111" text-anchor="start" >averaged data &amp; simulation</text>
<line x1="533.8" y1="367.3" x2="533.8" y2="499.6" stroke="#555" stroke-width="1.1" />
<line x1="533.8" y1="499.1" x2="665.3" y2="499.1" stroke="#555" stroke-width="1.1" />
<line x1="529.5" y1="499.1" x2="533.8" y2="499.1" stroke="#555" stroke-width="1.1" />
<text x="527.6" y="503.40000000000003" font-size="12.4" fill="#111" text-anchor="end" >0</text>
<line x1="529.5" y1="446.40000000000003" x2="533.8" y2="446.40000000000003" stroke="#555" stroke-width="1.1" />
<text x="527.6" y="450.70000000000005" font-size="12.4" fill="#111" text-anchor="end" >0.1</text>
<line x1="529.5" y1="393.70000000000005" x2="533.8" y2="393.70000000000005" stroke="#555" stroke-width="1.1" />
<text x="527.6" y="398.00000000000006" font-size="12.4" fill="#111" text-anchor="end" >0.2</text>
<line x1="530" y1="472.75" x2="533.8" y2="472.75" stroke="#555" stroke-width="1.1" />
<line x1="530" y1="420.05" x2="533.8" y2="420.05" stroke="#555" stroke-width="1.1" />
<line x1="529.5" y1="367.3" x2="533.8" y2="367.3" stroke="#555" stroke-width="1.1" />
<line x1="533.8" y1="499.1" x2="533.8" y2="503.3" stroke="#555" stroke-width="1.1" />
<text x="532.8" y="518.8" font-size="12.2" fill="#111" text-anchor="middle" >1</text>
<line x1="566.6999999999999" y1="499.1" x2="566.6999999999999" y2="503.3" stroke="#555" stroke-width="1.1" />
<text x="565.3" y="518.8" font-size="12.2" fill="#111" text-anchor="middle" >10</text>
<line x1="599.5999999999999" y1="499.1" x2="599.5999999999999" y2="503.3" stroke="#555" stroke-width="1.1" />
<text x="597.1" y="518.8" font-size="12.2" fill="#111" text-anchor="middle" >100</text>
<line x1="632.5" y1="499.1" x2="632.5" y2="503.3" stroke="#555" stroke-width="1.1" />
<text x="627.7" y="518.8" font-size="12.2" fill="#111" text-anchor="middle" >1000</text>
<line x1="665.4" y1="499.1" x2="665.4" y2="503.3" stroke="#555" stroke-width="1.1" />
<text x="666.4" y="518.8" font-size="12.2" fill="#111" text-anchor="middle" >10000</text>
<text x="539.4" y="537.8" font-size="12.3" fill="#111" text-anchor="start" >Gβγ surface density, μm<tspan font-size="9.5" dy="-6">-2</tspan></text>
<text transform="translate(509.6,437) rotate(-90)" font-size="13" fill="#111"><tspan font-style="italic">P</tspan><tspan font-size="11" dy="2.6" dx="0.3">o</tspan></text>
<polyline points="533.8,495.9 534.7,495.9 535.9,495.9 537.4,495.9 539.0,495.9 540.6,495.9 542.2,495.9 543.7,495.9 545.0,495.9 546.1,495.9 547.0,495.9 547.9,495.8 548.8,495.8 549.6,495.8 550.4,495.7 551.2,495.7 552.0,495.6 552.9,495.5 553.7,495.5 554.5,495.5 555.4,495.5 556.2,495.4 557.0,495.2 557.9,495.0 558.8,494.6 559.7,494.1 560.7,493.6 561.8,493.0 562.8,492.3 563.8,491.5 564.8,490.6 565.7,489.5 566.6,488.2 567.4,486.7 568.2,484.9 568.9,483.0 569.6,480.9 570.2,478.7 570.9,476.6 571.5,474.6 572.1,472.7 572.7,470.9 573.3,469.2 573.9,467.6 574.4,466.0 575.0,464.4 575.5,462.8 576.0,461.1 576.5,459.5 577.0,457.8 577.4,456.1 577.8,454.4 578.2,452.6 578.6,450.9 579.0,449.3 579.4,447.7 579.8,446.2 580.2,444.8 580.6,443.4 581.0,442.1 581.4,440.9 581.9,439.7 582.3,438.5 582.7,437.4 583.1,436.3 583.5,435.2 583.9,434.3 584.2,433.4 584.6,432.5 585.0,431.6 585.4,430.6 585.9,429.7 586.4,428.6 587.0,427.5 587.5,426.2 588.2,425.0 588.8,423.7 589.5,422.4 590.2,421.1 591.0,419.8 591.9,418.6 592.9,417.4 593.9,416.2 595.0,415.0 596.1,413.8 597.3,412.7 598.5,411.6 599.7,410.6 600.8,409.6 601.9,408.7 603.0,407.9 604.2,407.1 605.3,406.4 606.4,405.7 607.5,405.1 608.6,404.5 609.6,404.0 610.5,403.5 611.2,403.1 611.9,402.7 612.5,402.4 613.3,402.1 614.2,401.8 615.5,401.5 617.1,401.2 619.2,400.9 621.7,400.5 624.6,400.2 627.6,399.9 630.7,399.6 633.7,399.3 636.6,399.0 639.2,398.8 641.6,398.6 644.1,398.5 646.5,398.4 648.8,398.3 651.0,398.2 652.9,398.2 654.5,398.1 655.7,398.1" fill="none" stroke="#2a35f0" stroke-width="1.2"/>
<polyline points="558.0,495.9 562.3,495.9 568.4,495.9 575.7,495.9 583.6,495.9 591.5,495.9 598.9,495.9 605.3,495.9 610.0,495.9 613.0,495.9 614.9,495.9 615.8,495.9 616.2,496.0 616.2,496.0 616.2,496.0 616.3,496.0 617.0,495.9 618.0,495.8 619.2,495.8 620.3,495.7 621.5,495.6 622.7,495.4 623.9,495.3 624.9,495.1 625.9,494.8 626.8,494.5 627.5,494.2 628.3,493.9 628.9,493.6 629.6,493.2 630.2,492.7 630.8,492.1 631.4,491.5 632.0,490.8 632.6,490.0 633.2,489.1 633.7,488.1 634.3,487.1 634.8,486.1 635.3,485.0 635.8,483.8 636.3,482.6 636.7,481.3 637.2,480.0 637.6,478.6 638.0,477.2 638.4,475.7 638.8,474.2 639.2,472.7 639.6,471.2 640.0,469.5 640.4,467.9 640.9,466.2 641.3,464.5 641.7,462.9 642.1,461.2 642.5,459.5 642.9,457.8 643.3,456.2 643.7,454.5 644.1,452.8 644.5,451.1 644.9,449.4 645.3,447.8 645.8,446.2 646.3,444.6 646.8,443.0 647.3,441.5 647.9,439.9 648.4,438.4 649.0,436.9 649.6,435.5 650.2,434.1 650.9,432.7 651.6,431.2 652.4,429.8 653.2,428.4 654.0,427.1 654.7,425.9 655.3,424.9 655.7,424.2" fill="none" stroke="#2a9a2a" stroke-width="1.2"/>
<polyline points="533.8,495.9 535.8,495.9 538.4,495.9 541.5,495.9 545.0,495.9 548.7,495.9 552.5,495.9 556.3,495.9 560.0,495.9 563.8,495.9 567.9,495.9 572.1,496.0 576.4,496.0 580.6,496.0 584.5,496.0 588.0,496.0 591.0,495.9 593.4,495.8 595.4,495.6 597.0,495.4 598.4,495.2 599.5,494.9 600.6,494.6 601.6,494.3 602.6,493.9 603.6,493.5 604.5,493.0 605.3,492.5 605.9,492.0 606.6,491.4 607.2,490.7 607.8,490.0 608.4,489.3 609.0,488.5 609.6,487.7 610.2,486.8 610.8,485.9 611.3,485.0 611.9,483.9 612.4,482.8 613.0,481.5 613.6,480.1 614.1,478.6 614.7,476.9 615.3,475.2 615.8,473.5 616.4,471.7 616.9,470.0 617.4,468.3 617.9,466.6 618.3,465.0 618.7,463.3 619.1,461.6 619.5,460.0 619.9,458.3 620.3,456.7 620.7,455.0 621.1,453.3 621.5,451.7 621.9,450.0 622.3,448.3 622.6,446.7 623.0,445.0 623.4,443.4 623.8,441.8 624.2,440.2 624.6,438.7 624.9,437.1 625.3,435.6 625.7,434.1 626.1,432.6 626.5,431.2 626.9,429.7 627.3,428.2 627.8,426.8 628.3,425.4 628.7,423.9 629.3,422.6 629.8,421.2 630.4,419.9 631.0,418.6 631.7,417.4 632.4,416.2 633.1,415.0 633.9,413.9 634.7,412.8 635.6,411.7 636.5,410.7 637.4,409.8 638.4,408.9 639.4,408.1 640.4,407.4 641.5,406.6 642.6,406.0 643.7,405.4 644.9,404.8 646.0,404.3 647.2,403.9 648.6,403.5 650.0,403.1 651.4,402.9 652.7,402.6 653.9,402.4 654.9,402.2 655.7,402.1" fill="none" stroke="#a52a2a" stroke-width="1.2"/>
<text x="612" y="395.2" font-size="12.4" fill="#2a35f0" text-anchor="start" >17.3 μM</text>
<text x="644.5" y="416.9" font-size="12.4" fill="#a52a2a" text-anchor="start" >300 μM</text>
<text x="641.3" y="489.1" font-size="12.4" fill="#2a9a2a" text-anchor="start" >1.9 mM</text>
<line x1="601.3" y1="387.5" x2="601.3" y2="429.4" stroke="#333" stroke-width="1" />
<line x1="597.0999999999999" y1="387.5" x2="605.5" y2="387.5" stroke="#333" stroke-width="1" />
<line x1="597.0999999999999" y1="429.4" x2="605.5" y2="429.4" stroke="#333" stroke-width="1" />
<line x1="585.9" y1="419.6" x2="585.9" y2="441.3" stroke="#333" stroke-width="1" />
<line x1="581.6999999999999" y1="419.6" x2="590.1" y2="419.6" stroke="#333" stroke-width="1" />
<line x1="581.6999999999999" y1="441.3" x2="590.1" y2="441.3" stroke="#333" stroke-width="1" />
<circle cx="545.4" cy="498.6" r="3.6" fill="#aaa" stroke="#444" stroke-width="0.9"/>
<circle cx="555.4" cy="493.7" r="3.6" fill="#aaa" stroke="#444" stroke-width="0.9"/>
<circle cx="585.9" cy="430.4" r="3.6" fill="#aaa" stroke="#444" stroke-width="0.9"/>
<circle cx="601.3" cy="408.5" r="3.6" fill="#aaa" stroke="#444" stroke-width="0.9"/>
<text x="592.2" y="403.4" font-size="12.2" fill="#111" text-anchor="start" >3</text>
<text x="590.3" y="430.2" font-size="12.2" fill="#111" text-anchor="start" >3</text>
<text x="538.6" y="493.2" font-size="12" fill="#111" text-anchor="start" >2</text>
<text x="550.7" y="485.9" font-size="12" fill="#111" text-anchor="start" >6</text>
</g>
</svg></body></html>
